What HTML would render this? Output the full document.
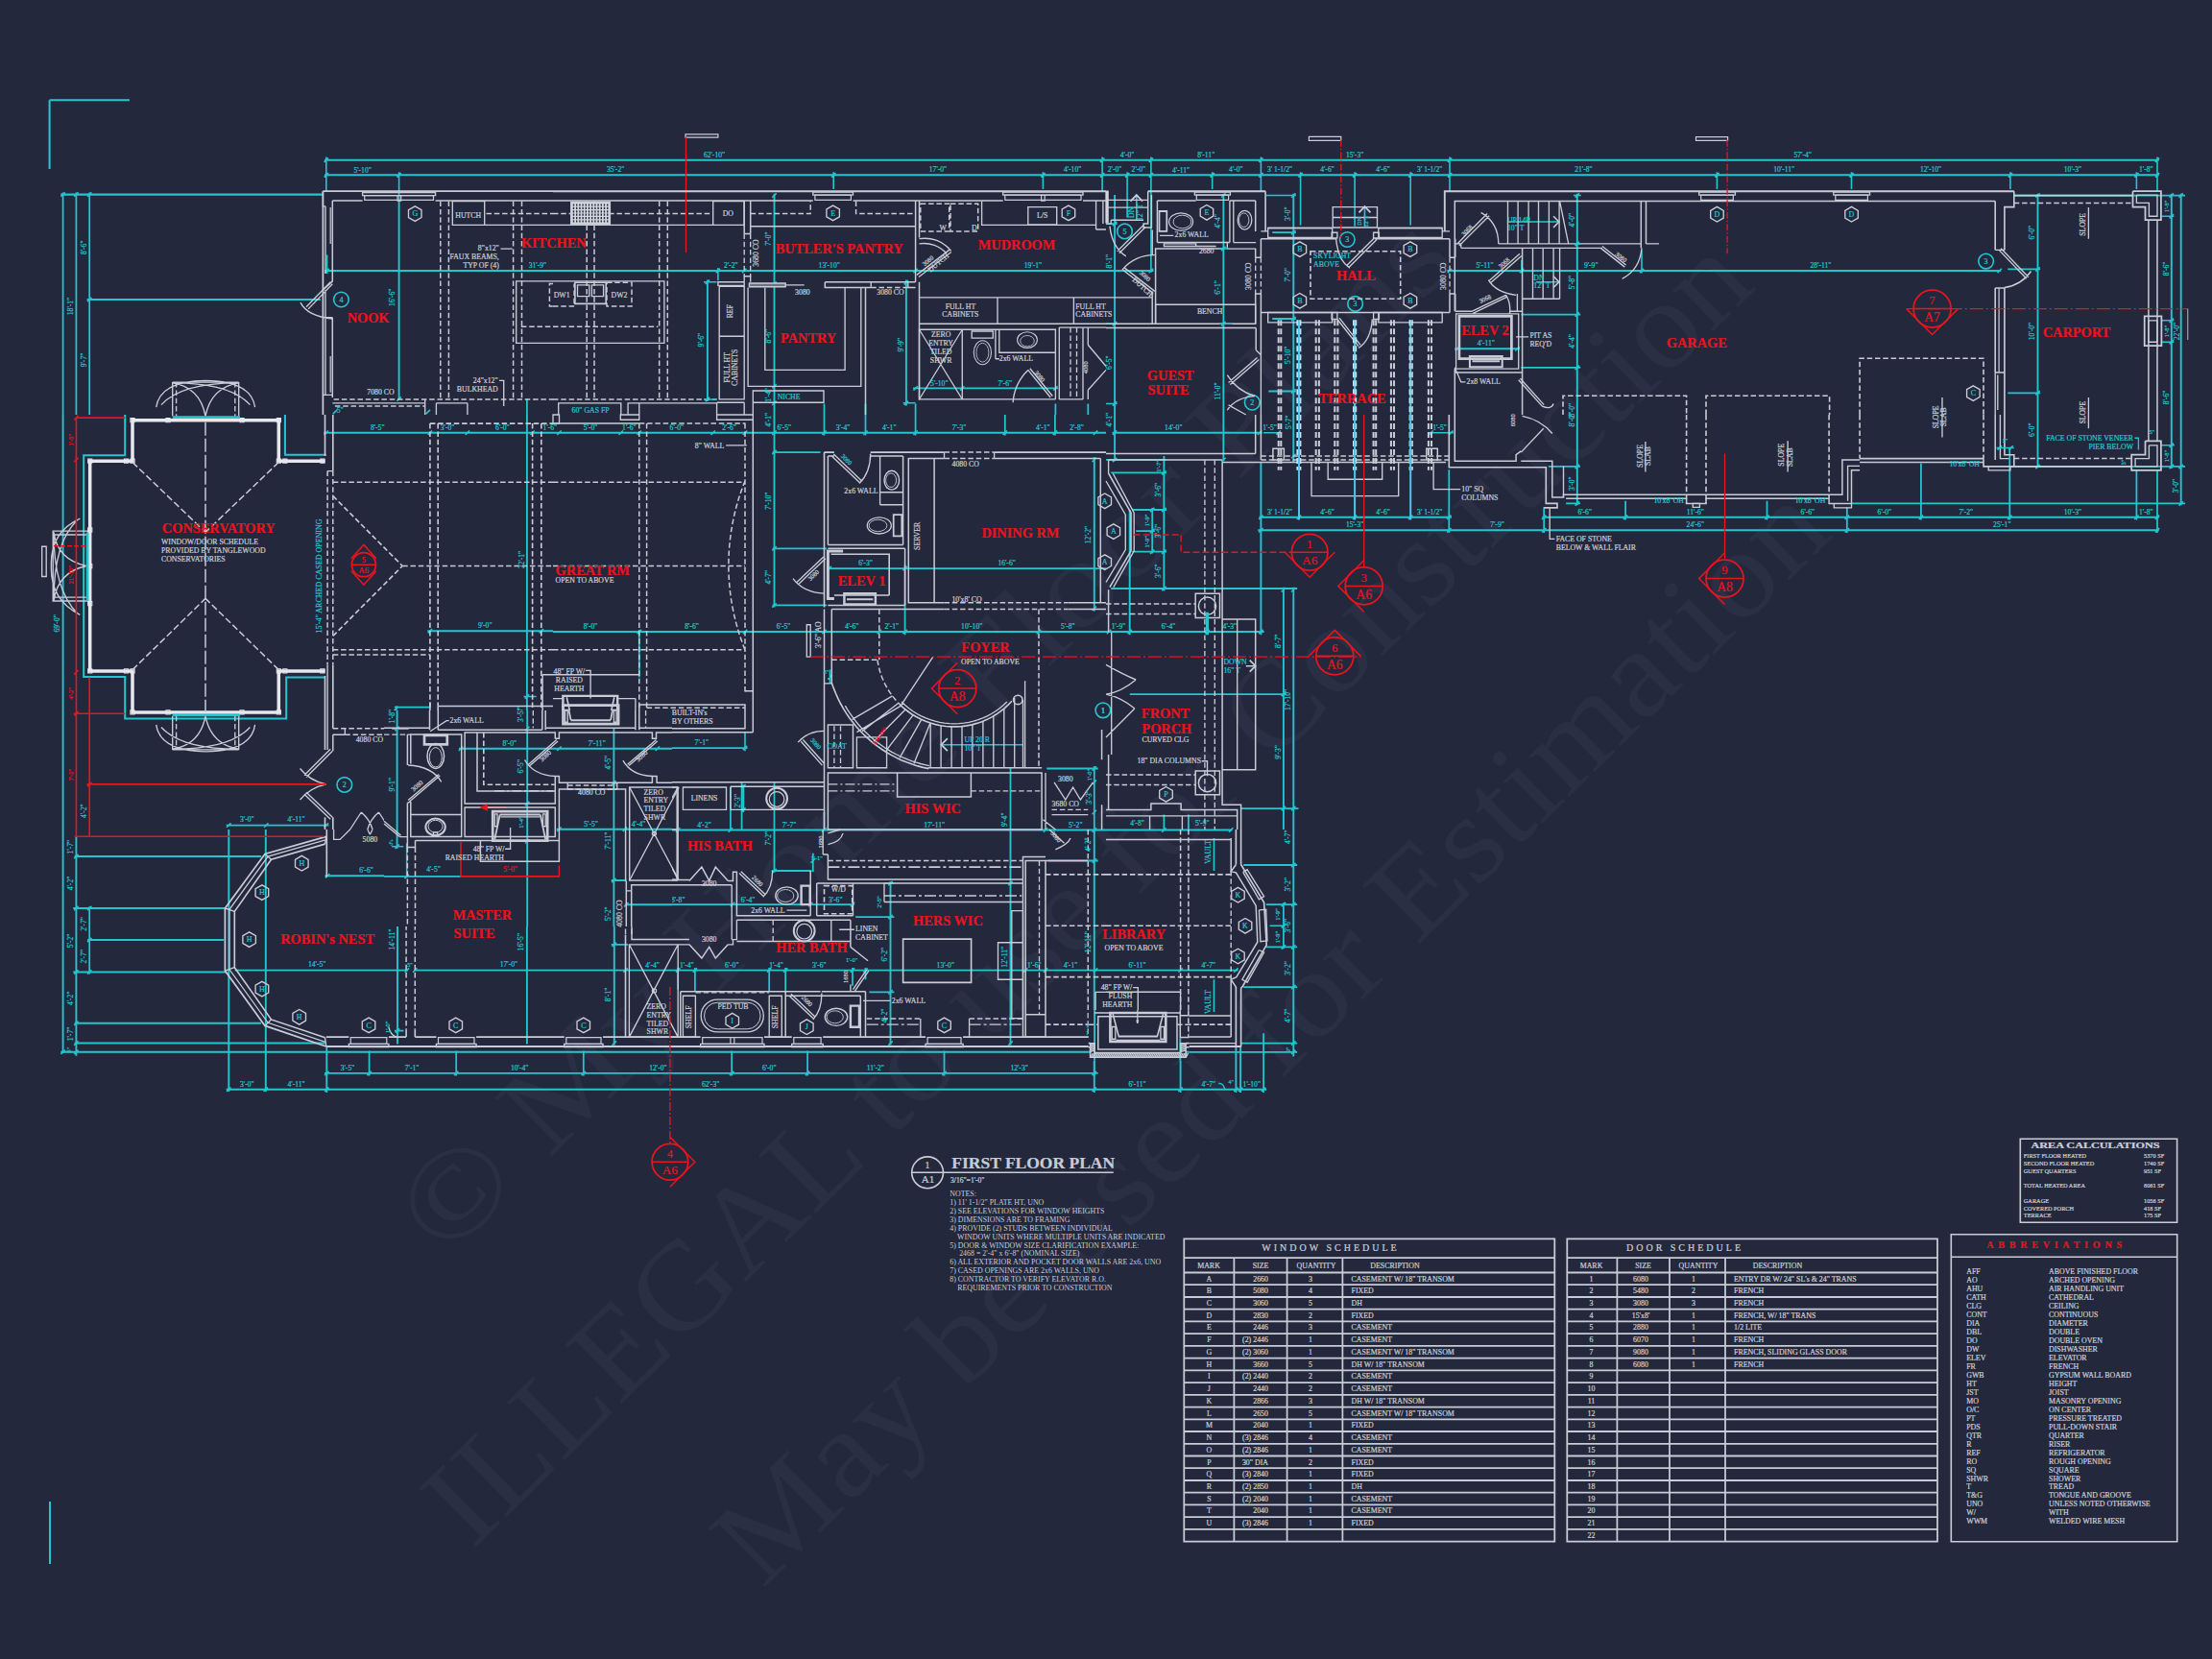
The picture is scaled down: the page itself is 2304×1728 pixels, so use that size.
<!DOCTYPE html><html><head><meta charset="utf-8"><title>First Floor Plan</title><style>html,body{margin:0;padding:0;background:#23283c}svg{display:block}text{font-family:"Liberation Serif",serif;stroke-width:.22px}</style></head><body>
<svg width="2304" height="1728" viewBox="0 0 2304 1728">
<rect width="2304" height="1728" fill="#23283c"/>
<text x="464" y="1313" font-size="130" fill="#2a2f45" stroke="none" textLength="1480" lengthAdjust="spacingAndGlyphs" transform="rotate(-44.5 464 1313)">© My Home Floor Plans</text>
<text x="492" y="1615" font-size="130" fill="#2a2f45" stroke="none" textLength="1877" lengthAdjust="spacingAndGlyphs" transform="rotate(-44.5 492 1615)">ILLEGAL to use for Construction</text>
<text x="794" y="1656" font-size="130" fill="#2a2f45" stroke="none" textLength="1567" lengthAdjust="spacingAndGlyphs" transform="rotate(-44.5 794 1656)">May be used for Estimation</text>
<path d="M52 1564L52 1629M51.6 104.2L134.9 104.2M51.6 104.2L51.6 176M90.6 312L333.8 312M339.8 473.7L296.9 473.7L296.9 432M130.2 432L130.2 474.2L87.2 474.2L87.2 704.9L130.2 704.9L130.2 748.4L298.2 748.4L298.2 705.4L338.5 705.4M77.6 892.1L272.1 892.1M76.3 946L234.4 946M91.1 979.1L233.1 979.1M76.3 1012.4L235.7 1012.4M77.6 1065.8L272.1 1065.8M77.6 1086.6L338.5 1086.6M63.3 1095.8L576 1095.8M576 1095.8L1152 1095.8" fill="none" stroke="#23c6cf" stroke-width="2.03"/>
<path d="M63.3 202.6L336.4 202.6" fill="none" stroke="#23c6cf" stroke-width="2.16"/>
<path d="M65.6 200.5L65.6 432M79.4 200.5L79.4 432M93.2 200.5L93.2 432M548.9 415.9L548.9 432M410.9 736.7L447.9 736.7M93.2 944.2L93.2 1014.5M384.6 1094.5L384.6 1120.5M475.2 1094.5L475.2 1120.5M858.5 420.5L858.5 432M901.5 420.5L901.5 432M953.6 420.5L953.6 432M1099.4 420.5L1099.4 432M1133.3 420.5L1133.3 432M858.5 432L858.5 453.4M901.5 432L901.5 453.4M953.6 432L953.6 453.4M1046.8 432L1046.8 453.4M1098.9 432L1098.9 453.4M804.6 471.1L854.6 471.1M804.6 571.3L861.1 571.3M804.6 630.4L861.1 630.4M942.6 588.2L942.6 661.2M665.8 655.9L665.8 705.4M639.8 779.1L639.8 818.7M772.6 814.8L772.6 864M806.5 814.8L806.5 864M760.9 820L760.9 864M858.5 846L858.5 864M1052.5 799.2L1052.5 864M1139.8 797.9L1139.8 864M1090.3 800.5L1143.7 800.5M774.4 817.4L774.4 846M636.7 916.6L654.1 916.6M636.7 983.8L654.1 983.8M803.8 907L845.5 907M846.8 888.7L846.8 908.3M706.2 1008L706.2 1030.7M723.9 1008L723.9 1032M801.2 1008L801.2 1032M818.2 1008L818.2 1032M888 1008L888 1026.7M901.5 1008L901.5 1020.2M891.1 955.1L931.4 955.1M905.4 1033.3L931.4 1033.3M1091.6 896.5L1143.7 896.5M607.8 1094.5L607.8 1120.5M762.2 1094.5L762.2 1120.5M841.1 1094.5L841.1 1120.5M983.5 1094.5L983.5 1120.5M1139.8 1094.5L1139.8 1120.5M1325.2 242.2L1349.9 242.2M1325.2 332L1349.9 332M1321.3 407.5L1349.9 407.5M1584.3 327.6L1646.2 327.6M1584.3 382.8L1646.2 382.8M1152 478.9L1214.5 478.9M1509.3 489.3L1509.3 554.9M1608.2 528.3L1608.2 554.9M1693.1 521.8L1693.1 541.4M1612.9 485.9L1646 485.9M1631.1 524.4L1646 524.4M1200.2 528.9L1200.2 576.5M1179.3 531L1215 531M1179.3 574.7L1215 574.7M1157.2 492.4L1215 492.4M1176.7 723.1L1340 723.1M1292.6 842.1L1352.5 842.1M1212.4 848.6L1212.4 864M1237.9 848.6L1237.9 864M1295.2 901L1351.2 901M1318.7 942.1L1351.2 942.1M1318.7 986.4L1351.2 986.4M1295.2 1028.1L1351.2 1028.1M1292.6 1086.6L1351.2 1086.6M1235.3 1095.8L1351.2 1095.8M1336.9 940.3L1336.9 988.2M1316.1 1076.2L1316.1 1137.9M2091.3 280.4L2125.1 280.4M2091.3 409.3L2125.1 409.3M1840.5 521.8L1840.5 541.4M1923.8 528.3L1923.8 554.9M2000.9 482.8L2000.9 541.4M2093.3 465.9L2093.3 541.4M2225.4 489.3L2225.4 541.4M2247 489.3L2247 554.9M1928.5 524.4L2276.1 524.4" fill="none" stroke="#23c6cf" stroke-width="1.76"/>
<path d="M63.4 204.8L67.8 200.4M77.2 204.8L81.6 200.4M91 204.8L95.4 200.4M91 314.2L95.4 309.8M339.8 163.5L339.8 199.2M415.6 179.2L415.6 209.6M337.6 168.9L342 164.5M337.6 184.5L342 180.1M413.4 184.5L417.8 180.1M413.4 417.8L417.8 413.4M338.4 284.2L342.8 279.8M340.6 265.6L340.6 285.1M347.6 312a7.8 7.8 0 1 0 15.6 0a7.8 7.8 0 1 0 -15.6 0M346.7 431.3L351.1 426.9M443.6 431.3L448 426.9M236.1 861.8L240.5 857.4M275.1 861.8L279.5 857.4M337.6 861.8L342 857.4M337.6 452.9L342 448.5M445.7 452.9L450.1 448.5M484.7 452.9L489.1 448.5M552.4 452.9L556.8 448.5M546.7 727.7L551.1 723.3M546.7 761L551.1 756.6M546.7 846.4L551.1 842M545.5 725.5L558.6 725.5M445.7 659.4L450.1 655M561.6 659.4L566 655M410.5 740.2L414.9 735.8M410.5 761.5L414.9 757.1M410.1 759.3L427.1 759.3M351 817.4a7.8 7.8 0 1 0 15.6 0a7.8 7.8 0 1 0 -15.6 0M478.2 781L482.6 776.6M77.2 894.3L81.6 889.9M77.2 948.2L81.6 943.8M77.2 1014.6L81.6 1010.2M77.2 1068L81.6 1063.6M77.2 1088.8L81.6 1084.4M77.2 1098L81.6 1093.6M91 948.2L95.4 943.8M91 981.3L95.4 976.9M91 1014.6L95.4 1010.2M63.4 1098L67.8 1093.6M236.1 1137L240.5 1132.6M274.6 1137L279 1132.6M338.1 1137L342.5 1132.6M338.1 1120.1L342.5 1115.7M382.4 1120.1L386.8 1115.7M473 1120.1L477.4 1115.7M338.9 914.4L343.3 910M421.7 914.4L426.1 910M476.9 914.4L481.3 910M411.8 881.8L416.2 877.4M411.8 1075.8L416.2 1071.4M410.9 1073.6L420.5 1073.6M421.7 1012.8L426.1 1008.4M430.1 1012.8L434.5 1008.4M866 184.5L870.4 180.1M868.2 179.2L868.2 197.1M1084.2 184.5L1088.6 180.1M1086.4 179.2L1086.4 197.1M1145.9 184.5L1150.3 180.1M1145.9 168.9L1150.3 164.5M1148.1 163.5L1148.1 199.2M804.3 205.8L808.7 201.4M804.3 297.8L808.7 293.4M804.3 404.5L808.7 400.1M804.3 422L808.7 417.6M745.7 284.2L750.1 279.8M773 284.2L777.4 279.8M951.4 284.2L955.8 279.8M747.9 279.1L747.9 292.2M734.7 295.9L739.1 291.5M734.7 418.1L739.1 413.7M941.7 296.4L946.1 292M941.7 422L946.1 417.6M951.4 406.6L955.8 402.2M1000.1 406.6L1004.5 402.2M1097.2 406.6L1101.6 402.2M580.3 452.9L584.7 448.5M644.6 452.9L649 448.5M663.6 452.9L668 448.5M740.5 452.9L744.9 448.5M773.8 452.9L778.2 448.5M804.3 452.9L808.7 448.5M856.3 452.9L860.7 448.5M899.3 452.9L903.7 448.5M951.4 452.9L955.8 448.5M1044.6 452.9L1049 448.5M1096.7 452.9L1101.1 448.5M1138.9 452.9L1143.3 448.5M804.3 473.3L808.7 468.9M804.3 573.5L808.7 569.1M804.3 632.6L808.7 628.2M861.5 594.3L865.9 589.9M940.4 594.3L944.8 589.9M1137.6 481.1L1142 476.7M1137.6 636L1142 631.6M663.6 660.2L668 655.8M773.8 660.2L778.2 655.8M856.3 660.2L860.7 655.8M913.6 660.2L918 655.8M940.4 660.2L944.8 655.8M1079.8 660.2L1084.2 655.8M580.3 781.3L584.7 776.9M681.9 781.3L686.3 776.9M773.8 781.3L778.2 776.9M776 762.7L776 782.2M684.1 770.5L684.1 782.2M637.6 818.3L642 813.9M1137.6 802.7L1142 798.3M1137.6 817L1142 812.6M1137.6 848.2L1142 843.8M772.2 821.4L776.6 817M772.2 845.6L776.6 841.2M980.9 775.7L1065.5 775.7M1141.1 739.8a7.8 7.8 0 1 0 15.6 0a7.8 7.8 0 1 0 -15.6 0M864.5 697.6L864.5 711.9M862.3 707.6L866.7 703.2M580.3 866.7L584.7 862.3M649.3 866.7L653.7 862.3M704 866.7L708.4 862.3M758.7 866.7L763.1 862.3M856.3 866.7L860.7 862.3M1086.8 866.7L1091.2 862.3M1137.6 866.7L1142 862.3M637.6 918.8L642 914.4M637.6 986L642 981.6M637.6 1088.8L642 1084.4M649.8 944.3L654.2 939.9M760.8 944.3L765.2 939.9M842 944.3L846.4 939.9M885.8 944.3L890.2 939.9M804.3 909.2L808.7 904.8M844.6 898.7L849 894.3M649.3 1012.8L653.7 1008.4M704 1012.8L708.4 1008.4M721.7 1012.8L726.1 1008.4M799 1012.8L803.4 1008.4M816 1012.8L820.4 1008.4M885.8 1012.8L890.2 1008.4M899.3 1012.8L903.7 1008.4M1066 1012.8L1070.4 1008.4M1086.8 1012.8L1091.2 1008.4M1138.9 1012.8L1143.3 1008.4M925.3 922.2L929.7 917.8M925.3 957.3L929.7 952.9M925.3 1035.5L929.7 1031.1M925.3 1088.8L929.7 1084.4M921 920L931.4 920M1050.3 922.2L1054.7 917.8M1050.3 1088.8L1054.7 1084.4M1137.6 898.7L1142 894.3M605.6 1120.1L610 1115.7M760 1120.1L764.4 1115.7M838.9 1120.1L843.3 1115.7M981.3 1120.1L985.7 1115.7M1137.6 1120.1L1142 1115.7M1137.6 1137L1142 1132.6M1196.7 168.9L1201.1 164.5M1196.7 184.5L1201.1 180.1M1198.9 163.5L1198.9 199.2M1311.2 168.9L1315.6 164.5M1311.2 184.5L1315.6 180.1M1313.4 163.5L1313.4 199.2M1507.8 168.9L1512.2 164.5M1507.8 184.5L1512.2 180.1M1510 163.5L1510 199.2M1171.9 184.5L1176.3 180.1M1174.1 179.2L1174.1 226.5M1260.5 184.5L1264.9 180.1M1262.7 179.2L1262.7 197.1M1352.4 184.5L1356.8 180.1M1354.6 179.2L1354.6 234.4M1408.9 184.5L1413.3 180.1M1411.1 179.2L1411.1 235.7M1467 184.5L1471.4 180.1M1469.2 179.2L1469.2 234.4M1198.9 199.2L1198.9 283.8M1272.2 205.8L1276.6 201.4M1272.2 261.3L1276.6 256.9M1272.2 339.4L1276.6 335M1345.1 205.8L1349.5 201.4M1345.1 244.4L1349.5 240M1345.1 334.2L1349.5 329.8M1345.1 409.7L1349.5 405.3M1158.9 235.3L1163.3 230.9M1158.9 339.4L1163.3 335M1158.9 422.7L1163.3 418.3M1152 233.1L1163.7 233.1M1152 337.2L1163.7 337.2M1152 420.5L1163.7 420.5M1196.7 284.2L1201.1 279.8M1507.8 284.2L1512.2 279.8M1582.8 284.2L1587.2 279.8M1707.8 284.2L1712.2 279.8M1585 270.8L1585 284.4M1710 260.4L1710 284.4M1640.6 205.8L1645 201.4M1640.6 256.1L1645 251.7M1640.6 329.8L1645 325.4M1640.6 385L1645 380.6M1515.7 365.5L1520.1 361.1M1578.2 365.5L1582.6 361.1M1163.7 240.9a7.8 7.8 0 1 0 15.6 0a7.8 7.8 0 1 0 -15.6 0M1395.5 249.5a7.8 7.8 0 1 0 15.6 0a7.8 7.8 0 1 0 -15.6 0M1403.8 316.4a7.8 7.8 0 1 0 15.6 0a7.8 7.8 0 1 0 -15.6 0M1296.5 419.2a7.8 7.8 0 1 0 15.6 0a7.8 7.8 0 1 0 -15.6 0M1569.9 231L1623.3 231M1599.9 293.7L1623.3 293.7M1183.8 203.1L1183.8 229.2M1421.5 215.6L1421.5 235.7M1158.9 481.1L1163.3 476.7M1158.9 452.9L1163.3 448.5M1309.9 452.9L1314.3 448.5M1272.2 481.1L1276.6 476.7M1316.1 450.7L1334.3 450.7M1487.9 450.7L1514 450.7M1329.5 452.9L1333.9 448.5M1488.3 452.9L1492.7 448.5M1509.1 452.9L1513.5 448.5M1345.1 477.2L1349.5 472.8M1311.2 541L1315.6 536.6M1350.8 541L1355.2 536.6M1408.9 541L1413.3 536.6M1467 541L1471.4 536.6M1507.1 541L1511.5 536.6M1311.2 554.5L1315.6 550.1M1507.1 554.5L1511.5 550.1M1606 554.5L1610.4 550.1M1606 541L1610.4 536.6M1690.9 541L1695.3 536.6M1640.6 488.1L1645 483.7M1640.6 526.6L1645 522.2M1210.2 494.6L1214.6 490.2M1210.2 533.2L1214.6 528.8M1210.2 576.9L1214.6 572.5M1210.2 615.2L1214.6 610.8M1198 533.2L1202.4 528.8M1198 555.3L1202.4 550.9M1198 576.9L1202.4 572.5M1183.2 553.1L1202.8 553.1M1152.9 660.2L1157.3 655.8M1174.5 660.2L1178.9 655.8M1255.3 660.2L1259.7 655.8M1311.2 660.2L1315.6 655.8M1334.7 616.5L1339.1 612.1M1334.7 725.3L1339.1 720.9M1334.7 844.3L1339.1 839.9M1345.1 616.5L1349.5 612.1M1345.1 844.3L1349.5 839.9M1141.1 739.8a7.8 7.8 0 1 0 15.6 0a7.8 7.8 0 1 0 -15.6 0M1210.2 866.7L1214.6 862.3M1280 866.7L1284.4 862.3M1345.1 903.2L1349.5 898.8M1345.1 944.3L1349.5 939.9M1345.1 988.6L1349.5 984.2M1345.1 1030.3L1349.5 1025.9M1345.1 1088.8L1349.5 1084.4M1345.1 1098L1349.5 1093.6M1334.7 944.3L1339.1 939.9M1334.7 966.5L1339.1 962.1M1334.7 988.6L1339.1 984.2M1322.6 964.3L1338.7 964.3M1227.4 1012.8L1231.8 1008.4M1285.2 1012.8L1289.6 1008.4M1227.4 1137L1231.8 1132.6M1285.2 1137L1289.6 1132.6M1289.9 1137L1294.3 1132.6M1313.9 1137L1318.3 1132.6M1264.5 873.1L1264.5 907M1264.5 1020.2L1264.5 1054.1M1786.2 184.5L1790.6 180.1M1788.4 179.2L1788.4 197.1M1926.3 184.5L1930.7 180.1M1928.5 179.2L1928.5 197.1M2091.7 184.5L2096.1 180.1M2093.9 179.2L2093.9 197.1M2223.2 184.5L2227.6 180.1M2225.4 179.2L2225.4 197.1M2244.8 168.9L2249.2 164.5M2244.8 184.5L2249.2 180.1M2247 163.5L2247 199.2M2060.8 272.1a7.8 7.8 0 1 0 15.6 0a7.8 7.8 0 1 0 -15.6 0M2080.5 284.2L2084.9 279.8M2120.3 205.8L2124.7 201.4M2120.3 282.6L2124.7 278.2M2120.3 411.5L2124.7 407.1M2097.8 203.6L2276.1 203.6M2259.6 205.8L2264 201.4M2259.6 227.4L2264 223M2259.6 336L2264 331.6M2259.6 358.4L2264 354M2269.5 205.8L2273.9 201.4M2251.4 225.2L2264.4 225.2M2251.4 333.8L2264.4 333.8M2251.4 356.2L2264.4 356.2M1838.3 541L1842.7 536.6M1921.6 541L1926 536.6M1998.7 541L2003.1 536.6M2091.1 541L2095.5 536.6M2223.2 541L2227.6 536.6M2244.8 541L2249.2 536.6M1921.6 554.5L1926 550.1M2244.8 554.5L2249.2 550.1M2120.3 488.1L2124.7 483.7M2259.6 466L2264 461.6M2259.6 488.1L2264 483.7M2269.5 488.1L2273.9 483.7M2269.5 526.6L2273.9 522.2M2251.4 463.8L2264.9 463.8M2092.6 485.9L2276.1 485.9M2080.5 468.6L2084.9 464.2M2092.4 468.6L2096.8 464.2" fill="none" stroke="#23c6cf" stroke-width="1.62"/>
<path d="M338 166.7L576 166.7M338 182.3L576 182.3M415.6 209.6L415.6 415.6M338 282L576 282M65.6 432L65.6 864M235.7 859.6L342.4 859.6M337.2 450.7L576 450.7M548.9 432L548.9 864M445.3 657.2L576 657.2M412.7 735.4L412.7 864M477.8 778.8L576 778.8M65.6 864L65.6 1097.1M79.4 871.3L79.4 1099.7M238.3 864L238.3 1136.9M276.8 864L276.8 1136.9M235.7 1134.8L576 1134.8M338 1117.9L576 1117.9M340.3 1090.5L340.3 1137.9M338.5 912.2L480.4 912.2M414 877L414 1087.4M244.8 1010.6L425 1010.6M431 1010.6L576 1010.6M548.9 864L548.9 1087.4M576 166.7L1152 166.7M576 182.3L1152 182.3M806.5 201.8L806.5 432M576 282L1152 282M736.9 291.6L736.9 417.9M943.9 291.6L943.9 422.4M951 404.4L1102 404.4M576 450.7L1152 450.7M806.5 432L806.5 632.5M862.4 592.1L1152 592.1M1139.8 476.3L1139.8 636.4M576 658L1152 658M576 779.1L778.6 779.1M576 864.5L1152 864.5M639.8 864L639.8 1088.5M650.2 942.1L889.8 942.1M806.5 864L806.5 908.8M576 1010.6L1152 1010.6M927.5 918.2L927.5 1088.5M1052.5 864L1052.5 1088.5M1139.8 864L1139.8 1137.9M576 1117.9L1143.7 1117.9M576 1134.8L1152 1134.8M1152 166.7L1728 166.7M1152 182.3L1728 182.3M1274.4 201.8L1274.4 432M1347.3 201.8L1347.3 432M1161.1 203.1L1161.1 432M1152 282L1201.5 282M1507.4 282L1728 282M1642.8 201.8L1642.8 432M1515.3 363.3L1583 363.3M1161.1 432L1161.1 480.2M1158.5 450.7L1314.7 450.7M1274.4 432L1274.4 480.2M1347.3 432L1347.3 481.5M1311.4 538.8L1511.9 538.8M1310.3 552.3L1728 552.3M1606.4 538.8L1728 538.8M1313.4 481.5L1313.4 661.2M1642.8 432L1642.8 526.3M1212.4 475L1212.4 615.6M1157.2 613L1351.2 613M1176.7 531L1176.7 661.2M1152 658L1316.6 658M1336.9 611.7L1336.9 864M1347.3 611.7L1347.3 864M1152 864.5L1283.5 864.5M1347.3 864L1347.3 1100.4M1152 1010.6L1289.5 1010.6M1152 1134.8L1319.2 1134.8M1229.6 1090.5L1229.6 1137.9M1287.4 1090.5L1287.4 1137.9M1292.1 1090.5L1292.1 1137.9M1728 166.7L2248.8 166.7M1728 182.3L2248.8 182.3M1728 282L2084.2 282M2122.5 201.8L2122.5 432M2261.8 201.8L2261.8 432M2271.7 201.8L2271.7 432M1728 538.8L2248.8 538.8M1728 552.3L2248.8 552.3M2122.5 432L2122.5 487.2M2261.8 432L2261.8 488M2271.7 432L2271.7 526.3" fill="none" stroke="#23c6cf" stroke-width="1.89"/>
<path d="M439 226.5L432.3 230.4L425.5 226.5L425.5 218.7L432.3 214.8L439 218.7ZM339 214.8L339 285.1M336.4 199.2L336.4 214.8L339 214.8M339 302.1L339 411.4M338.5 330.7L346.3 330.7M336.4 411.4L346.3 411.4M344.2 293.7L319 319.8M346.3 295.8L321.1 321.9M313 315.1Q320.3 329.4 346.3 332M377.6 200.5L453.6 200.5L453.6 203.6L377.6 203.6ZM471.3 209.6L504.7 209.6L504.7 234.4L471.3 234.4ZM504.7 234.4L576 234.4M521.6 259.1L533.8 259.1M520 396.3L524.7 396.3L524.7 423.1M576 292.9L537.7 292.9L537.7 357.3L576 357.3M346.3 419.8L442.7 419.8M442.7 415.9L442.7 432M454.4 419.8L454.4 432M486.9 419.8L486.9 432M454.4 419.8L486.9 419.8M83.3 540.1Q52.1 554.4 53.4 589.5M53.4 589.5Q52.1 624.7 83.3 640.3M56 554.4Q59.9 583 89.8 589.5M56 626Q59.9 596.1 89.8 589.5M56 555.7Q56 614.3 80.7 639M56 624.7Q56 564.8 80.7 541.4M55.2 553.1L91.7 553.1L91.7 557L55.2 557ZM55.2 622.1L91.7 622.1L91.7 626L55.2 626ZM55.2 553.1L55.2 626M43.7 569.2L48.2 569.2L48.2 600.5L43.7 600.5ZM162.7 754.9Q166.7 782.2 214 782.8M214 782.8Q261.7 782.2 265.6 754.9M179.7 780.2Q208.3 775.7 214 745.8M248.7 780.2Q220 775.7 214 745.8M181 780.2Q239.6 780.2 260.4 757.5M247.4 780.2Q188.8 780.2 168 757.5M179.7 745.8L179.7 780.9M248.7 745.8L248.7 780.9M179.7 780.9L248.7 780.9M341.1 490.6L346.8 490.6M341.1 692.4L341.1 780.9M359.3 758.8L359.3 765.3M447.9 761.4L464.8 750.2L468.2 750.2M423.1 796.6Q447.9 796.6 459.6 813.5M423.1 838.2L458.3 809.6M425.2 840.3L460.4 811.7M346.3 782.2L319 809.6M344.2 780.2L316.9 807.5M346.3 851.2L319 825.2M344.2 853.3L316.9 827.3M312.5 800.5Q322.9 813.5 339.8 816.9M312.5 833Q322.9 820.5 339.8 816.9M364.6 864L376.3 846M406.2 864L394.5 846M376.3 846Q385.4 853.8 388 864M394.5 846Q385.4 853.8 382.8 864M548.1 792.7L576 767.9M546.8 791.3Q557.3 807 576 810.9M162.7 424.2Q166.7 396.8 214 396.3M214 396.3Q261.7 396.8 265.6 424.2M179.7 398.9Q208.3 403.4 214 433.3M248.7 398.9Q220 403.4 214 433.3M181 398.9Q239.6 398.9 260.4 421.6M247.4 398.9Q188.8 398.9 168 421.6M179.7 398.1L179.7 433.3M248.7 398.1L248.7 433.3M179.7 398.1L248.7 398.1M321.1 903.1L314.3 907L307.5 903.1L307.5 895.3L314.3 891.4L321.1 895.3ZM279.7 933.5L272.9 937.4L266.1 933.5L266.1 925.7L272.9 921.8L279.7 925.7ZM266.4 982.5L259.6 986.4L252.9 982.5L252.9 974.7L259.6 970.8L266.4 974.7ZM279.7 1034L272.9 1037.9L266.1 1034L266.1 1026.2L272.9 1022.3L279.7 1026.2ZM318.5 1063.2L311.7 1067.1L304.9 1063.2L304.9 1055.4L311.7 1051.5L318.5 1055.4ZM390.8 1071.8L384.1 1075.7L377.3 1071.8L377.3 1064L384.1 1060.1L390.8 1064ZM481.5 1071.8L474.7 1075.7L468 1071.8L468 1064L474.7 1060.1L481.5 1064ZM339.8 871.3L338.5 879.1M276 889.5L282.5 895.2M234.4 946L244.3 949.4M234.4 1011.1L244.3 1007.7M276 1068.4L282.5 1061.9M339.8 1090L338.5 1080.7M363.3 1087.4L404.9 1087.4L404.9 1090.5L363.3 1090.5ZM454.4 1087.4L496.1 1087.4L496.1 1090.5L454.4 1090.5ZM385.4 869.2L382.8 864M385.4 869.2L388 864M347.6 864L347.6 874.4L354.1 874.4L364.6 864M432.3 864L432.3 875.7M480.4 864L480.4 875.7M484.3 864L484.3 871.3M520.8 883.5L531.2 883.5L531.2 864M406.2 867.9Q411.4 874.4 417.9 875.7M404.9 1069.7Q406.2 1077.5 412.7 1080.1M874.4 225.8L867.6 229.7L860.9 225.8L860.9 218L867.6 214.1L874.4 218ZM1119.7 225.8L1112.9 229.7L1106.2 225.8L1106.2 218L1112.9 214.1L1119.7 218ZM846.8 200L888.5 200L888.5 203.1L846.8 203.1ZM1044.7 200L1128 200L1128 203.1L1044.7 203.1ZM576 234.4L775.2 234.4M742.7 209.6L775.2 209.6L775.2 234.4L742.7 234.4ZM775.2 243.5L781.7 243.5M775.2 296.9L775.2 287.7L781.7 287.7L781.7 293.7M781.7 235.7L953.6 235.7M1022.6 209.6L1022.6 234.4L1141.6 234.4M1141.6 209.1L1141.6 239M1141.6 239L1152 239M1148.9 209.1L1148.9 233.1M1070.8 215.6L1100.7 215.6L1100.7 233.8L1070.8 233.8ZM957.5 248.7A35.2 35.2 0 0 1 990.6 261.2M957.5 253.9A31.2 31.2 0 0 1 986.1 264.3M954.9 286.4L988.7 260.4M957 288.5L990.8 262.5M747.9 293.7L775.2 293.7L775.2 297.4L747.9 297.4ZM818.2 296.9L837.7 296.9M907.2 293.7L907.2 299.5M945.8 293.7L945.8 299.5M945.8 299.5L953.6 299.5M749.2 298.2L775.2 298.2L775.2 350.2L749.2 350.2ZM749.2 350.2L775.2 350.2L775.2 415.9L749.2 415.9ZM779.1 299.5L779.1 402.3L896.8 402.3L896.8 299.5M796.8 299.5L796.8 385.4L880.1 385.4L880.1 299.5M784.3 407L858 407L858 419.2L784.3 419.2ZM746.6 419.2L775.2 419.2M746.6 419.2L746.6 432M775.2 419.2L775.2 432M784.3 419.2L784.3 432M957.5 309.9L1152 309.9M957.5 337.2L1152 337.2M1039 309.9L1039 337.2M1118.4 309.9L1118.4 337.2M957.5 343.2L1002.3 343.2L1002.3 415.9L957.5 415.9ZM957.5 343.2L1099.4 343.2M1099.4 343.2L1099.4 415.9M957.5 415.9L1099.4 415.9M1040.8 343.2L1099.4 343.2L1099.4 367.2L1040.8 367.2ZM1036.9 343.2L1036.9 373.7M1036.9 373.7L1040.8 373.7M1012.2 345L1034.3 345L1034.3 352.1L1012.2 352.1ZM1103.3 341.1L1103.3 415.9M1128 341.1L1128 415.9M1133.3 341.1L1133.3 359.3M1103.3 341.1L1152 341.1M1103.3 415.9L1128 415.9M1133.3 359.3L1152 381.5M1133.3 406.2L1152 385.4M1133.3 406.2L1133.3 415.9M1055.1 419.2A52.1 52.1 0 0 1 1070.8 385.4M1070.8 385.4L1094.2 414M1072.8 383.8L1096.3 412.5M576 292.9L691.9 292.9L691.9 357.3L576 357.3M601.5 296.9L613.8 296.9L613.8 308.6L601.5 308.6ZM616.4 296.9L628.6 296.9L628.6 308.6L616.4 308.6ZM581.7 432L581.7 419.8L646.8 419.8L646.8 432M654.1 432L654.1 419.8L665.8 419.8L665.8 432M665.8 419.8L746.6 419.8M576 432L582.5 432L582.5 441.1L576 441.1ZM646.3 432L665.8 432L665.8 437.2L646.3 437.2ZM746.6 432L784.3 432L784.3 437.2L746.6 437.2ZM756.2 463.8L777.8 463.8M776 719.7L784.3 719.7M609.9 698.4L615.1 698.4L615.1 727.6M588.5 739.3L592.1 739.3L592.1 751L588.5 751ZM638 739.3L641.6 739.3L641.6 751L638 751ZM576 727.6L586.4 727.6M643.2 727.6L661.9 727.6M661.9 727.6L661.9 757.5M576 757.5L661.9 757.5M581.2 762.7L581.2 770.5L576 773.1M680.2 762.7L680.2 770.5M684.8 762.7L684.8 770.5M680.2 770.5L684.8 770.5M680.2 768.4L654.1 795.8M678.1 766.6L652 794M648.4 792.7Q659.3 807 680.2 808.8M680.2 808.3L684.8 808.3L684.8 814.8L680.2 814.8ZM581.2 820L654.1 820M581.2 814.8L581.2 864M651.5 820L651.5 864M655.4 820L706.2 820L706.2 864L655.4 864ZM655.4 820L681.5 864M706.2 820L681.5 864M711.4 820L756.5 820L756.5 843.4L711.4 843.4ZM760.9 819.2L858.5 819.2M760.9 843.4L858.5 843.4M760.9 819.2L760.9 843.4M983.5 471.1L983.5 477.6M1035.6 471.1L1035.6 477.6M866.3 475L895 502.3M868.4 473.1L897.1 500.5M906.7 472.4Q906.7 491.9 895 503.6M916.6 475L916.6 525.7M916.6 525.7L940.6 525.7M916.6 512.7L940.6 512.7M862.4 475L868.9 475M906.7 475L940.6 475M859.8 581.7L831.2 609.1M857.8 579.9L829.1 607.2M826 602.6Q836.4 616.9 858.5 618.2M858.5 711.9L866.3 711.9M840.3 650.7L844.2 650.7L844.2 684.1L840.3 684.1ZM880.3 735.1L882.7 739.1L885.2 742.9L887.9 746.7L890.7 750.4L893.6 754L896.6 757.5L899.8 760.8L903.1 764.1L906.5 767.2L910 770.2L913.6 773.1L917.3 775.8L921.1 778.5L925 780.9L929 783.3L933.1 785.5L937.2 787.5L941.4 789.4L945.7 791.2L950.1 792.8L954.5 794.2L958.9 795.5L963.4 796.6L967.9 797.6M939.1 731.1L942.8 734.6L946.7 737.8L950.8 740.8L955.1 743.5L959.6 745.8L964.2 747.9L969 749.7L973.9 751.2L978.8 752.4L983.8 753.2L988.9 753.7L993.9 753.9L999 753.7L1004.1 753.2L1009.1 752.4L1014 751.2L1018.9 749.7L1023.6 747.9L1028.3 745.8L1032.7 743.5L1037 740.8L1041.2 737.8L1045.1 734.6L1048.8 731.1M929.5 724.8L887.6 749.4M935.9 732.3L898 761.6M943.1 739L909.9 772.5M951.2 744.7L923 781.8M959.8 749.4L937.1 789.4M969 753L952 795.3M969.2 753.1L969.2 799.7M980.1 755.8L980.1 799.7M991.1 756.9L991.1 799.7M1002 756.6L1002 799.7M1012.9 754.7L1012.9 799.7M1023.9 751.2L1023.9 799.7M1034.8 745.9L1034.8 799.7M1045.8 738.1L1045.8 799.7M1056.7 727L1056.7 799.7M1067.6 709.2L1067.6 799.7M1065.5 728.9L1065.5 799.7M971.8 684.1L938 735.4M938 735.4L892.4 762.7M892.4 767.9L923.6 767.9L923.6 799.7L892.4 799.7ZM831.2 773.1Q841.6 761.4 858.5 761.4M836.4 770.5L858.5 795.3M834.3 772.3L856.4 797.1M1089 804.9L1089 864M1098.1 814.8L1109.8 833L1117.6 820L1125.4 833L1138.5 814.8M1095.5 848.6L1133.3 848.6M1086.4 853.8L1099.4 864M614.5 1071.8L607.8 1075.7L601 1071.8L601 1064L607.8 1060.1L614.5 1064ZM769.5 1067.1L762.7 1071L756 1067.1L756 1059.3L762.7 1055.4L769.5 1059.3ZM847.1 1073.6L840.3 1077.5L833.5 1073.6L833.5 1065.8L840.3 1061.9L847.1 1065.8ZM990.3 1071.8L983.5 1075.7L976.8 1071.8L976.8 1064L983.5 1060.1L990.3 1064ZM655.4 864L655.4 916.1M655.4 983.8L655.4 1080.1M655.4 864L706.2 864L706.2 916.1L655.4 916.1ZM655.4 916.1L681.5 867.9L706.2 916.1M655.4 983.8L706.2 983.8L706.2 1080.1L655.4 1080.1ZM655.4 983.8L706.2 1080.1M706.2 983.8L655.4 1080.1M762.2 921.8L762.2 978.6M762.2 978.6L767.4 978.6L767.4 958.3M770 909.6L794.7 933M771.8 907.7L796.6 931.2M804.6 907Q804.6 925.2 794.7 934.3M819.5 948.1L840.3 948.1M888.5 920L888.5 953.8M865.8 958.3L865.8 980.4M874.2 968.2L889.8 968.2M706.2 983.8L717.9 983.8M758.3 983.8L763.5 983.8L763.5 978.6M711.4 1037.2L724.4 1037.2L724.4 1080.1L711.4 1080.1ZM801.2 1037.2L814.3 1037.2L814.3 1080.1L801.2 1080.1ZM822.1 1037.2L846.8 1060.6M823.9 1035.3L848.6 1058.8M855.9 1034.6Q855.9 1052.8 846.8 1061.9M818.2 1037.2L896.3 1037.2M885.9 986.4L904.1 1000.7M888.5 1030.7L902.8 1009.8M890.6 1032L904.9 1011.1M885.9 1025.4L885.9 1032.7M898.9 1042.4L927.5 1042.4M1039.5 981.7L1065.5 981.7L1065.5 1020.2L1039.5 1020.2ZM921 939.5L1065.5 939.5M921 920L921 939.5M857.2 890L862.4 890M857.2 864L857.2 890M958.8 1061.1L958.8 1080.1M1009.6 1061.1L1009.6 1080.1M1068.2 1056.7L1089 1056.7M1053.8 948.6L1065.5 948.6L1065.5 1060.6L1053.8 1060.6ZM1089 896.5L1133.3 896.5M1092.9 864L1108.5 878.3M1115 873.1Q1112.4 879.6 1099.4 884.8M862.4 867.9L875.5 864M862.4 879.6Q875.5 877 878.1 867.9M587.7 1087.4L628.1 1087.4L628.1 1090.5L587.7 1090.5ZM729.6 1087.4L796 1087.4L796 1090.5L729.6 1090.5ZM824.7 1087.4L857.2 1087.4L857.2 1090.5L824.7 1090.5ZM964 1087.4L1003.1 1087.4L1003.1 1090.5L964 1090.5ZM576 864L582.5 864L582.5 896.5L576 896.5ZM1141.1 1033.3L1152 1033.3M1141.1 1033.3L1141.1 1056.7M1263.7 225.2L1256.9 229.1L1250.2 225.2L1250.2 217.4L1256.9 213.5L1263.7 217.4ZM1360.6 263.5L1353.8 267.4L1347.1 263.5L1347.1 255.7L1353.8 251.8L1360.6 255.7ZM1475.7 263.5L1468.9 267.4L1462.1 263.5L1462.1 255.7L1468.9 251.8L1475.7 255.7ZM1360.6 317.2L1353.8 321.1L1347.1 317.2L1347.1 309.4L1353.8 305.5L1360.6 309.4ZM1475.7 317.2L1468.9 321.1L1462.1 317.2L1462.1 309.4L1468.9 305.5L1475.7 309.4ZM1154.1 208.3L1195.7 208.3M1154.1 216.1L1195.7 216.1M1157.2 229.2L1191.1 229.2M1152 233.1L1157.2 233.1L1157.2 229.2M1163.7 261.7L1191.1 234.4M1165.8 263.8L1193.1 236.4M1155.9 235.7Q1158.5 257.8 1172.8 266.9M1168.9 281.2A41.7 41.7 0 0 1 1202.8 265.6M1171.5 279.1L1202.8 303.4M1169.7 281.2L1201 305.4M1152 309.9L1200.2 309.9M1313.4 240.9L1320.7 240.9M1244.4 200L1281.4 200L1281.4 203.1L1244.4 203.1ZM1280.9 209.1L1280.9 252.6M1284.8 209.1L1284.8 252.6M1278.3 252.6L1278.3 259.1L1308.2 259.1M1284.8 252.6L1308.2 252.6M1208 245.3L1222.3 245.3M1212.4 253.9L1245.7 253.9L1245.7 256.5L1212.4 256.5ZM1245.7 256.5L1266.6 256.5M1307.7 268.2L1313.4 268.2M1307.7 306L1313.4 306M1203.6 317.2L1307.7 317.2L1307.7 337.2L1203.6 337.2ZM1320.7 237.5L1387.7 237.5L1387.7 247.4L1320.7 247.4ZM1435.8 237.5L1502.2 237.5L1502.2 247.4L1435.8 247.4ZM1387.1 242.2L1392.9 242.2L1392.9 247.9L1387.1 247.9ZM1430.6 242.2L1436.4 242.2L1436.4 247.9L1430.6 247.9ZM1403.3 276L1431.9 247.4M1405.4 278.1L1434 249.5M1391.6 247.4Q1392.9 270.8 1405.9 279.1M1388.2 215.6L1434.5 215.6L1434.5 237L1388.2 237ZM1388.2 226.5L1434.5 226.5M1510 268.2L1515.8 268.2M1510 306L1515.8 306M1320.7 325.5L1387.7 325.5L1387.7 335.9L1320.7 335.9ZM1435.8 325.5L1502.2 325.5L1502.2 335.9L1435.8 335.9ZM1387.1 325.5L1392.9 325.5L1392.9 332.5L1387.1 332.5ZM1430.6 325.5L1436.4 325.5L1436.4 332.5L1430.6 332.5ZM1392.9 332.5L1415 360.7M1395 331.2L1417.1 359.3M1429.3 332.5Q1428 354.1 1415 362.5M1308.2 364.6L1313.4 369.8M1313.4 369.8L1313.4 432M1279.6 398.4L1309.5 372.4M1281.4 400.5L1311.4 374.5M1278.3 390.6Q1287.4 406.2 1306.9 412.7M1279.6 421.8L1297.8 432M1278.3 427.1Q1287.4 414 1306.9 412.7M1502.2 240.9L1510 240.9M1570.5 209.6L1570.5 253.9M1581.1 209.6L1581.1 253.9M1592.1 209.6L1592.1 253.9M1602.5 209.6L1602.5 253.9M1613.4 209.6L1613.4 253.9M1624.1 209.6L1624.1 253.9M1624.6 209.6L1633.7 253.9M1560.8 253.9L1709.3 253.9M1521.8 258.3L1668.9 258.3M1521.8 253.9L1521.8 258.3M1515.8 253.9L1521.8 253.9M1596.5 258.3L1596.5 311.2M1607.2 258.3L1607.2 311.2M1618.1 258.3L1618.1 311.2M1624.6 258.3L1624.6 311.2M1585.6 311.2L1624.6 311.2M1517.9 253.9L1549.1 222.6M1519.9 256L1551.2 224.7M1542.6 221.3Q1560.8 231.8 1560.8 253.9M1714.5 253.9L1728 253.9M1668.9 256.5L1693.6 276M1667.6 258.6L1692.3 278.1M1689.7 290.3Q1707.9 281.2 1710 258.3M1550.4 292.9L1583 264.3M1552.2 295L1584.8 266.4M1550.4 291.6Q1558.2 304.7 1579.1 307.3M1533.5 324.2L1568.6 307.3M1534.3 326.3L1569.4 309.4M1568.6 307.3Q1573.8 315.1 1572.5 326.8M1580.4 306L1580.4 324.2M1515.8 324.2L1533.5 324.2M1572.5 324.2L1585.6 324.2M1516.6 326.8L1581.7 326.8L1581.7 384.1L1516.6 384.1ZM1579.1 350.8L1592.1 350.8M1515.3 382.8L1521.8 397.9L1526.5 397.9M1515.3 388L1585.6 388M1581.7 395.8L1606.4 423.1M1583.5 394.2L1608.2 421.6M1606.4 423.1Q1615.5 427.1 1618.1 420.5M1166.6 557.5L1159.8 561.4L1153.1 557.5L1153.1 549.7L1159.8 545.8L1166.6 549.7ZM1157.5 525.7L1150.7 529.6L1143.9 525.7L1143.9 517.9L1150.7 514L1157.5 517.9ZM1157.5 589.5L1150.7 593.4L1143.9 589.5L1143.9 581.7L1150.7 577.8L1157.5 581.7ZM1221.3 831.2L1214.5 835.1L1207.7 831.2L1207.7 823.4L1214.5 819.5L1221.3 823.4ZM1251.7 792.7L1257.5 792.7L1257.5 808.3M1154.6 478.9L1154.6 493.2M1366 481.5L1366 516.6L1456.7 516.6L1456.7 481.5M1383.2 481.5L1383.2 499.2L1439.7 499.2L1439.7 481.5M1631.1 519.2L1728 519.2M1628.5 485.4L1628.5 517.9M1584.3 471.1L1607.7 446.3M1585.6 433.3Q1605.1 437.2 1616.8 451.5M1493.1 481.5L1493.1 509.6L1521.2 509.6M1614.2 529.6L1614.2 561.4L1619.4 561.4M1713.9 460.1L1713.9 491.4M1159.3 493.2L1181.2 534.1L1181.2 573.9L1159.8 611.7M1152 501L1172.3 536.2L1172.3 572.6L1152 606.5M1288.7 645L1288.7 801.8M1152 692.4Q1170.2 702.8 1183.2 708M1183.2 708Q1167.6 721 1152 723.1M1152 723.1Q1167.6 726.2 1181.9 738M1181.9 738L1152 767.9M1157.7 658.5L1157.7 786.1M1152 849.9L1288.7 849.9M1197.6 849.9L1197.6 864M1231.4 849.9L1231.4 864M1296.2 936.1L1289.5 940L1282.7 936.1L1282.7 928.3L1289.5 924.4L1296.2 928.3ZM1303.8 968.2L1297 972.1L1290.3 968.2L1290.3 960.4L1297 956.5L1303.8 960.4ZM1296.2 999.9L1289.5 1003.8L1282.7 999.9L1282.7 992.1L1289.5 988.2L1296.2 992.1ZM1294.7 908.3L1299.1 905.7L1316.6 933.8L1311.4 936.9L1294.7 908.3M1311.4 947.8L1318.7 947.3L1320 979.9L1312.9 980.7L1311.4 947.8M1311.4 989.5L1316.6 992.1L1299.1 1023.4L1293.9 1020.2L1311.4 989.5M1180.1 1028.6L1185.3 1028.6L1185.3 1065M1157.7 1069.7L1161.4 1069.7L1161.4 1082.2L1157.7 1082.2ZM1208.8 1069.7L1212.4 1069.7L1212.4 1082.2L1208.8 1082.2ZM1229.6 1033.3L1229.6 1058M1214.5 1059.3L1226.2 1059.3M1235.3 1086.6L1287.4 1086.6M1795.2 227.1L1788.4 231L1781.7 227.1L1781.7 219.3L1788.4 215.4L1795.2 219.3ZM1935.3 227.1L1928.5 231L1921.8 227.1L1921.8 219.3L1928.5 215.4L1935.3 219.3ZM2062.1 413.5L2055.3 417.4L2048.6 413.5L2048.6 405.7L2055.3 401.8L2062.1 405.7ZM1769.7 200L1807.4 200L1807.4 203.1L1769.7 203.1ZM1909.8 200L1947.5 200L1947.5 203.1L1909.8 203.1ZM2078.2 260.4L2087.9 260.4M2078.2 300L2087.9 300M2078.2 388L2087.9 388M2078.2 388L2078.2 432M2080.8 390.6L2080.8 427.1M2082.1 260.4L2110.8 290.3M2084.2 258.8L2112.9 288.8M2087.9 299.5Q2105.6 296.9 2115.5 282.5M2225.4 203.1L2247 203.1L2247 225.2L2238.4 225.2L2238.4 211.4L2225.4 211.4L2225.4 203.1M2237.9 333.8L2247 333.8L2247 356.2L2237.9 356.2ZM2175.4 216.1L2175.4 248.7M2175.4 414L2175.4 432M2023 414L2023 432M1862.1 459.3L1862.1 491.4M2023 432L2023 455.4M2175.4 432L2175.4 446.3M1728 519.2L1756.6 519.2M1777 519.2L1905.1 519.2M1763.2 524.4L1770.4 524.4L1770.4 528.3L1763.2 528.3ZM1910.3 524.4L1910.3 528.9L1928.5 528.9L1928.5 524.4M1924.6 521.8L1924.6 485.4L1937.1 485.4M1937.1 481.5L2066 481.5M2071.2 485.9L2071.2 489.8L2093.9 489.8L2093.9 485.9M2083.4 432L2083.4 477.6L2092.6 477.6M2238.4 463.8L2247 463.8L2247 485.9L2224.1 485.9L2224.1 477.6L2238.4 477.6L2238.4 463.8" fill="none" stroke="#c9ccd6" stroke-width="1.35"/>
<path d="M336.4 199.2L576 199.2M336.4 199.2L336.4 286.4M336.4 286.4L336.4 432M442.7 767.1L464.8 767.1L464.8 774.4L442.7 774.4ZM339.8 871.3L276 889.5L234.4 946L234.4 1011.1L276 1068.4L339.8 1090M986.9 769.2L980.4 775.7L986.9 782.2M930.7 536.2L939.3 536.2L939.3 558.3L930.7 558.3ZM1177.5 209.6L1183.8 203.1L1190 209.6M1415.5 221.3L1421.5 215.1L1427.5 221.3M1207.5 220L1215.3 220L1215.3 240.9L1207.5 240.9ZM1301.7 687.7L1307.7 693.7L1301.7 699.7M2221.5 199.2L2250.9 199.2L2250.9 229.2L2234.5 229.2L2234.5 215.6L2221.5 215.6L2221.5 199.2M2233.7 329.4L2251.4 329.4L2251.4 360.1L2233.7 360.1ZM2234.5 459.3L2250.9 459.3L2250.9 489.8L2220.2 489.8L2220.2 473.7L2234.5 473.7L2234.5 459.3M1233.3 1290.4L1619.3 1290.4L1619.3 1605.6L1233.3 1605.6ZM1233.3 1310.2L1619.3 1310.2M1233.3 1325.5L1619.3 1325.5M1233.3 1338.2L1619.3 1338.2M1233.3 1351L1619.3 1351M1233.3 1363.7L1619.3 1363.7M1233.3 1376.4L1619.3 1376.4M1233.3 1389.2L1619.3 1389.2M1233.3 1401.9L1619.3 1401.9M1233.3 1414.6L1619.3 1414.6M1233.3 1427.4L1619.3 1427.4M1233.3 1440.1L1619.3 1440.1M1233.3 1452.8L1619.3 1452.8M1233.3 1465.6L1619.3 1465.6M1233.3 1478.3L1619.3 1478.3M1233.3 1491L1619.3 1491M1233.3 1503.8L1619.3 1503.8M1233.3 1516.5L1619.3 1516.5M1233.3 1529.2L1619.3 1529.2M1233.3 1542L1619.3 1542M1233.3 1554.7L1619.3 1554.7M1233.3 1567.4L1619.3 1567.4M1233.3 1580.2L1619.3 1580.2M1233.3 1592.9L1619.3 1592.9M1285.4 1310.2L1285.4 1605.6M1340.6 1310.2L1340.6 1605.6M1398.4 1310.2L1398.4 1605.6M1632.3 1290.4L2018 1290.4L2018 1605.6L1632.3 1605.6ZM1632.3 1310.2L2018 1310.2M1632.3 1325.5L2018 1325.5M1632.3 1338.2L2018 1338.2M1632.3 1351L2018 1351M1632.3 1363.7L2018 1363.7M1632.3 1376.4L2018 1376.4M1632.3 1389.2L2018 1389.2M1632.3 1401.9L2018 1401.9M1632.3 1414.6L2018 1414.6M1632.3 1427.4L2018 1427.4M1632.3 1440.1L2018 1440.1M1632.3 1452.8L2018 1452.8M1632.3 1465.6L2018 1465.6M1632.3 1478.3L2018 1478.3M1632.3 1491L2018 1491M1632.3 1503.8L2018 1503.8M1632.3 1516.5L2018 1516.5M1632.3 1529.2L2018 1529.2M1632.3 1542L2018 1542M1632.3 1554.7L2018 1554.7M1632.3 1567.4L2018 1567.4M1632.3 1580.2L2018 1580.2M1632.3 1592.9L2018 1592.9M1684.4 1310.2L1684.4 1605.6M1739 1310.2L1739 1605.6M1797 1310.2L1797 1605.6" fill="none" stroke="#c9ccd6" stroke-width="1.76"/>
<path d="M346.3 209.1L377.6 209.1M453.6 209.1L576 209.1M346.3 209.1L346.3 283.8M346.3 283.8L346.3 292.9L336.4 302.1M346.3 330.7L346.3 414M456.2 735.4L576 735.4M565.1 702.8L565.1 758.8M565.1 702.8L576 702.8M346.8 765.3L359.3 765.3M414 765.3L480.4 765.3M346.8 765.3L346.8 782.2M423.1 765.3L423.1 796.6M428.4 765.3L428.4 795.3M480.4 765.3L480.4 864M484.9 762.7L484.9 864M484.9 762.7L576 762.7M423.1 838.2L423.1 864M428.4 843.4L428.4 864M497.4 762.7L497.4 830.4M497.4 830.4L576 830.4M484.9 836.9L576 836.9M511.7 846L576 846L576 851.2L511.7 851.2ZM516.9 864L516.9 851.2M414 875.7L576 875.7M500 875.7L500 897.3L576 897.3M576 209.1L846.8 209.1M888.5 209.1L1044.7 209.1M1128 209.1L1152 209.1M775.2 209.6L775.2 243.5M781.7 209.6L781.7 243.5M953.6 209.6L953.6 293.7M957.5 209.6L957.5 247.4M859.3 293.7L953.6 293.7M859.3 293.7L859.3 299.5L907.2 299.5M901.5 299.5L901.5 432M957.5 293.7L957.5 416.6M576 441.1L665.8 441.1M784.3 437.2L784.3 719.7M576 702.8L665.8 702.8M665.8 734.1L776 734.1L776 758.8L665.8 758.8ZM581.2 762.7L680.2 762.7M684.8 762.7L784.3 762.7M784.3 719.7L784.3 762.7M576 814.8L680.2 814.8M684.8 814.8L858.5 814.8M862.4 475L862.4 567.4M945.8 477.6L983.5 477.6M1035.6 477.6L1146.3 477.6M862.4 567.4L940.6 567.4M940.6 475L940.6 567.4M862.4 571.3L942.6 571.3M942.6 571.3L942.6 630.4M862.4 630.4L942.6 630.4M946.3 477.6L973.1 477.6L973.1 627.8L946.3 627.8ZM973.1 627.8L983.5 627.8M1112.4 627.8L1152 627.8M1146.3 477.6L1146.3 627.8M866.3 634.6L983.5 634.6M1112.4 634.6L1152 634.6M858.5 634.6L858.5 711.9M866.3 634.6L866.3 711.9M966.6 799.7L1085.1 799.7M862.4 754.9L888.5 754.9L888.5 799.7L862.4 799.7ZM858.5 711.9L858.5 864M862.4 804.9L1085.1 804.9L1085.1 864L862.4 864ZM934.6 804.9L1011.4 804.9L1011.4 829.9L934.6 829.9ZM1147.6 760.1L1147.6 791.3M1147.6 838.2L1147.6 864M949.7 1221.3L1159.8 1221.3M655.4 916.6L717.9 916.6M717.9 917.4L730.9 903.1L738.7 917.4L745.3 903.1L758.3 917.4M758.3 917.4L763.5 917.4L763.5 908.3L767.4 908.3L767.4 953.8L844.2 953.8M762.2 921.8L658 921.8L658 978.6L717.9 978.6M844.2 907L844.2 953.8M850.7 920L850.7 953.8M850.7 920L1065.5 920M850.7 953.8L888.5 953.8M767.4 958.3L885.9 958.3M767.4 980.4L885.9 980.4M885.9 958.3L885.9 986.4M717.9 983.8L730.9 998.1L738.7 986.4L745.3 998.1L758.3 983.8M708.8 1032.7L854.6 1032.7M708.8 1032.7L708.8 1080.1M818.2 1032.7L818.2 1080.1M855.9 1032.7L901.5 1032.7M896.3 1037.2L896.3 1080.1M901.5 1032.7L901.5 1080.1M862.4 890L862.4 916.1L1065.5 916.1M1065.5 1080.1L1065.5 892.6L1089 892.6M1068.2 896.5L1089 896.5L1089 1080.1L1068.2 1080.1ZM1143.7 1059.3L1156.7 1059.3L1156.7 1086.6L1143.7 1086.6ZM1195.7 199.2L1195.7 233.1L1191.1 233.1L1191.1 237L1199.4 237L1199.4 203.1M1200.2 239.6L1200.2 265.6M1200.2 303.4L1200.2 337.2M1152 337.2L1203.6 337.2M1152 341.6L1308.2 341.6M1205.4 209.1L1245.7 209.1M1280.9 209.1L1307.7 209.1M1205.4 209.1L1205.4 252.6M1205.4 252.6L1280.9 252.6M1307.7 209.1L1307.7 240.9M1203.6 337.2L1203.6 259.1L1274.4 259.1M1307.7 259.1L1307.7 268.2M1307.7 306L1307.7 337.2M1313.4 248.7L1313.4 268.2M1313.4 306L1313.4 325.5M1313.4 248.7L1391.6 248.7M1431.9 248.7L1510 248.7M1320.7 237.5L1387.7 237.5M1435.8 237.5L1502.2 237.5M1510 248.7L1510 268.2M1510 306L1510 325.5M1515.8 248.7L1515.8 268.2M1515.8 306L1515.8 324.2M1313.4 325.5L1510 325.5M1313.4 325.5L1313.4 369.8M1308.2 341.6L1308.2 364.6M1515.3 324.2L1515.3 209.6L1728 209.6M1709.3 209.6L1709.3 258.3M1714.5 209.6L1714.5 253.9M1585.6 258.3L1585.6 432M1515.3 384.1L1515.3 432M1152 472.4L1307.7 472.4M1154.6 478.9L1273.1 478.9M1307.7 432L1307.7 472.4M1313.4 432L1313.4 478.9M1325.9 467.2L1337.4 467.2L1337.4 478.9L1325.9 478.9ZM1485.8 467.2L1497.3 467.2L1497.3 478.9L1485.8 478.9ZM1273.1 481.5L1506.1 481.5M1273.1 481.5L1273.1 838.2L1292.6 838.2L1292.6 864M1515.3 432L1515.3 480.2L1579.1 480.2L1579.1 473.7L1584.3 469.8M1584.3 480.2L1616.8 480.2L1616.8 517.9L1628.5 517.9L1628.5 515.3L1728 515.3M1245.2 618.2L1270.5 618.2L1270.5 643.4L1245.2 643.4ZM1248.4 631.2a9.1 9.1 0 1 0 18.2 0a9.1 9.1 0 1 0 -18.2 0M1245.2 803.1L1270.5 803.1L1270.5 827.8L1245.2 827.8ZM1248.4 815.6a9.1 9.1 0 1 0 18.2 0a9.1 9.1 0 1 0 -18.2 0M1273.1 645L1307.7 645L1307.7 801.8L1273.1 801.8ZM1154.6 614.3L1154.6 658.5M1154.6 786.1L1154.6 843.4M1152 843.4L1198.9 843.4L1198.9 836.9L1230.1 836.9L1230.1 843.4L1288.7 843.4L1288.7 864M1287.4 900.5L1282.2 907.7L1287.4 908.8L1308.2 943.4L1309.8 981.2L1287.9 1017.6L1282.2 1020.2L1287.4 1028.1M1282.2 873.1L1282.2 907M1282.2 1020.2L1282.2 1080.1M1152 874.4L1282.2 874.4M1229.6 1058L1282.2 1058M1229.6 1080.1L1282.2 1080.1M1152 1033.3L1229.6 1033.3M1152 1091.8L1226.2 1091.8L1226.2 1059.3M1136.4 1097.1L1235.3 1097.1L1235.3 1101.5L1136.4 1101.5ZM1230.1 1086.6L1235.3 1086.6L1235.3 1097.1L1230.1 1097.1ZM1728 209.6L2078.2 209.6M2237.9 229.2L2237.9 432M2247 229.2L2247 432M1756.6 519.2L1756.6 524.4L1777 524.4L1777 519.2M1905.1 515.3L1905.1 524.4L1928.5 524.4L1928.5 489.8L1937.1 489.8M1905.1 515.3L1918.9 515.3L1918.9 478.9L1937.1 478.9M2078.2 432L2078.2 478.9M2237.9 432L2237.9 459.3M2247 432L2247 459.3" fill="none" stroke="#c9ccd6" stroke-width="1.49"/>
<path d="M344.2 216.1L344.2 253.9M344.2 371.1L344.2 408.8M379.7 203.6L451.5 203.6L451.5 208.3L379.7 208.3ZM414 203.6L417.7 203.6L417.7 209.1L414 209.1ZM339 874.9L279.1 892.1L239 947.3L239 1009.8L279.1 1065.3L339 1085.3M365.3 1080.7L402.8 1080.7L402.8 1087.4L365.3 1087.4ZM456.5 1080.7L494 1080.7L494 1087.4L456.5 1087.4ZM714 139.8L747.9 139.8L747.9 143.2L714 143.2ZM848.9 203.1L886.4 203.1L886.4 208.3L848.9 208.3ZM1046.8 203.1L1126 203.1L1126 208.3L1046.8 208.3ZM1084.6 203.1L1088.2 203.1L1088.2 209.1L1084.6 209.1ZM957.5 343.2L1002.3 415.9M1002.3 343.2L957.5 415.9M801.3 832.5a7.8 7.8 0 1 0 15.6 0a7.8 7.8 0 1 0 -15.6 0M679.4 867.9a2.1 2.1 0 1 0 4.2 0a2.1 2.1 0 1 0 -4.2 0M679.4 1032a2.1 2.1 0 1 0 4.2 0a2.1 2.1 0 1 0 -4.2 0M829.9 970.2a7.8 7.8 0 1 0 15.6 0a7.8 7.8 0 1 0 -15.6 0M589.8 1080.7L626 1080.7L626 1087.4L589.8 1087.4ZM731.7 1080.7L794 1080.7L794 1087.4L731.7 1087.4ZM826.8 1080.7L855.1 1080.7L855.1 1087.4L826.8 1087.4ZM966.1 1080.7L1001 1080.7L1001 1087.4L966.1 1087.4ZM760.9 1080.7L764.8 1080.7L764.8 1087.4L760.9 1087.4ZM1363.4 142.4L1396.8 142.4L1396.8 146.3L1363.4 146.3ZM1246.3 203.1L1279.6 203.1L1279.6 208.3L1246.3 208.3ZM1139 1101.5L1141.6 1097.1M1141.6 1101.5L1144.2 1097.1M1144.2 1101.5L1146.8 1097.1M1146.8 1101.5L1149.4 1097.1M1149.4 1101.5L1152 1097.1M1152 1101.5L1154.6 1097.1M1154.6 1101.5L1157.2 1097.1M1157.2 1101.5L1159.8 1097.1M1159.8 1101.5L1162.4 1097.1M1162.4 1101.5L1165 1097.1M1165 1101.5L1167.6 1097.1M1167.6 1101.5L1170.2 1097.1M1170.2 1101.5L1172.8 1097.1M1172.8 1101.5L1175.4 1097.1M1175.4 1101.5L1178 1097.1M1178 1101.5L1180.6 1097.1M1180.6 1101.5L1183.2 1097.1M1183.2 1101.5L1185.9 1097.1M1185.9 1101.5L1188.5 1097.1M1188.5 1101.5L1191.1 1097.1M1191.1 1101.5L1193.7 1097.1M1193.7 1101.5L1196.3 1097.1M1196.3 1101.5L1198.9 1097.1M1198.9 1101.5L1201.5 1097.1M1201.5 1101.5L1204.1 1097.1M1204.1 1101.5L1206.7 1097.1M1206.7 1101.5L1209.3 1097.1M1209.3 1101.5L1211.9 1097.1M1211.9 1101.5L1214.5 1097.1M1214.5 1101.5L1217.1 1097.1M1217.1 1101.5L1219.7 1097.1M1219.7 1101.5L1222.3 1097.1M1222.3 1101.5L1224.9 1097.1M1224.9 1101.5L1227.5 1097.1M1227.5 1101.5L1230.1 1097.1M1230.1 1101.5L1232.7 1097.1M1232.7 1101.5L1235.3 1097.1M1235.3 1101.5L1237.9 1097.1M1230.1 1090.5L1235.3 1087.9M1230.1 1093.2L1235.3 1090.5M1230.1 1095.8L1235.3 1093.2M1230.1 1098.4L1235.3 1095.8M1766.5 142.7L1799.6 142.7L1799.6 146.3L1766.5 146.3ZM1771.7 203.1L1805.3 203.1L1805.3 208.3L1771.7 208.3ZM1911.8 203.1L1945.4 203.1L1945.4 208.3L1911.8 208.3ZM2082.1 300L2082.1 388" fill="none" stroke="#c9ccd6" stroke-width="1.22"/>
<path d="M458.8 209.6L458.8 414.6M467.4 209.6L467.4 414.6M534.6 209.6L534.6 414.6M543.5 209.6L543.5 414.6M506.5 222.6L576 222.6M542.9 340.3L576 340.3M576 295.6L572.4 295.6L572.4 319L576 319M347.6 415.9L576 415.9M348.9 423.1L442.7 423.1M341.1 490.6L341.1 692.4M346.8 490.6L346.8 692.4M346.8 758.8L447.9 758.8M359.3 765.3L414 765.3M423.1 913.5L423.1 1072.3M432.3 913.5L432.3 1072.3M576 222.6L742.7 222.6M781.7 222.6L844.2 222.6L844.2 209.6M891.6 209.6L891.6 222.6L953.6 222.6M958.8 212.2L988.7 212.2L988.7 240.9L958.8 240.9ZM990 212.2L1018.7 212.2L1018.7 240.9L990 240.9ZM576 340.3L685.4 340.3M576 319L598.1 319L598.1 295.6M632 294.2L658 294.2L658 319L632 319ZM611.2 209.6L611.2 414.6M619 209.6L619 414.6M686.7 209.6L686.7 414.6M695.3 209.6L695.3 414.6M576 415.9L746.6 415.9M665.8 441.1L776.5 441.1M665.8 441.1L665.8 757.5M673.6 441.1L673.6 757.5M776 441.1L776 721M776 501A234.4 234.4 0 0 0 776 676.8M983.5 471.1L1035.6 471.1M983.5 477.6L1035.6 477.6M983.5 627.8L1112.4 627.8M983.5 634.6L1112.4 634.6M915.8 634.6L915.8 687.2M866.3 687.2L915.8 687.2M1082 634.6L1082 799.2M914 687.5L914.3 689.6L914.7 691.8L915.2 693.9L915.7 696L916.2 698.1L916.8 700.2L917.5 702.3L918.2 704.3L919 706.3L919.9 708.3L920.8 710.3L921.7 712.3L922.7 714.2L923.7 716.1L924.8 718L926 719.8L927.2 721.6L928.4 723.4L929.7 725.2L931.1 726.9L932.4 728.5L933.9 730.2L935.3 731.8L936.9 733.3M902.8 1061.1L958.8 1061.1M1009.6 1061.1L1065.5 1061.1M1133.3 864L1133.3 1080.1M1313.4 475L1511.3 475M1313.4 478.9L1511.3 478.9M1152 629.1L1245.2 629.1M1152 639.5L1245.2 639.5M1152 807L1245.2 807M1152 817.4L1245.2 817.4M1229.6 864L1229.6 1080.1M1237.9 864L1237.9 1080.1M2097.8 211.4L2221.5 211.4M2097.8 477.6L2220.2 477.6" fill="none" stroke="#c9ccd6" stroke-width="1.49" stroke-dasharray="5.5 2.8"/>
<path d="M338.5 480.2L290.3 480.2L290.3 437.7L138 437.7L138 480.2L93.7 480.2L93.7 698.9L138 698.9L138 741.9L290.3 741.9L290.3 698.9L338.5 698.9" fill="none" stroke="#e6e8ee" stroke-width="3.51"/>
<path d="M135.9 435.6L140.1 435.6L140.1 439.8L135.9 439.8ZM288.3 435.6L292.4 435.6L292.4 439.8L288.3 439.8ZM135.9 478.1L140.1 478.1L140.1 482.3L135.9 482.3ZM288.3 478.1L292.4 478.1L292.4 482.3L288.3 482.3ZM91.7 478.1L95.8 478.1L95.8 482.3L91.7 482.3ZM91.7 696.8L95.8 696.8L95.8 701L91.7 701ZM135.9 696.8L140.1 696.8L140.1 701L135.9 701ZM288.3 696.8L292.4 696.8L292.4 701L288.3 701ZM135.9 739.8L140.1 739.8L140.1 744L135.9 744ZM288.3 739.8L292.4 739.8L292.4 744L288.3 744ZM172.9 435.6L177.1 435.6L177.1 439.8L172.9 439.8ZM250 435.6L254.1 435.6L254.1 439.8L250 439.8ZM172.9 739.8L177.1 739.8L177.1 744L172.9 744ZM250 739.8L254.1 739.8L254.1 744L250 744ZM91.7 549.7L95.8 549.7L95.8 553.9L91.7 553.9ZM91.7 626.5L95.8 626.5L95.8 630.7L91.7 630.7ZM91.7 587.5L95.8 587.5L95.8 591.6L91.7 591.6ZM333.8 478.1L338 478.1L338 482.3L333.8 482.3ZM333.8 696.8L338 696.8L338 701L333.8 701ZM129.4 478.1L133.6 478.1L133.6 482.3L129.4 482.3ZM294.8 478.1L298.9 478.1L298.9 482.3L294.8 482.3ZM129.4 696.8L133.6 696.8L133.6 701L129.4 701ZM294.8 696.8L298.9 696.8L298.9 701L294.8 701Z" fill="none" stroke="#e6e8ee" stroke-width="1.08"/>
<path d="M179.7 434.6L250 434.6M179.7 745L250 745M91.1 554.4L91.1 626" fill="none" stroke="#23c6cf" stroke-width="2.7"/>
<path d="M214 439.8L214 741.9" fill="none" stroke="#c9ccd6" stroke-width="1.49" stroke-dasharray="14 3"/>
<path d="M138 481.5L214 554.4M290.3 481.5L214 554.4M138 697.6L214 623.4M290.3 697.6L214 623.4" fill="none" stroke="#c9ccd6" stroke-width="1.49" stroke-dasharray="7 3"/>
<path d="M56 568.7L91.1 568.7" fill="none" stroke="#e8141e" stroke-width="1.35" stroke-dasharray="5 2"/>
<path d="M183.6 745.8L183.6 780.9M244.8 745.8L244.8 780.9M346.8 682L447.9 682M183.6 398.1L183.6 433.3M244.8 398.1L244.8 433.3M775.2 243.5L775.2 287.7M781.7 243.5L781.7 287.7M907.2 299.5L945.8 299.5M1115 341.1L1115 415.9M1121.5 341.1L1121.5 415.9M673.6 737.2L776 737.2M590.3 821.8L641.1 821.8M868.9 756.2L868.9 799.7M875.5 756.2L875.5 799.7M1011.4 823.9L1085.1 823.9M1095.5 843.4L1133.3 843.4M651.5 934.3L651.5 973.4M658 934.3L658 973.4M805.2 958.3L805.2 980.4M724.4 1033.8L801.2 1033.8M862.4 896.5L1065.5 896.5M1082.5 896.5L1082.5 1056.7M1313.4 268.2L1313.4 306M1307.7 268.2L1307.7 306M1510 268.2L1510 306M1265.3 478.9L1265.3 864M1254.9 478.9L1254.9 864M1282.2 907L1282.2 1020.2" fill="none" stroke="#c9ccd6" stroke-width="1.35" stroke-dasharray="5.5 2.8"/>
<path d="M79.4 435.1L79.4 864M79.4 435.1L130.2 435.1M76.8 743.2L130.2 743.2M93.2 705.4L93.2 864M90.6 816.9L339.8 816.9M77.2 437.3L81.6 432.9M77.2 481.1L81.6 476.7M77.2 702.4L81.6 698M77.2 745.4L81.6 741M91 819.1L95.4 814.7M79.4 864L79.4 871.3M93.2 864L93.2 871.3M77.6 871.3L337.7 871.3M480.4 912.2L576 912.2M576 890L583.8 890L583.8 913.5L576 913.5" fill="none" stroke="#e8141e" stroke-width="1.62"/>
<path d="M338.5 432L338.5 475M346.8 432L346.8 490.6M346.8 692.4L346.8 758.8M338.5 704.1L338.5 780.9M447.9 731.5L447.9 758.8M456.2 735.4L456.2 758.8M447.9 758.8L565.1 758.8M338.5 851.2L338.5 864M346.8 851.2L346.8 864M338.5 879.1L282.5 895.2L244.3 949.4L244.3 1007.7L282.5 1061.9L338.5 1080.7M339.8 1080.1L363.3 1080.1M404.9 1080.1L423.1 1080.1M432.3 1080.1L454.4 1080.1M496.1 1080.1L576 1080.1M423.1 875.7L423.1 913.5M432.3 875.7L432.3 913.5M423.1 1072.3L423.1 1080.1M432.3 1072.3L432.3 1080.1M340.3 864L340.3 913.5M598.9 294.2L631.2 294.2L631.2 316.4L598.9 316.4ZM590.3 726.2L595.5 749.7L634.6 749.7L639.8 726.2M858.5 471.1L858.5 632.5M858.5 471.1L868.9 471.1M906.7 471.1L983.5 471.1M1035.6 471.1L1152 471.1M926.2 620L926.2 577.3L865.6 577.3M868.9 620L926.2 620M866.3 711.3L868.3 716.9L870.5 722.3L872.9 727.7L875.6 733L878.5 738.1L881.6 743.1L884.9 747.9L888.5 752.6L892.2 757.2L896.2 761.5L900.3 765.7L904.6 769.7L909.1 773.5L913.8 777.1L918.6 780.5L923.6 783.7L928.7 786.6L933.9 789.4L939.2 791.9L944.7 794.1L950.2 796.1L955.8 797.9L961.5 799.4L967.3 800.6M936.9 733.3L940.8 737.1L945.1 740.5L949.5 743.7L954.2 746.5L959 749L964 751.2L969.2 753.1L974.4 754.6L979.7 755.7L985.2 756.5L990.6 756.9L996.1 756.9L1001.5 756.6L1006.9 755.9L1012.3 754.9L1017.5 753.4L1022.7 751.7L1027.7 749.6L1032.6 747.1L1037.3 744.3L1041.8 741.2L1046.1 737.9L1050.1 734.2L1053.9 730.3M1055.6 728.9a4.7 4.7 0 1 0 9.4 0a4.7 4.7 0 1 0 -9.4 0M949.7 1221.3a16.4 16.4 0 1 0 32.8 0a16.4 16.4 0 1 0 -32.8 0M651.5 864L651.5 934.3M651.5 973.4L651.5 1080.1M940.6 978.1L1011.6 978.1L1011.6 1023.4L940.6 1023.4ZM576 1080.1L587.7 1080.1M628.1 1080.1L729.6 1080.1M796 1080.1L824.7 1080.1M857.2 1080.1L964 1080.1M1003.1 1080.1L1135.9 1080.1M1135.9 1086.6L1155.4 1086.6L1155.4 1101L1135.9 1101ZM1618.1 225.2L1623.8 231L1618.1 237M1618.1 287.7L1623.8 293.7L1618.1 299.5M1318.1 199.2L1318.1 240.9M1297.8 693.7L1307.7 693.7M1509.3 432L1509.3 486.7L1610.3 486.7L1610.3 524.4L1622 524.4L1622 528.9L1608.2 528.9M1154.6 493.2L1178 534.1L1178 573.9L1155.9 611.7M1287.4 864L1287.4 900.5M1292.6 864L1292.6 900.5M1287.4 1028.1L1287.4 1090.5M1292.6 1029.4L1292.6 1090.5M1292.6 900.5L1316.6 940L1319.2 984.3L1294.7 1026.7L1292.6 1029.4M1159.8 1058L1165 1080.1L1205.4 1080.1L1210.6 1058M2097.8 199.2L2097.8 215.6L2087.9 215.6L2087.9 260.4M2078.2 209.6L2078.2 260.4M2078.2 300L2078.2 388M2087.9 300L2087.9 388M2087.9 388L2087.9 432M2097.8 203.6L2221.5 203.6M1728 515.3L1905.1 515.3M1937.1 477.6L2066 477.6M2066 477.6L2066 485.9L2097.8 485.9L2097.8 473.7L2087.9 473.7L2087.9 432M2097.8 485.9L2220.2 485.9M2032.3 1285.7L2267.7 1285.7L2267.7 1605.7L2032.3 1605.7ZM2032.3 1309.2L2267.7 1309.2M2104.3 1186.2L2267.6 1186.2L2267.6 1273.3L2104.3 1273.3Z" fill="none" stroke="#c9ccd6" stroke-width="1.62"/>
<path d="M366.4 588.2a12.5 12.5 0 1 0 25 0a12.5 12.5 0 1 0 -25 0M977.8 717.1a19.5 19.5 0 1 0 39 0a19.5 19.5 0 1 0 -39 0M679.1 1210.3a18.8 18.8 0 1 0 37.6 0a18.8 18.8 0 1 0 -37.6 0M1345.4 575.2a18.8 18.8 0 1 0 37.6 0a18.8 18.8 0 1 0 -37.6 0M1401.2 610.4a19.5 19.5 0 1 0 39 0a19.5 19.5 0 1 0 -39 0M1370.8 683.3a19.5 19.5 0 1 0 39 0a19.5 19.5 0 1 0 -39 0M1993.1 321.6a19.5 19.5 0 1 0 39 0a19.5 19.5 0 1 0 -39 0M1777 602.6a19.5 19.5 0 1 0 39 0a19.5 19.5 0 1 0 -39 0" fill="none" stroke="#e8141e" stroke-width="1.76"/>
<path d="M366.4 588.2L391.4 588.2M365.9 581.7L378.9 567.4L391.9 581.7M365.9 594.7L378.9 609.1L391.9 594.7M502.6 844.2L526 844.2M977.8 717.1L1016.8 717.1M997.3 690.2L970.4 717.1L997.3 744M679.1 1210.3L716.7 1210.3M697.9 1184.4L723.8 1210.3L697.9 1236.3M1345.4 575.2L1383 575.2M1338.3 575.2L1364.2 601.2L1390.2 575.2M1401.2 610.4L1440.2 610.4M1420.7 583.5L1393.8 610.4L1420.7 637.3M1370.8 683.3L1409.8 683.3M1363.4 683.3L1390.3 656.4L1417.2 683.3M1993.1 321.6L2032.1 321.6M1985.7 321.6L2012.6 348.5L2039.5 321.6M1777 602.6L1816 602.6M1796.5 575.7L1769.6 602.6L1796.5 629.5" fill="none" stroke="#e8141e" stroke-width="1.49"/>
<path d="M346.8 502.3L576 502.3M419.2 589.5L576 589.5M346.8 676.8L576 676.8M346.8 516.6L419.2 589.5M346.8 662.5L419.2 589.5M447.9 441.1L447.9 739.3M456.2 441.1L456.2 735.4M554.6 441.1L554.6 757.5M563.8 441.1L563.8 757.5M447.9 441.1L576 441.1M502.6 762.7L583.3 762.7L583.3 817.4L502.6 817.4ZM576 502.3L776 502.3M576 589.5L776 589.5M576 676.8L776 676.8M858.5 922.6L887.7 922.6L887.7 951.8L858.5 951.8ZM1089 910.9L1152 910.9M1089 964.3L1152 964.3M1089 1017.6L1152 1017.6M1089 1067.1L1152 1067.1M1365 261.7L1458.7 261.7L1458.7 311.2L1365 311.2ZM1628 432L1628 412.2L1728 412.2M1152 910.9L1282.2 910.9M1152 964.3L1282.2 964.3M1152 1017.6L1282.2 1017.6M1152 1067.1L1282.2 1067.1M1937.1 432L1937.1 373.2L2066 373.2L2066 432M1728 412.2L1756.6 412.2L1756.6 432M1777 432L1777 412.2L1905.6 412.2L1905.6 432M1756.6 432L1756.6 524.4M1777 432L1777 524.4M1905.1 432L1905.1 516.6M1937.1 432L1937.1 477.6M2066 432L2066 477.6" fill="none" stroke="#c9ccd6" stroke-width="1.62" stroke-dasharray="5.5 2.8"/>
<path d="M501.3 844.2L506.5 841.6L506.5 846.8Z" fill="#e8141e" stroke="#e8141e" stroke-width="1.35"/>
<path d="M480.4 877L480.4 913.5M714.5 142.7L714.5 263M1420.7 432L1420.7 590.8M1796.5 472.4L1796.5 581.7" fill="none" stroke="#e8141e" stroke-width="1.35"/>
<path d="M339.8 1090L576 1090M576 199.2L1152 199.2M576 1090L1135.9 1090M1195.7 199.2L1318.1 199.2M1504.8 240.9L1504.8 199.2L1728 199.2M1235.3 1090L1292.6 1090M1728 199.2L2097.8 199.2" fill="none" stroke="#c9ccd6" stroke-width="1.89"/>
<path d="M733 293.7L746.6 293.7M733 415.9L746.6 415.9M940.6 419.8L953.6 419.8M1270.5 259.1L1279.6 259.1M1270.5 337.2L1283.5 337.2M1318.7 203.6L1349.9 203.6M1638.9 203.6L1646.8 203.6M1638.9 253.9L1646.8 253.9M2079.5 466.4L2097.8 466.4" fill="none" stroke="#23c6cf" stroke-width="1.49"/>
<path d="M594.7 210.4L635.4 210.4L635.4 233.8L594.7 233.8Z" fill="#d4d6de" stroke="#c9ccd6" stroke-width="1.35"/>
<path d="M596.8 213.5L633.8 213.5M596.8 216.9L633.8 216.9M596.8 220.3L633.8 220.3M596.8 223.7L633.8 223.7M596.8 227.1L633.8 227.1M596.8 230.5L633.8 230.5" fill="none" stroke="#23283c" stroke-width="2.16" stroke-dasharray="1.4 1.8"/>
<path d="M780.4 295L818.2 295L818.2 298.7L780.4 298.7Z" fill="#6d7180" stroke="#c9ccd6" stroke-width="1.35"/>
<path d="M844.2 684.1L1152 684.1M1152 684.1L1417.6 684.1M1985.8 321.6L2278.7 321.6" fill="none" stroke="#e8141e" stroke-width="1.35" stroke-dasharray="14 3 2 3"/>
<path d="M586.4 724.9L643.2 724.9L643.2 754.9L586.4 754.9ZM879.4 618.2L911.9 618.2L911.9 629.4L879.4 629.4ZM834.6 922.6L843.7 922.6L843.7 942.1L834.6 942.1ZM885.9 1047.6L895 1047.6L895 1069.7L885.9 1069.7ZM1155.9 1056.7L1214.5 1056.7L1214.5 1085.3L1155.9 1085.3Z" fill="none" stroke="#c9ccd6" stroke-width="2.43"/>
<path d="M798.2 831.7a10.9 10.9 0 1 0 21.8 0a10.9 10.9 0 1 0 -21.8 0M882 624.2L909.3 624.2M826.8 969.5a10.9 10.9 0 1 0 21.8 0a10.9 10.9 0 1 0 -21.8 0M1530.9 371.1L1564.7 371.1L1564.7 382.3L1530.9 382.3ZM1533.5 376.3L1562.1 376.3" fill="none" stroke="#c9ccd6" stroke-width="2.03"/>
<path d="M878.1 573.9L862.4 573.9L862.4 623.4L868.9 623.4" fill="none" stroke="#c9ccd6" stroke-width="2.97"/>
<path d="M862.4 816.9L934 816.9M862.4 823.9L934 823.9" fill="none" stroke="#c9ccd6" stroke-width="1.35" stroke-dasharray="10 3 2 3"/>
<path d="M697.9 1028.1L697.9 1190.8" fill="none" stroke="#e8141e" stroke-width="1.35" stroke-dasharray="9 2 2 2"/>
<path d="M862.4 903.1L1064.2 903.1M921 933L1064.2 933" fill="none" stroke="#c9ccd6" stroke-width="1.62" stroke-dasharray="12 3 3 3"/>
<path d="M902.8 1067.1L958.8 1067.1M1009.6 1067.1L1065.5 1067.1" fill="none" stroke="#c9ccd6" stroke-width="1.35" stroke-dasharray="12 3 3 3"/>
<path d="M1135.9 1101L1138.5 1097.1M1138.5 1101L1141.1 1097.1M1141.1 1101L1143.7 1097.1M1143.7 1101L1146.3 1097.1M1146.3 1101L1148.9 1097.1M1148.9 1101L1151.5 1097.1M1151.5 1101L1154.1 1097.1M1154.1 1101L1156.7 1097.1" fill="none" stroke="#c9ccd6" stroke-width="1.08"/>
<path d="M1353 333.3L1353 432M1411.1 333.3L1411.1 432M1469.2 333.3L1469.2 432" fill="none" stroke="#4fc3e8" stroke-width="2.16"/>
<path d="M1396.8 145.8L1396.8 247.4M1799.1 145.8L1799.1 264.3" fill="none" stroke="#e8141e" stroke-width="1.35" stroke-dasharray="7 2 1.5 2"/>
<path d="M1152 199.2L1154.1 199.2L1154.1 231.8L1152 231.8Z" fill="#e8e9ee" stroke="#c9ccd6" stroke-width="1.35"/>
<path d="M1331.7 333.3L1331.7 432M1334.3 333.3L1334.3 432M1370.7 333.3L1370.7 432M1373.9 333.3L1373.9 432M1390.3 333.3L1390.3 432M1393.4 333.3L1393.4 432M1430.6 333.3L1430.6 432M1433.2 333.3L1433.2 432M1448.9 333.3L1448.9 432M1452 333.3L1452 432M1487.9 333.3L1487.9 432M1491 333.3L1491 432M1331.7 432L1331.7 489.8M1334.3 432L1334.3 489.8M1370.7 432L1370.7 489.8M1373.9 432L1373.9 489.8M1390.3 432L1390.3 489.8M1393.4 432L1393.4 489.8M1430.6 432L1430.6 489.8M1433.2 432L1433.2 489.8M1448.9 432L1448.9 489.8M1452 432L1452 489.8M1487.9 432L1487.9 489.8M1491 432L1491 489.8" fill="none" stroke="#c9ccd6" stroke-width="2.03" stroke-dasharray="6 3"/>
<path d="M1351.2 333.3L1351.2 432M1354.6 333.3L1354.6 432M1409.8 333.3L1409.8 432M1412.4 333.3L1412.4 432M1468.4 333.3L1468.4 432M1471 333.3L1471 432M1351.2 432L1351.2 489.8M1354.6 432L1354.6 489.8M1409.8 432L1409.8 489.8M1412.4 432L1412.4 489.8M1468.4 432L1468.4 489.8M1471 432L1471 489.8" fill="none" stroke="#bfe8f2" stroke-width="1.62" stroke-dasharray="6 3"/>
<path d="M1519.9 329.4L1574.4 329.4L1574.4 373.7L1519.9 373.7Z" fill="none" stroke="#c9ccd6" stroke-width="2.7"/>
<path d="M1353 432L1353 541.4M1411.1 432L1411.1 541.4M1469.2 432L1469.2 541.4" fill="none" stroke="#4fc3e8" stroke-width="2.03"/>
<path d="M1257.5 637.7L1257.5 661.2" fill="none" stroke="#23c6cf" stroke-width="2.97"/>
<path d="M1180.6 557L1230.1 557L1230.1 575.2L1346 575.2" fill="none" stroke="#e8141e" stroke-width="1.35" stroke-dasharray="7 3"/>
<path d="M1269.2 1128.3Q1274.4 1128.3 1275.7 1134.3M2223.5 456.2L2227.4 456.2L2227.4 468.5" fill="none" stroke="#23c6cf" stroke-width="1.35"/>
<path d="M2278.7 321.6L2278.7 354.1" fill="none" stroke="#8f94a3" stroke-width="1.35"/>
<ellipse cx="454.4" cy="788.2" rx="9.1" ry="13" fill="none" stroke="#c9ccd6" stroke-width="1.2"/>
<ellipse cx="454.4" cy="789.3" rx="6.5" ry="9.9" fill="none" stroke="#c9ccd6" stroke-width="0.9"/>
<ellipse cx="453.1" cy="863" rx="9.9" ry="7.8" fill="none" stroke="#c9ccd6" stroke-width="1.2"/>
<ellipse cx="1023.4" cy="367.2" rx="9.1" ry="12.5" fill="none" stroke="#c9ccd6" stroke-width="1.1"/>
<ellipse cx="1023.4" cy="367.2" rx="6.5" ry="9.9" fill="none" stroke="#c9ccd6" stroke-width="0.8"/>
<ellipse cx="1070" cy="354.1" rx="10.4" ry="8.3" fill="none" stroke="#c9ccd6" stroke-width="1.1"/>
<ellipse cx="1070" cy="355.2" rx="7.3" ry="5.7" fill="none" stroke="#c9ccd6" stroke-width="0.8"/>
<ellipse cx="928.8" cy="500.2" rx="7.8" ry="9.9" fill="none" stroke="#c9ccd6" stroke-width="1.4"/>
<ellipse cx="928.1" cy="500.2" rx="5.5" ry="7.3" fill="none" stroke="#c9ccd6" stroke-width="0.9"/>
<ellipse cx="915.8" cy="547.4" rx="12.5" ry="8.6" fill="none" stroke="#c9ccd6" stroke-width="1.3"/>
<ellipse cx="914.5" cy="547.4" rx="9.4" ry="6.2" fill="none" stroke="#c9ccd6" stroke-width="0.9"/>
<ellipse cx="819.5" cy="933" rx="11.7" ry="9.1" fill="none" stroke="#c9ccd6" stroke-width="1.4"/>
<ellipse cx="818.2" cy="933" rx="8.6" ry="6.5" fill="none" stroke="#c9ccd6" stroke-width="0.9"/>
<rect x="730.2" y="1041.1" width="65.0995" height="33.8517" rx="16.9259" fill="none" stroke="#c9ccd6" stroke-width="1.3"/>
<rect x="733.5" y="1044.2" width="58.5895" height="27.6022" rx="13.8011" fill="none" stroke="#c9ccd6" stroke-width="1"/>
<ellipse cx="871" cy="1059.3" rx="11.7" ry="9.1" fill="none" stroke="#c9ccd6" stroke-width="1.4"/>
<ellipse cx="869.7" cy="1059.3" rx="8.6" ry="6.5" fill="none" stroke="#c9ccd6" stroke-width="0.9"/>
<ellipse cx="1230.1" cy="231" rx="12.5" ry="9.1" fill="none" stroke="#c9ccd6" stroke-width="1.2"/>
<ellipse cx="1231.4" cy="231" rx="9.4" ry="6.8" fill="none" stroke="#c9ccd6" stroke-width="0.9"/>
<ellipse cx="1296.5" cy="229.2" rx="7.3" ry="9.9" fill="none" stroke="#c9ccd6" stroke-width="1.3"/>
<ellipse cx="1295.7" cy="229.2" rx="5.2" ry="7.3" fill="none" stroke="#c9ccd6" stroke-width="0.9"/>
<text x="89.8" y="257.8" font-size="7.6" fill="#23c6cf" stroke="#23c6cf" text-anchor="middle" transform="rotate(-90 89.8 257.8)">8'-6"</text>
<text x="76" y="319" font-size="7.6" fill="#23c6cf" stroke="#23c6cf" text-anchor="middle" transform="rotate(-90 76 319)">18'-1"</text>
<text x="89.8" y="375" font-size="7.6" fill="#23c6cf" stroke="#23c6cf" text-anchor="middle" transform="rotate(-90 89.8 375)">9'-7"</text>
<text x="377.6" y="179.7" font-size="7.6" fill="#23c6cf" stroke="#23c6cf" text-anchor="middle">5'-10"</text>
<text x="411.4" y="309.9" font-size="7.6" fill="#23c6cf" stroke="#23c6cf" text-anchor="middle" transform="rotate(-90 411.4 309.9)">16'-6"</text>
<text x="559.9" y="279.1" font-size="7.6" fill="#23c6cf" stroke="#23c6cf" text-anchor="middle">31'-9"</text>
<text x="355.4" y="314.7" font-size="8" fill="#23c6cf" stroke="#23c6cf" text-anchor="middle">4</text>
<text x="432.3" y="225.3" font-size="8" fill="#23c6cf" stroke="#23c6cf" text-anchor="middle">G</text>
<text x="487.7" y="226.5" font-size="7.8" fill="#c9ccd6" stroke="#c9ccd6" text-anchor="middle">HUTCH</text>
<text x="519.8" y="261.2" font-size="7.8" fill="#c9ccd6" stroke="#c9ccd6" text-anchor="end">8"x12"</text>
<text x="519.8" y="270.2" font-size="7.8" fill="#c9ccd6" stroke="#c9ccd6" text-anchor="end">FAUX BEAMS,</text>
<text x="519.8" y="279.2" font-size="7.8" fill="#c9ccd6" stroke="#c9ccd6" text-anchor="end">TYP OF (4)</text>
<text x="518.7" y="398.9" font-size="7.8" fill="#c9ccd6" stroke="#c9ccd6" text-anchor="end">24"x12"</text>
<text x="518.7" y="407.9" font-size="7.8" fill="#c9ccd6" stroke="#c9ccd6" text-anchor="end">BULKHEAD</text>
<text x="382.3" y="410.6" font-size="7.8" fill="#c9ccd6" stroke="#c9ccd6">7080 CO</text>
<text x="383.6" y="336.4" font-size="14.3775" fill="#e8141e" stroke="#e8141e" text-anchor="middle" font-weight="bold">NOOK</text>
<text x="542.9" y="257.8" font-size="14.3775" fill="#e8141e" stroke="#e8141e" font-weight="bold">KITCHEN</text>
<text x="354.1" y="429.7" font-size="7.6" fill="#23c6cf" stroke="#23c6cf" text-anchor="middle">5"</text>
<text x="62.5" y="649.4" font-size="7.6" fill="#23c6cf" stroke="#23c6cf" text-anchor="middle" transform="rotate(-90 62.5 649.4)">69'-0"</text>
<text x="76" y="458" font-size="6.5" fill="#e8141e" stroke="#e8141e" text-anchor="middle" transform="rotate(-90 76 458)">1'-5"</text>
<text x="76" y="598.7" font-size="6.5" fill="#e8141e" stroke="#e8141e" text-anchor="middle" transform="rotate(-90 76 598.7)">21'-10"</text>
<text x="76" y="722.3" font-size="6.5" fill="#e8141e" stroke="#e8141e" text-anchor="middle" transform="rotate(-90 76 722.3)">4'-2"</text>
<text x="76" y="807" font-size="6.5" fill="#e8141e" stroke="#e8141e" text-anchor="middle" transform="rotate(-90 76 807)">7'-2"</text>
<text x="89.8" y="844.7" font-size="7.6" fill="#23c6cf" stroke="#23c6cf" text-anchor="middle" transform="rotate(-90 89.8 844.7)">4'-2"</text>
<text x="257.3" y="856.4" font-size="7.6" fill="#23c6cf" stroke="#23c6cf" text-anchor="middle">3'-0"</text>
<text x="308.6" y="856.4" font-size="7.6" fill="#23c6cf" stroke="#23c6cf" text-anchor="middle">4'-11"</text>
<text x="334.6" y="600" font-size="8" fill="#23c6cf" stroke="#23c6cf" text-anchor="middle" transform="rotate(-90 334.6 600)">15'-4" ARCHED CASED OPENING</text>
<text x="378.9" y="585.5" font-size="7.75" fill="#e8141e" stroke="#e8141e" text-anchor="middle">5</text>
<text x="378.9" y="596.7" font-size="8.75" fill="#e8141e" stroke="#e8141e" text-anchor="middle">A6</text>
<text x="393.2" y="447.6" font-size="7.6" fill="#23c6cf" stroke="#23c6cf" text-anchor="middle">8'-5"</text>
<text x="466.1" y="447.6" font-size="7.6" fill="#23c6cf" stroke="#23c6cf" text-anchor="middle">3'-0"</text>
<text x="523.4" y="447.6" font-size="7.6" fill="#23c6cf" stroke="#23c6cf" text-anchor="middle">6'-0"</text>
<text x="572.9" y="447.6" font-size="7.6" fill="#23c6cf" stroke="#23c6cf" text-anchor="middle">1'-6"</text>
<text x="545.5" y="583" font-size="7.6" fill="#23c6cf" stroke="#23c6cf" text-anchor="middle" transform="rotate(-90 545.5 583)">22'-1"</text>
<text x="545.5" y="743.2" font-size="7.6" fill="#23c6cf" stroke="#23c6cf" text-anchor="middle" transform="rotate(-90 545.5 743.2)">3'-5"</text>
<text x="545.5" y="801.8" font-size="7.6" fill="#23c6cf" stroke="#23c6cf" text-anchor="middle" transform="rotate(-90 545.5 801.8)">6'-5"</text>
<text x="505.2" y="654.1" font-size="7.6" fill="#23c6cf" stroke="#23c6cf" text-anchor="middle">9'-0"</text>
<text x="384.9" y="772.6" font-size="7.8" fill="#c9ccd6" stroke="#c9ccd6" text-anchor="middle">4080 CO</text>
<text x="409.6" y="748.4" font-size="7.6" fill="#23c6cf" stroke="#23c6cf" text-anchor="middle" transform="rotate(-90 409.6 748.4)">1'-8"</text>
<text x="409.6" y="817.4" font-size="7.6" fill="#23c6cf" stroke="#23c6cf" text-anchor="middle" transform="rotate(-90 409.6 817.4)">9'-1"</text>
<text x="468.7" y="752.3" font-size="7.8" fill="#c9ccd6" stroke="#c9ccd6">2x6 WALL</text>
<text x="435.4" y="820.5" font-size="6.5" fill="#c9ccd6" stroke="#c9ccd6" text-anchor="middle" transform="rotate(-42 435.4 820.5)">3080</text>
<text x="358.8" y="820.1" font-size="8" fill="#23c6cf" stroke="#23c6cf" text-anchor="middle">2</text>
<text x="529.9" y="775.7" font-size="7.6" fill="#23c6cf" stroke="#23c6cf" text-anchor="middle">8'-0"</text>
<text x="571.6" y="789.3" font-size="6.5" fill="#c9ccd6" stroke="#c9ccd6" text-anchor="middle" transform="rotate(-50 571.6 789.3)">3080</text>
<text x="571.6" y="859.1" font-size="6.5" fill="#23c6cf" stroke="#23c6cf" text-anchor="middle" transform="rotate(-90 571.6 859.1)">1'-4"</text>
<text x="227.8" y="554.9" font-size="14.3775" fill="#e8141e" stroke="#e8141e" text-anchor="middle" font-weight="bold">CONSERVATORY</text>
<text x="168" y="566.6" font-size="7.8" fill="#c9ccd6" stroke="#c9ccd6">WINDOW/DOOR SCHEDULE</text>
<text x="168" y="575.7" font-size="7.8" fill="#c9ccd6" stroke="#c9ccd6">PROVIDED BY TANGLEWOOD</text>
<text x="168" y="584.8" font-size="7.8" fill="#c9ccd6" stroke="#c9ccd6">CONSERVATORIES</text>
<text x="76" y="882.2" font-size="7.6" fill="#23c6cf" stroke="#23c6cf" text-anchor="middle" transform="rotate(-90 76 882.2)">1'-7"</text>
<text x="76" y="920" font-size="7.6" fill="#23c6cf" stroke="#23c6cf" text-anchor="middle" transform="rotate(-90 76 920)">4'-2"</text>
<text x="76" y="979.9" font-size="7.6" fill="#23c6cf" stroke="#23c6cf" text-anchor="middle" transform="rotate(-90 76 979.9)">5'-2"</text>
<text x="89.8" y="962.4" font-size="7.6" fill="#23c6cf" stroke="#23c6cf" text-anchor="middle" transform="rotate(-90 89.8 962.4)">2'-7"</text>
<text x="89.8" y="996.3" font-size="7.6" fill="#23c6cf" stroke="#23c6cf" text-anchor="middle" transform="rotate(-90 89.8 996.3)">2'-7"</text>
<text x="76" y="1039.8" font-size="7.6" fill="#23c6cf" stroke="#23c6cf" text-anchor="middle" transform="rotate(-90 76 1039.8)">4'-2"</text>
<text x="76" y="1077" font-size="7.6" fill="#23c6cf" stroke="#23c6cf" text-anchor="middle" transform="rotate(-90 76 1077)">1'-7"</text>
<text x="74.2" y="1093.7" font-size="6" fill="#23c6cf" stroke="#23c6cf" text-anchor="middle" transform="rotate(-90 74.2 1093.7)">5"</text>
<text x="257.3" y="1131.7" font-size="7.6" fill="#23c6cf" stroke="#23c6cf" text-anchor="middle">3'-0"</text>
<text x="308.6" y="1131.7" font-size="7.6" fill="#23c6cf" stroke="#23c6cf" text-anchor="middle">4'-11"</text>
<text x="362" y="1114.8" font-size="7.6" fill="#23c6cf" stroke="#23c6cf" text-anchor="middle">3'-5"</text>
<text x="429.1" y="1114.8" font-size="7.6" fill="#23c6cf" stroke="#23c6cf" text-anchor="middle">7'-1"</text>
<text x="541.1" y="1114.8" font-size="7.6" fill="#23c6cf" stroke="#23c6cf" text-anchor="middle">10'-4"</text>
<text x="381.5" y="909" font-size="7.6" fill="#23c6cf" stroke="#23c6cf" text-anchor="middle">6'-6"</text>
<text x="451.8" y="909" font-size="7.6" fill="#23c6cf" stroke="#23c6cf" text-anchor="middle">4'-5"</text>
<text x="531.2" y="909" font-size="7.6" fill="#e8141e" stroke="#e8141e" text-anchor="middle">5'-0"</text>
<text x="410.6" y="978.6" font-size="7.6" fill="#23c6cf" stroke="#23c6cf" text-anchor="middle" transform="rotate(-90 410.6 978.6)">14'-11"</text>
<text x="406.2" y="1069.7" font-size="6.5" fill="#23c6cf" stroke="#23c6cf" text-anchor="middle" transform="rotate(-90 406.2 1069.7)">1'-0"</text>
<text x="330.2" y="1007.2" font-size="7.6" fill="#23c6cf" stroke="#23c6cf" text-anchor="middle">14'-5"</text>
<text x="529.9" y="1007.2" font-size="7.6" fill="#23c6cf" stroke="#23c6cf" text-anchor="middle">17'-0"</text>
<text x="427.1" y="1006.7" font-size="6" fill="#23c6cf" stroke="#23c6cf" text-anchor="middle">5"</text>
<text x="545.5" y="981.2" font-size="7.6" fill="#23c6cf" stroke="#23c6cf" text-anchor="middle" transform="rotate(-90 545.5 981.2)">16'-5"</text>
<text x="314.3" y="901.9" font-size="8" fill="#23c6cf" stroke="#23c6cf" text-anchor="middle">H</text>
<text x="272.9" y="932.3" font-size="8" fill="#23c6cf" stroke="#23c6cf" text-anchor="middle">H</text>
<text x="259.6" y="981.3" font-size="8" fill="#23c6cf" stroke="#23c6cf" text-anchor="middle">H</text>
<text x="272.9" y="1032.8" font-size="8" fill="#23c6cf" stroke="#23c6cf" text-anchor="middle">H</text>
<text x="311.7" y="1062" font-size="8" fill="#23c6cf" stroke="#23c6cf" text-anchor="middle">H</text>
<text x="384.1" y="1070.6" font-size="8" fill="#23c6cf" stroke="#23c6cf" text-anchor="middle">C</text>
<text x="474.7" y="1070.6" font-size="8" fill="#23c6cf" stroke="#23c6cf" text-anchor="middle">C</text>
<text x="341.1" y="983.3" font-size="14.3775" fill="#e8141e" stroke="#e8141e" text-anchor="middle" font-weight="bold">ROBIN's NEST</text>
<text x="472.6" y="960.3" font-size="14.3775" fill="#e8141e" stroke="#e8141e" font-weight="bold">MASTER</text>
<text x="472.6" y="976.5" font-size="14.3775" fill="#e8141e" stroke="#e8141e" font-weight="bold">SUITE</text>
<text x="385.4" y="877" font-size="7.8" fill="#c9ccd6" stroke="#c9ccd6" text-anchor="middle">5080</text>
<text x="505.2" y="886.1" font-size="7.8" fill="#c9ccd6" stroke="#c9ccd6" text-anchor="middle">48" FP W/</text>
<text x="494.8" y="895.2" font-size="7.8" fill="#c9ccd6" stroke="#c9ccd6" text-anchor="middle">RAISED HEARTH</text>
<text x="744" y="164.1" font-size="7.6" fill="#23c6cf" stroke="#23c6cf" text-anchor="middle">62'-10"</text>
<text x="641.1" y="179.2" font-size="7.6" fill="#23c6cf" stroke="#23c6cf" text-anchor="middle">35'-2"</text>
<text x="977" y="179.2" font-size="7.6" fill="#23c6cf" stroke="#23c6cf" text-anchor="middle">17'-0"</text>
<text x="1117.1" y="179.2" font-size="7.6" fill="#23c6cf" stroke="#23c6cf" text-anchor="middle">4'-10"</text>
<text x="803.3" y="248.7" font-size="7.6" fill="#23c6cf" stroke="#23c6cf" text-anchor="middle" transform="rotate(-90 803.3 248.7)">7'-0"</text>
<text x="803.3" y="350.2" font-size="7.6" fill="#23c6cf" stroke="#23c6cf" text-anchor="middle" transform="rotate(-90 803.3 350.2)">8'-6"</text>
<text x="803.3" y="411.4" font-size="7.6" fill="#23c6cf" stroke="#23c6cf" text-anchor="middle" transform="rotate(-90 803.3 411.4)">1'-4"</text>
<text x="761.4" y="279.1" font-size="7.6" fill="#23c6cf" stroke="#23c6cf" text-anchor="middle">2'-2"</text>
<text x="863.7" y="279.1" font-size="7.6" fill="#23c6cf" stroke="#23c6cf" text-anchor="middle">13'-10"</text>
<text x="1076" y="279.1" font-size="7.6" fill="#23c6cf" stroke="#23c6cf" text-anchor="middle">19'-1"</text>
<text x="733.5" y="354.1" font-size="7.6" fill="#23c6cf" stroke="#23c6cf" text-anchor="middle" transform="rotate(-90 733.5 354.1)">9'-6"</text>
<text x="940.6" y="359.3" font-size="7.6" fill="#23c6cf" stroke="#23c6cf" text-anchor="middle" transform="rotate(-90 940.6 359.3)">9'-9"</text>
<text x="978.3" y="401.5" font-size="7.6" fill="#23c6cf" stroke="#23c6cf" text-anchor="middle">5'-10"</text>
<text x="1046.8" y="401.5" font-size="7.6" fill="#23c6cf" stroke="#23c6cf" text-anchor="middle">7'-6"</text>
<text x="867.6" y="224.6" font-size="8" fill="#23c6cf" stroke="#23c6cf" text-anchor="middle">E</text>
<text x="1112.9" y="224.6" font-size="8" fill="#23c6cf" stroke="#23c6cf" text-anchor="middle">F</text>
<text x="874.2" y="263.5" font-size="14.3775" fill="#e8141e" stroke="#e8141e" text-anchor="middle" font-weight="bold">BUTLER'S PANTRY</text>
<text x="1059" y="260.4" font-size="14.3775" fill="#e8141e" stroke="#e8141e" text-anchor="middle" font-weight="bold">MUDROOM</text>
<text x="842.1" y="356.7" font-size="14.3775" fill="#e8141e" stroke="#e8141e" text-anchor="middle" font-weight="bold">PANTRY</text>
<text x="758.3" y="225.2" font-size="7.8" fill="#c9ccd6" stroke="#c9ccd6" text-anchor="middle">DO</text>
<text x="790" y="263.5" font-size="7.8" fill="#c9ccd6" stroke="#c9ccd6" text-anchor="middle" transform="rotate(-90 790 263.5)">3680 CO</text>
<text x="982.2" y="239.6" font-size="7.8" fill="#c9ccd6" stroke="#c9ccd6" text-anchor="middle">W</text>
<text x="1014.8" y="239.6" font-size="7.8" fill="#c9ccd6" stroke="#c9ccd6" text-anchor="middle">D</text>
<text x="1085.6" y="226.5" font-size="7.8" fill="#c9ccd6" stroke="#c9ccd6" text-anchor="middle">L/S</text>
<text x="967.9" y="273.4" font-size="6.5" fill="#c9ccd6" stroke="#c9ccd6" text-anchor="middle" transform="rotate(-40 967.9 273.4)">3080</text>
<text x="979.1" y="275.5" font-size="7.5" fill="#c9ccd6" stroke="#c9ccd6" text-anchor="middle" transform="rotate(-40 979.1 275.5)">DUTCH</text>
<text x="835.9" y="306.5" font-size="7.8" fill="#c9ccd6" stroke="#c9ccd6" text-anchor="middle">3080</text>
<text x="927.5" y="307.3" font-size="7.8" fill="#c9ccd6" stroke="#c9ccd6" text-anchor="middle">3080 CO</text>
<text x="763.5" y="324.2" font-size="7.8" fill="#c9ccd6" stroke="#c9ccd6" text-anchor="middle" transform="rotate(-90 763.5 324.2)">REF</text>
<text x="760.4" y="382.8" font-size="7.8" fill="#c9ccd6" stroke="#c9ccd6" text-anchor="middle" transform="rotate(-90 760.4 382.8)">FULL HT</text>
<text x="768.2" y="382.8" font-size="7.8" fill="#c9ccd6" stroke="#c9ccd6" text-anchor="middle" transform="rotate(-90 768.2 382.8)">CABINETS</text>
<text x="821.6" y="415.9" font-size="7.8" fill="#23c6cf" stroke="#23c6cf" text-anchor="middle">NICHE</text>
<text x="1000.4" y="321.6" font-size="7.8" fill="#c9ccd6" stroke="#c9ccd6" text-anchor="middle">FULL HT</text>
<text x="1000.4" y="330.2" font-size="7.8" fill="#c9ccd6" stroke="#c9ccd6" text-anchor="middle">CABINETS</text>
<text x="1120.2" y="321.6" font-size="7.8" fill="#c9ccd6" stroke="#c9ccd6">FULL HT</text>
<text x="1120.2" y="330.2" font-size="7.8" fill="#c9ccd6" stroke="#c9ccd6">CABINETS</text>
<text x="980.1" y="350.8" font-size="7.8" fill="#c9ccd6" stroke="#c9ccd6" text-anchor="middle">ZERO</text>
<text x="980.1" y="359.8" font-size="7.8" fill="#c9ccd6" stroke="#c9ccd6" text-anchor="middle">ENTRY</text>
<text x="980.1" y="368.8" font-size="7.8" fill="#c9ccd6" stroke="#c9ccd6" text-anchor="middle">TILED</text>
<text x="980.1" y="377.8" font-size="7.8" fill="#c9ccd6" stroke="#c9ccd6" text-anchor="middle">SHWR</text>
<text x="1040.8" y="375.8" font-size="7.8" fill="#c9ccd6" stroke="#c9ccd6">2x6 WALL</text>
<text x="1133.3" y="382.8" font-size="6.5" fill="#c9ccd6" stroke="#c9ccd6" text-anchor="middle" transform="rotate(-90 1133.3 382.8)">4080</text>
<text x="1081.2" y="393.2" font-size="6.5" fill="#c9ccd6" stroke="#c9ccd6" text-anchor="middle" transform="rotate(50 1081.2 393.2)">3080</text>
<text x="585.1" y="309.9" font-size="7.8" fill="#c9ccd6" stroke="#c9ccd6" text-anchor="middle">DW1</text>
<text x="645" y="309.9" font-size="7.8" fill="#c9ccd6" stroke="#c9ccd6" text-anchor="middle">DW2</text>
<text x="615.1" y="430.2" font-size="7.8" fill="#23c6cf" stroke="#23c6cf" text-anchor="middle">60" GAS FP</text>
<text x="615.1" y="447.6" font-size="7.6" fill="#23c6cf" stroke="#23c6cf" text-anchor="middle">5'-0"</text>
<text x="655.4" y="447.6" font-size="7.6" fill="#23c6cf" stroke="#23c6cf" text-anchor="middle">1'-6"</text>
<text x="704.9" y="447.6" font-size="7.6" fill="#23c6cf" stroke="#23c6cf" text-anchor="middle">6'-0"</text>
<text x="759.6" y="447.6" font-size="7.6" fill="#23c6cf" stroke="#23c6cf" text-anchor="middle">2'-6"</text>
<text x="816.9" y="447.6" font-size="7.6" fill="#23c6cf" stroke="#23c6cf" text-anchor="middle">6'-5"</text>
<text x="878.1" y="447.6" font-size="7.6" fill="#23c6cf" stroke="#23c6cf" text-anchor="middle">3'-4"</text>
<text x="926.2" y="447.6" font-size="7.6" fill="#23c6cf" stroke="#23c6cf" text-anchor="middle">4'-1"</text>
<text x="999.1" y="447.6" font-size="7.6" fill="#23c6cf" stroke="#23c6cf" text-anchor="middle">7'-3"</text>
<text x="1086.4" y="447.6" font-size="7.6" fill="#23c6cf" stroke="#23c6cf" text-anchor="middle">4'-1"</text>
<text x="1121.5" y="447.6" font-size="7.6" fill="#23c6cf" stroke="#23c6cf" text-anchor="middle">2'-8"</text>
<text x="803.3" y="437.2" font-size="7.6" fill="#23c6cf" stroke="#23c6cf" text-anchor="middle" transform="rotate(-90 803.3 437.2)">4'-1"</text>
<text x="803.3" y="521.8" font-size="7.6" fill="#23c6cf" stroke="#23c6cf" text-anchor="middle" transform="rotate(-90 803.3 521.8)">7'-10"</text>
<text x="803.3" y="601.3" font-size="7.6" fill="#23c6cf" stroke="#23c6cf" text-anchor="middle" transform="rotate(-90 803.3 601.3)">4'-7"</text>
<text x="901.5" y="589" font-size="7.6" fill="#23c6cf" stroke="#23c6cf" text-anchor="middle">6'-3"</text>
<text x="1048.6" y="589" font-size="7.6" fill="#23c6cf" stroke="#23c6cf" text-anchor="middle">16'-6"</text>
<text x="1136.4" y="557" font-size="7.6" fill="#23c6cf" stroke="#23c6cf" text-anchor="middle" transform="rotate(-90 1136.4 557)">12'-2"</text>
<text x="615.1" y="654.6" font-size="7.6" fill="#23c6cf" stroke="#23c6cf" text-anchor="middle">8'-0"</text>
<text x="720.5" y="654.6" font-size="7.6" fill="#23c6cf" stroke="#23c6cf" text-anchor="middle">8'-6"</text>
<text x="816.1" y="654.6" font-size="7.6" fill="#23c6cf" stroke="#23c6cf" text-anchor="middle">6'-5"</text>
<text x="887.2" y="654.6" font-size="7.6" fill="#23c6cf" stroke="#23c6cf" text-anchor="middle">4'-6"</text>
<text x="928.8" y="654.6" font-size="7.6" fill="#23c6cf" stroke="#23c6cf" text-anchor="middle">2'-1"</text>
<text x="1012.2" y="654.6" font-size="7.6" fill="#23c6cf" stroke="#23c6cf" text-anchor="middle">10'-10"</text>
<text x="1112.4" y="654.6" font-size="7.6" fill="#23c6cf" stroke="#23c6cf" text-anchor="middle">5'-8"</text>
<text x="621.6" y="776.2" font-size="7.6" fill="#23c6cf" stroke="#23c6cf" text-anchor="middle">7'-11"</text>
<text x="730.9" y="776.2" font-size="7.6" fill="#23c6cf" stroke="#23c6cf" text-anchor="middle">7'-1"</text>
<text x="636.4" y="796.6" font-size="7.6" fill="#23c6cf" stroke="#23c6cf" text-anchor="middle" transform="rotate(-90 636.4 796.6)">4'-5"</text>
<text x="1049.4" y="853.8" font-size="7.6" fill="#23c6cf" stroke="#23c6cf" text-anchor="middle" transform="rotate(-90 1049.4 853.8)">9'-4"</text>
<text x="1136.6" y="807" font-size="6.5" fill="#23c6cf" stroke="#23c6cf" text-anchor="middle" transform="rotate(-90 1136.6 807)">1'-0"</text>
<text x="1136.6" y="830.4" font-size="7.6" fill="#23c6cf" stroke="#23c6cf" text-anchor="middle" transform="rotate(-90 1136.6 830.4)">3'-3"</text>
<text x="770.8" y="834.3" font-size="7.6" fill="#23c6cf" stroke="#23c6cf" text-anchor="middle" transform="rotate(-90 770.8 834.3)">2'-3"</text>
<text x="1004.4" y="772.6" font-size="7.8" fill="#23c6cf" stroke="#23c6cf">UP 20 R</text>
<text x="1004.4" y="781.6" font-size="7.8" fill="#23c6cf" stroke="#23c6cf">10" T</text>
<text x="871.6" y="779.6" font-size="7.8" fill="#23c6cf" stroke="#23c6cf" text-anchor="middle">COAT</text>
<text x="880.1" y="480.2" font-size="6.5" fill="#23c6cf" stroke="#23c6cf" text-anchor="middle" transform="rotate(45 880.1 480.2)">3080</text>
<text x="1148.9" y="742.5" font-size="8" fill="#23c6cf" stroke="#23c6cf" text-anchor="middle">1</text>
<text x="860.4" y="701.5" font-size="6" fill="#23c6cf" stroke="#23c6cf" text-anchor="middle">8"</text>
<text x="855.4" y="661.2" font-size="7.8" fill="#c9ccd6" stroke="#c9ccd6" text-anchor="middle" transform="rotate(-90 855.4 661.2)">3'-6" AO</text>
<text x="578.6" y="599.2" font-size="14.3775" fill="#e8141e" stroke="#e8141e" font-weight="bold">GREAT RM</text>
<text x="897.6" y="610.4" font-size="14.3775" fill="#e8141e" stroke="#e8141e" text-anchor="middle" font-weight="bold">ELEV 1</text>
<text x="1062.9" y="559.6" font-size="14.3775" fill="#e8141e" stroke="#e8141e" text-anchor="middle" font-weight="bold">DINING RM</text>
<text x="1026.5" y="679.4" font-size="14.3775" fill="#e8141e" stroke="#e8141e" text-anchor="middle" font-weight="bold">FOYER</text>
<text x="971.8" y="846.6" font-size="14.3775" fill="#e8141e" stroke="#e8141e" text-anchor="middle" font-weight="bold">HIS WIC</text>
<text x="578.6" y="607.2" font-size="7.8" fill="#c9ccd6" stroke="#c9ccd6">OPEN TO ABOVE</text>
<text x="1001" y="692.4" font-size="7.8" fill="#c9ccd6" stroke="#c9ccd6">OPEN TO ABOVE</text>
<text x="997.3" y="712.8" font-size="12.09" fill="#e8141e" stroke="#e8141e" text-anchor="middle">2</text>
<text x="997.3" y="730.4" font-size="13.65" fill="#e8141e" stroke="#e8141e" text-anchor="middle">A8</text>
<text x="917.6" y="767.4" font-size="5" fill="#e8141e" stroke="#e8141e" text-anchor="middle" transform="rotate(-55 917.6 767.4)">RAILING</text>
<text x="754.4" y="466.6" font-size="7.8" fill="#c9ccd6" stroke="#c9ccd6" text-anchor="end">8" WALL</text>
<text x="592.9" y="701.5" font-size="7.8" fill="#c9ccd6" stroke="#c9ccd6" text-anchor="middle">48" FP W/</text>
<text x="592.9" y="710.5" font-size="7.8" fill="#c9ccd6" stroke="#c9ccd6" text-anchor="middle">RAISED</text>
<text x="592.9" y="719.5" font-size="7.8" fill="#c9ccd6" stroke="#c9ccd6" text-anchor="middle">HEARTH</text>
<text x="699.7" y="745.3" font-size="7.8" fill="#c9ccd6" stroke="#c9ccd6">BUILT-IN's</text>
<text x="699.7" y="754.3" font-size="7.8" fill="#c9ccd6" stroke="#c9ccd6">BY OTHERS</text>
<text x="670.3" y="790.8" font-size="6.5" fill="#c9ccd6" stroke="#c9ccd6" text-anchor="middle" transform="rotate(-48 670.3 790.8)">3080</text>
<text x="616.4" y="828.6" font-size="7.8" fill="#c9ccd6" stroke="#c9ccd6" text-anchor="middle">4080 CO</text>
<text x="680.2" y="826.5" font-size="7.8" fill="#c9ccd6" stroke="#c9ccd6" text-anchor="middle">ZERO</text>
<text x="680.2" y="835.5" font-size="7.8" fill="#c9ccd6" stroke="#c9ccd6" text-anchor="middle">ENTRY</text>
<text x="680.2" y="844.5" font-size="7.8" fill="#c9ccd6" stroke="#c9ccd6" text-anchor="middle">TILED</text>
<text x="680.2" y="853.5" font-size="7.8" fill="#c9ccd6" stroke="#c9ccd6" text-anchor="middle">SHWR</text>
<text x="733.5" y="833.8" font-size="7.8" fill="#c9ccd6" stroke="#c9ccd6" text-anchor="middle">LINENS</text>
<text x="1005.7" y="486.2" font-size="7.8" fill="#c9ccd6" stroke="#c9ccd6" text-anchor="middle">4080 CO</text>
<text x="914.5" y="514.3" font-size="7.8" fill="#c9ccd6" stroke="#c9ccd6" text-anchor="end">2x6 WALL</text>
<text x="848.9" y="600.7" font-size="6.5" fill="#c9ccd6" stroke="#c9ccd6" text-anchor="middle" transform="rotate(-45 848.9 600.7)">3080</text>
<text x="958.3" y="558.3" font-size="7.8" fill="#c9ccd6" stroke="#c9ccd6" text-anchor="middle" transform="rotate(-90 958.3 558.3)">SERVER</text>
<text x="1007" y="626.5" font-size="7.8" fill="#c9ccd6" stroke="#c9ccd6" text-anchor="middle">10'x8' CO</text>
<text x="848.1" y="776.2" font-size="6.5" fill="#23c6cf" stroke="#23c6cf" text-anchor="middle" transform="rotate(48 848.1 776.2)">3080</text>
<text x="1109.8" y="814.3" font-size="7.8" fill="#c9ccd6" stroke="#c9ccd6" text-anchor="middle">3080</text>
<text x="1109.8" y="840.3" font-size="7.8" fill="#c9ccd6" stroke="#c9ccd6" text-anchor="middle">3680 CO</text>
<text x="616.4" y="861.9" font-size="7.6" fill="#23c6cf" stroke="#23c6cf" text-anchor="middle">5'-5"</text>
<text x="665.8" y="861.9" font-size="7.6" fill="#23c6cf" stroke="#23c6cf" text-anchor="middle">4'-4"</text>
<text x="733.5" y="861.9" font-size="7.6" fill="#23c6cf" stroke="#23c6cf" text-anchor="middle">4'-2"</text>
<text x="822.1" y="861.9" font-size="7.6" fill="#23c6cf" stroke="#23c6cf" text-anchor="middle">7'-7"</text>
<text x="973.1" y="861.9" font-size="7.6" fill="#23c6cf" stroke="#23c6cf" text-anchor="middle">17'-11"</text>
<text x="1120.2" y="861.9" font-size="7.6" fill="#23c6cf" stroke="#23c6cf" text-anchor="middle">5'-2"</text>
<text x="636.4" y="877" font-size="7.6" fill="#23c6cf" stroke="#23c6cf" text-anchor="middle" transform="rotate(-90 636.4 877)">7'-11"</text>
<text x="636.4" y="951.2" font-size="7.6" fill="#23c6cf" stroke="#23c6cf" text-anchor="middle" transform="rotate(-90 636.4 951.2)">5'-2"</text>
<text x="636.4" y="1035.9" font-size="7.6" fill="#23c6cf" stroke="#23c6cf" text-anchor="middle" transform="rotate(-90 636.4 1035.9)">8'-1"</text>
<text x="706.2" y="939.5" font-size="7.6" fill="#23c6cf" stroke="#23c6cf" text-anchor="middle">8'-8"</text>
<text x="779.1" y="939.5" font-size="7.6" fill="#23c6cf" stroke="#23c6cf" text-anchor="middle">6'-4"</text>
<text x="870.2" y="939.5" font-size="7.6" fill="#23c6cf" stroke="#23c6cf" text-anchor="middle">3'-6"</text>
<text x="803.3" y="873.1" font-size="7.6" fill="#23c6cf" stroke="#23c6cf" text-anchor="middle" transform="rotate(-90 803.3 873.1)">7'-2"</text>
<text x="850.7" y="895.8" font-size="6.5" fill="#23c6cf" stroke="#23c6cf" text-anchor="middle">1'-1"</text>
<text x="679.6" y="1007.5" font-size="7.6" fill="#23c6cf" stroke="#23c6cf" text-anchor="middle">4'-4"</text>
<text x="715.3" y="1007.5" font-size="7.6" fill="#23c6cf" stroke="#23c6cf" text-anchor="middle">1'-4"</text>
<text x="762.2" y="1007.5" font-size="7.6" fill="#23c6cf" stroke="#23c6cf" text-anchor="middle">6'-0"</text>
<text x="808.5" y="1007.5" font-size="7.6" fill="#23c6cf" stroke="#23c6cf" text-anchor="middle">1'-4"</text>
<text x="853.3" y="1007.5" font-size="7.6" fill="#23c6cf" stroke="#23c6cf" text-anchor="middle">3'-6"</text>
<text x="984.8" y="1007.5" font-size="7.6" fill="#23c6cf" stroke="#23c6cf" text-anchor="middle">13'-0"</text>
<text x="1077.3" y="1007.5" font-size="7.6" fill="#23c6cf" stroke="#23c6cf" text-anchor="middle">1'-6"</text>
<text x="1115" y="1007.5" font-size="7.6" fill="#23c6cf" stroke="#23c6cf" text-anchor="middle">4'-1"</text>
<text x="887.2" y="1002" font-size="6.5" fill="#23c6cf" stroke="#23c6cf" text-anchor="middle">1'-0"</text>
<text x="917.6" y="939.5" font-size="6.5" fill="#23c6cf" stroke="#23c6cf" text-anchor="middle" transform="rotate(-90 917.6 939.5)">2'-5"</text>
<text x="924.2" y="994.2" font-size="7.6" fill="#23c6cf" stroke="#23c6cf" text-anchor="middle" transform="rotate(-90 924.2 994.2)">6'-2"</text>
<text x="924.2" y="1058" font-size="7.6" fill="#23c6cf" stroke="#23c6cf" text-anchor="middle" transform="rotate(-90 924.2 1058)">4'-2"</text>
<text x="1049.4" y="996.8" font-size="7.6" fill="#23c6cf" stroke="#23c6cf" text-anchor="middle" transform="rotate(-90 1049.4 996.8)">12'-11"</text>
<text x="1136.4" y="879.6" font-size="7.6" fill="#23c6cf" stroke="#23c6cf" text-anchor="middle" transform="rotate(-90 1136.4 879.6)">4'-2"</text>
<text x="1136.4" y="981.2" font-size="7.6" fill="#23c6cf" stroke="#23c6cf" text-anchor="middle" transform="rotate(-90 1136.4 981.2)">12'-11"</text>
<text x="1136.4" y="1072.3" font-size="6.5" fill="#23c6cf" stroke="#23c6cf" text-anchor="middle" transform="rotate(-90 1136.4 1072.3)">2'-4"</text>
<text x="685.4" y="1114.8" font-size="7.6" fill="#23c6cf" stroke="#23c6cf" text-anchor="middle">12'-0"</text>
<text x="801.2" y="1114.8" font-size="7.6" fill="#23c6cf" stroke="#23c6cf" text-anchor="middle">6'-0"</text>
<text x="911.9" y="1114.8" font-size="7.6" fill="#23c6cf" stroke="#23c6cf" text-anchor="middle">11'-2"</text>
<text x="1061.6" y="1114.8" font-size="7.6" fill="#23c6cf" stroke="#23c6cf" text-anchor="middle">12'-3"</text>
<text x="740.1" y="1131.7" font-size="7.6" fill="#23c6cf" stroke="#23c6cf" text-anchor="middle">62'-3"</text>
<text x="607.8" y="1070.6" font-size="8" fill="#23c6cf" stroke="#23c6cf" text-anchor="middle">C</text>
<text x="762.7" y="1065.9" font-size="8" fill="#23c6cf" stroke="#23c6cf" text-anchor="middle">I</text>
<text x="840.3" y="1072.4" font-size="8" fill="#23c6cf" stroke="#23c6cf" text-anchor="middle">J</text>
<text x="983.5" y="1070.6" font-size="8" fill="#23c6cf" stroke="#23c6cf" text-anchor="middle">C</text>
<text x="749.9" y="885.6" font-size="14.3775" fill="#e8141e" stroke="#e8141e" text-anchor="middle" font-weight="bold">HIS BATH</text>
<text x="845.5" y="992.4" font-size="14.3775" fill="#e8141e" stroke="#e8141e" text-anchor="middle" font-weight="bold">HER BATH</text>
<text x="987.4" y="964.3" font-size="14.3775" fill="#e8141e" stroke="#e8141e" text-anchor="middle" font-weight="bold">HERS WIC</text>
<text x="697.9" y="1206.2" font-size="11.656" fill="#e8141e" stroke="#e8141e" text-anchor="middle">4</text>
<text x="697.9" y="1223.1" font-size="13.16" fill="#e8141e" stroke="#e8141e" text-anchor="middle">A6</text>
<text x="966.1" y="1216.8" font-size="10" fill="#c9ccd6" stroke="#c9ccd6" text-anchor="middle">1</text>
<text x="966.6" y="1231.7" font-size="11" fill="#c9ccd6" stroke="#c9ccd6" text-anchor="middle">A1</text>
<text x="991.3" y="1216.8" font-size="17.5" fill="#c9ccd6" stroke="#c9ccd6" font-weight="bold">FIRST FLOOR PLAN</text>
<text x="990" y="1232.2" font-size="7.6" fill="#c9ccd6" stroke="#c9ccd6">3/16"=1'-0"</text>
<text x="989.3" y="1245.6" font-size="7.9" fill="#c9ccd6" xml:space="preserve">NOTES:</text>
<text x="989.3" y="1254.5" font-size="7.9" fill="#c9ccd6" xml:space="preserve">1) 11' 1-1/2" PLATE HT, UNO</text>
<text x="989.3" y="1263.5" font-size="7.9" fill="#c9ccd6" xml:space="preserve">2) SEE ELEVATIONS FOR WINDOW HEIGHTS</text>
<text x="989.3" y="1272.5" font-size="7.9" fill="#c9ccd6" xml:space="preserve">3) DIMENSIONS ARE TO FRAMING</text>
<text x="989.3" y="1281.5" font-size="7.9" fill="#c9ccd6" xml:space="preserve">4) PROVIDE (2) STUDS BETWEEN INDIVIDUAL</text>
<text x="989.3" y="1290.5" font-size="7.9" fill="#c9ccd6" xml:space="preserve">    WINDOW UNITS WHERE MULTIPLE UNITS ARE INDICATED</text>
<text x="989.3" y="1299.5" font-size="7.9" fill="#c9ccd6" xml:space="preserve">5) DOOR &amp; WINDOW SIZE CLARIFICATION EXAMPLE:</text>
<text x="989.3" y="1308.4" font-size="7.9" fill="#c9ccd6" xml:space="preserve">     2468 = 2'-4" x 6'-8" (NOMINAL SIZE)</text>
<text x="989.3" y="1317.4" font-size="7.9" fill="#c9ccd6" xml:space="preserve">6) ALL EXTERIOR AND POCKET DOOR WALLS ARE 2x6, UNO</text>
<text x="989.3" y="1326.4" font-size="7.9" fill="#c9ccd6" xml:space="preserve">7) CASED OPENINGS ARE 2x6 WALLS, UNO</text>
<text x="989.3" y="1335.4" font-size="7.9" fill="#c9ccd6" xml:space="preserve">8) CONTRACTOR TO VERIFY ELEVATOR R.O.</text>
<text x="989.3" y="1344.4" font-size="7.9" fill="#c9ccd6" xml:space="preserve">    REQUIREMENTS PRIOR TO CONSTRUCTION</text>
<text x="673.6" y="1050.7" font-size="7.8" fill="#c9ccd6" stroke="#c9ccd6">ZERO</text>
<text x="673.6" y="1059.6" font-size="7.8" fill="#c9ccd6" stroke="#c9ccd6">ENTRY</text>
<text x="673.6" y="1068.5" font-size="7.8" fill="#c9ccd6" stroke="#c9ccd6">TILED</text>
<text x="673.6" y="1077.4" font-size="7.8" fill="#c9ccd6" stroke="#c9ccd6">SHWR</text>
<text x="738.7" y="923.4" font-size="7.8" fill="#c9ccd6" stroke="#c9ccd6" text-anchor="middle">3080</text>
<text x="648.1" y="948.6" font-size="7.8" fill="#c9ccd6" stroke="#c9ccd6" text-anchor="middle" transform="rotate(-90 648.1 948.6)">4080 CO</text>
<text x="787.4" y="919.2" font-size="6.5" fill="#c9ccd6" stroke="#c9ccd6" text-anchor="middle" transform="rotate(45 787.4 919.2)">2680</text>
<text x="799.9" y="950.7" font-size="7.8" fill="#c9ccd6" stroke="#c9ccd6" text-anchor="middle">2x6 WALL</text>
<text x="873.4" y="929.1" font-size="7.8" fill="#c9ccd6" stroke="#c9ccd6" text-anchor="middle">W/D</text>
<text x="891.1" y="970.2" font-size="7.8" fill="#c9ccd6" stroke="#c9ccd6">LINEN</text>
<text x="891.1" y="979.2" font-size="7.8" fill="#c9ccd6" stroke="#c9ccd6">CABINET</text>
<text x="738.7" y="980.7" font-size="7.8" fill="#c9ccd6" stroke="#c9ccd6" text-anchor="middle">3080</text>
<text x="719.7" y="1059.3" font-size="7.8" fill="#c9ccd6" stroke="#c9ccd6" text-anchor="middle" transform="rotate(-90 719.7 1059.3)">SHELF</text>
<text x="809.8" y="1059.3" font-size="7.8" fill="#c9ccd6" stroke="#c9ccd6" text-anchor="middle" transform="rotate(-90 809.8 1059.3)">SHELF</text>
<text x="763.5" y="1051" font-size="7.8" fill="#c9ccd6" stroke="#c9ccd6" text-anchor="middle">PED TUB</text>
<text x="839" y="1044.2" font-size="6.5" fill="#c9ccd6" stroke="#c9ccd6" text-anchor="middle" transform="rotate(45 839 1044.2)">2680</text>
<text x="883.3" y="1017.6" font-size="6.5" fill="#c9ccd6" stroke="#c9ccd6" text-anchor="middle" transform="rotate(-90 883.3 1017.6)">1680</text>
<text x="928.8" y="1045" font-size="7.8" fill="#c9ccd6" stroke="#c9ccd6">2x6 WALL</text>
<text x="1098.1" y="873.1" font-size="6.5" fill="#c9ccd6" stroke="#c9ccd6" text-anchor="middle" transform="rotate(50 1098.1 873.1)">3080</text>
<text x="856.7" y="877" font-size="6.5" fill="#c9ccd6" stroke="#c9ccd6" text-anchor="middle" transform="rotate(-90 856.7 877)">1680</text>
<text x="1174.1" y="164.1" font-size="7.6" fill="#23c6cf" stroke="#23c6cf" text-anchor="middle">4'-0"</text>
<text x="1256.2" y="164.1" font-size="7.6" fill="#23c6cf" stroke="#23c6cf" text-anchor="middle">8'-11"</text>
<text x="1411.1" y="164.1" font-size="7.6" fill="#23c6cf" stroke="#23c6cf" text-anchor="middle">15'-3"</text>
<text x="1161.1" y="179.2" font-size="7.6" fill="#23c6cf" stroke="#23c6cf" text-anchor="middle">2'-0"</text>
<text x="1185.9" y="179.2" font-size="7.6" fill="#23c6cf" stroke="#23c6cf" text-anchor="middle">2'-0"</text>
<text x="1230.1" y="179.7" font-size="7.6" fill="#23c6cf" stroke="#23c6cf" text-anchor="middle">4'-11"</text>
<text x="1287.4" y="179.2" font-size="7.6" fill="#23c6cf" stroke="#23c6cf" text-anchor="middle">4'-0"</text>
<text x="1333" y="179.2" font-size="7.6" fill="#23c6cf" stroke="#23c6cf" text-anchor="middle">3' 1-1/2"</text>
<text x="1382.5" y="179.2" font-size="7.6" fill="#23c6cf" stroke="#23c6cf" text-anchor="middle">4'-6"</text>
<text x="1440.5" y="179.2" font-size="7.6" fill="#23c6cf" stroke="#23c6cf" text-anchor="middle">4'-6"</text>
<text x="1489.2" y="179.2" font-size="7.6" fill="#23c6cf" stroke="#23c6cf" text-anchor="middle">3' 1-1/2"</text>
<text x="1649.4" y="179.2" font-size="7.6" fill="#23c6cf" stroke="#23c6cf" text-anchor="middle">21'-8"</text>
<text x="1271.3" y="230.5" font-size="7.6" fill="#23c6cf" stroke="#23c6cf" text-anchor="middle" transform="rotate(-90 1271.3 230.5)">4'-4"</text>
<text x="1271.3" y="299.5" font-size="7.6" fill="#23c6cf" stroke="#23c6cf" text-anchor="middle" transform="rotate(-90 1271.3 299.5)">6'-1"</text>
<text x="1271.3" y="407.5" font-size="7.6" fill="#23c6cf" stroke="#23c6cf" text-anchor="middle" transform="rotate(-90 1271.3 407.5)">11'-0"</text>
<text x="1344.2" y="222.6" font-size="7.6" fill="#23c6cf" stroke="#23c6cf" text-anchor="middle" transform="rotate(-90 1344.2 222.6)">3'-0"</text>
<text x="1344.2" y="286.4" font-size="7.6" fill="#23c6cf" stroke="#23c6cf" text-anchor="middle" transform="rotate(-90 1344.2 286.4)">7'-0"</text>
<text x="1344.2" y="369.8" font-size="7.6" fill="#23c6cf" stroke="#23c6cf" text-anchor="middle" transform="rotate(-90 1344.2 369.8)">5'-10"</text>
<text x="1157.7" y="272.1" font-size="7.6" fill="#23c6cf" stroke="#23c6cf" text-anchor="middle" transform="rotate(-90 1157.7 272.1)">8'-1"</text>
<text x="1157.7" y="377.6" font-size="7.6" fill="#23c6cf" stroke="#23c6cf" text-anchor="middle" transform="rotate(-90 1157.7 377.6)">6'-5"</text>
<text x="1546.5" y="279.1" font-size="7.6" fill="#23c6cf" stroke="#23c6cf" text-anchor="middle">5'-11"</text>
<text x="1657.2" y="279.1" font-size="7.6" fill="#23c6cf" stroke="#23c6cf" text-anchor="middle">9'-9"</text>
<text x="1639.7" y="229.2" font-size="7.6" fill="#23c6cf" stroke="#23c6cf" text-anchor="middle" transform="rotate(-90 1639.7 229.2)">4'-0"</text>
<text x="1639.7" y="294.2" font-size="7.6" fill="#23c6cf" stroke="#23c6cf" text-anchor="middle" transform="rotate(-90 1639.7 294.2)">5'-8"</text>
<text x="1639.7" y="355.4" font-size="7.6" fill="#23c6cf" stroke="#23c6cf" text-anchor="middle" transform="rotate(-90 1639.7 355.4)">4'-4"</text>
<text x="1639.7" y="427.1" font-size="7.6" fill="#23c6cf" stroke="#23c6cf" text-anchor="middle" transform="rotate(-90 1639.7 427.1)">8'-0"</text>
<text x="1547.8" y="360.1" font-size="7.6" fill="#23c6cf" stroke="#23c6cf" text-anchor="middle">4'-11"</text>
<text x="1171.5" y="243.6" font-size="8" fill="#23c6cf" stroke="#23c6cf" text-anchor="middle">5</text>
<text x="1403.3" y="252.2" font-size="8" fill="#23c6cf" stroke="#23c6cf" text-anchor="middle">3</text>
<text x="1411.6" y="319.1" font-size="8" fill="#23c6cf" stroke="#23c6cf" text-anchor="middle">3</text>
<text x="1304.3" y="421.9" font-size="8" fill="#23c6cf" stroke="#23c6cf" text-anchor="middle">2</text>
<text x="1256.9" y="224" font-size="8" fill="#23c6cf" stroke="#23c6cf" text-anchor="middle">E</text>
<text x="1353.8" y="262.3" font-size="8" fill="#23c6cf" stroke="#23c6cf" text-anchor="middle">B</text>
<text x="1468.9" y="262.3" font-size="8" fill="#23c6cf" stroke="#23c6cf" text-anchor="middle">B</text>
<text x="1353.8" y="316" font-size="8" fill="#23c6cf" stroke="#23c6cf" text-anchor="middle">B</text>
<text x="1468.9" y="316" font-size="8" fill="#23c6cf" stroke="#23c6cf" text-anchor="middle">B</text>
<text x="1181.2" y="221.3" font-size="7.8" fill="#23c6cf" stroke="#23c6cf" text-anchor="middle" transform="rotate(-90 1181.2 221.3)">DN</text>
<text x="1189.8" y="221.3" font-size="7.8" fill="#23c6cf" stroke="#23c6cf" text-anchor="middle" transform="rotate(-90 1189.8 221.3)">12" T</text>
<text x="1368.1" y="268.7" font-size="7.8" fill="#23c6cf" stroke="#23c6cf">SKYLIGHT</text>
<text x="1368.1" y="277.7" font-size="7.8" fill="#23c6cf" stroke="#23c6cf">ABOVE</text>
<text x="1569.9" y="231.8" font-size="7.8" fill="#23c6cf" stroke="#23c6cf">UP 14R</text>
<text x="1569.9" y="240.4" font-size="7.8" fill="#23c6cf" stroke="#23c6cf">10" T</text>
<text x="1597.3" y="291.6" font-size="7.8" fill="#23c6cf" stroke="#23c6cf">DN</text>
<text x="1597.3" y="300.2" font-size="7.8" fill="#23c6cf" stroke="#23c6cf">12" T</text>
<text x="1417.6" y="230.5" font-size="6" fill="#23c6cf" stroke="#23c6cf" text-anchor="middle" transform="rotate(-90 1417.6 230.5)">DN</text>
<text x="1425.4" y="230.5" font-size="6" fill="#23c6cf" stroke="#23c6cf" text-anchor="middle" transform="rotate(-90 1425.4 230.5)">12"T</text>
<text x="1412.4" y="292.2" font-size="14.3775" fill="#e8141e" stroke="#e8141e" text-anchor="middle" font-weight="bold">HALL</text>
<text x="1219.2" y="395.8" font-size="14.3775" fill="#e8141e" stroke="#e8141e" text-anchor="middle" font-weight="bold">GUEST</text>
<text x="1217.1" y="411.4" font-size="14.3775" fill="#e8141e" stroke="#e8141e" text-anchor="middle" font-weight="bold">SUITE</text>
<text x="1408.5" y="419.8" font-size="14.3775" fill="#e8141e" stroke="#e8141e" text-anchor="middle" font-weight="bold">TERRACE</text>
<text x="1547" y="348.9" font-size="14.3775" fill="#e8141e" stroke="#e8141e" text-anchor="middle" font-weight="bold">ELEV 2</text>
<text x="1191.1" y="289" font-size="6.5" fill="#c9ccd6" stroke="#c9ccd6" text-anchor="middle" transform="rotate(42 1191.1 289)">3080</text>
<text x="1188.5" y="300.8" font-size="7.5" fill="#c9ccd6" stroke="#c9ccd6" text-anchor="middle" transform="rotate(42 1188.5 300.8)">DUTCH</text>
<text x="1223.6" y="247.4" font-size="7.8" fill="#c9ccd6" stroke="#c9ccd6">2x6 WALL</text>
<text x="1248.9" y="263.5" font-size="7.8" fill="#c9ccd6" stroke="#c9ccd6">2680</text>
<text x="1303" y="287.7" font-size="7.8" fill="#c9ccd6" stroke="#c9ccd6" text-anchor="middle" transform="rotate(-90 1303 287.7)">3080 CO</text>
<text x="1260.1" y="326.8" font-size="7.8" fill="#c9ccd6" stroke="#c9ccd6" text-anchor="middle">BENCH</text>
<text x="1506.1" y="287.7" font-size="7.8" fill="#c9ccd6" stroke="#c9ccd6" text-anchor="middle" transform="rotate(-90 1506.1 287.7)">3080 CO</text>
<text x="1529.6" y="241.6" font-size="6.5" fill="#c9ccd6" stroke="#c9ccd6" text-anchor="middle" transform="rotate(-45 1529.6 241.6)">3068</text>
<text x="1687.1" y="269.5" font-size="6.5" fill="#c9ccd6" stroke="#c9ccd6" text-anchor="middle" transform="rotate(38 1687.1 269.5)">3080</text>
<text x="1568.1" y="275.5" font-size="6.5" fill="#c9ccd6" stroke="#c9ccd6" text-anchor="middle" transform="rotate(-42 1568.1 275.5)">3068</text>
<text x="1547.8" y="313.3" font-size="6.5" fill="#c9ccd6" stroke="#c9ccd6" text-anchor="middle" transform="rotate(-25 1547.8 313.3)">3068</text>
<text x="1593.4" y="352.1" font-size="7.8" fill="#c9ccd6" stroke="#c9ccd6">PIT AS</text>
<text x="1593.4" y="361.1" font-size="7.8" fill="#c9ccd6" stroke="#c9ccd6">REQ'D</text>
<text x="1527.5" y="400.2" font-size="7.8" fill="#c9ccd6" stroke="#c9ccd6">2x8 WALL</text>
<text x="1157.7" y="437.2" font-size="7.6" fill="#23c6cf" stroke="#23c6cf" text-anchor="middle" transform="rotate(-90 1157.7 437.2)">4'-1"</text>
<text x="1222.3" y="447.6" font-size="7.6" fill="#23c6cf" stroke="#23c6cf" text-anchor="middle">14'-0"</text>
<text x="1322.6" y="447.6" font-size="7.6" fill="#23c6cf" stroke="#23c6cf" text-anchor="middle">1'-5"</text>
<text x="1345.2" y="439.8" font-size="7.6" fill="#23c6cf" stroke="#23c6cf" text-anchor="middle" transform="rotate(-90 1345.2 439.8)">5'-7"</text>
<text x="1499.6" y="447.6" font-size="7.6" fill="#23c6cf" stroke="#23c6cf" text-anchor="middle">1'-5"</text>
<text x="1333" y="535.6" font-size="7.6" fill="#23c6cf" stroke="#23c6cf" text-anchor="middle">3' 1-1/2"</text>
<text x="1382.5" y="535.6" font-size="7.6" fill="#23c6cf" stroke="#23c6cf" text-anchor="middle">4'-6"</text>
<text x="1440.5" y="535.6" font-size="7.6" fill="#23c6cf" stroke="#23c6cf" text-anchor="middle">4'-6"</text>
<text x="1489.2" y="535.6" font-size="7.6" fill="#23c6cf" stroke="#23c6cf" text-anchor="middle">3' 1-1/2"</text>
<text x="1411.1" y="549.2" font-size="7.6" fill="#23c6cf" stroke="#23c6cf" text-anchor="middle">15'-3"</text>
<text x="1559.5" y="549.2" font-size="7.6" fill="#23c6cf" stroke="#23c6cf" text-anchor="middle">7'-9"</text>
<text x="1650.7" y="535.6" font-size="7.6" fill="#23c6cf" stroke="#23c6cf" text-anchor="middle">6'-6"</text>
<text x="1639.7" y="437.2" font-size="7.6" fill="#23c6cf" stroke="#23c6cf" text-anchor="middle" transform="rotate(-90 1639.7 437.2)">8'-0"</text>
<text x="1639.7" y="503.6" font-size="7.6" fill="#23c6cf" stroke="#23c6cf" text-anchor="middle" transform="rotate(-90 1639.7 503.6)">3'-0"</text>
<text x="1209.3" y="485.4" font-size="6.5" fill="#23c6cf" stroke="#23c6cf" text-anchor="middle" transform="rotate(-90 1209.3 485.4)">1'-7"</text>
<text x="1209.3" y="510.1" font-size="7.6" fill="#23c6cf" stroke="#23c6cf" text-anchor="middle" transform="rotate(-90 1209.3 510.1)">3'-6"</text>
<text x="1209.3" y="553.1" font-size="7.6" fill="#23c6cf" stroke="#23c6cf" text-anchor="middle" transform="rotate(-90 1209.3 553.1)">3'-6"</text>
<text x="1209.3" y="594.7" font-size="7.6" fill="#23c6cf" stroke="#23c6cf" text-anchor="middle" transform="rotate(-90 1209.3 594.7)">3'-6"</text>
<text x="1196.8" y="541.9" font-size="6.5" fill="#23c6cf" stroke="#23c6cf" text-anchor="middle" transform="rotate(-90 1196.8 541.9)">1'-9"</text>
<text x="1196.8" y="564.3" font-size="6.5" fill="#23c6cf" stroke="#23c6cf" text-anchor="middle" transform="rotate(-90 1196.8 564.3)">1'-9"</text>
<text x="1165" y="654.9" font-size="7.6" fill="#23c6cf" stroke="#23c6cf" text-anchor="middle">1'-9"</text>
<text x="1217.1" y="654.9" font-size="7.6" fill="#23c6cf" stroke="#23c6cf" text-anchor="middle">6'-4"</text>
<text x="1280.9" y="654.9" font-size="7.6" fill="#23c6cf" stroke="#23c6cf" text-anchor="middle">4'-3"</text>
<text x="1333.8" y="667.7" font-size="7.6" fill="#23c6cf" stroke="#23c6cf" text-anchor="middle" transform="rotate(-90 1333.8 667.7)">8'-7"</text>
<text x="1333.8" y="783.5" font-size="7.6" fill="#23c6cf" stroke="#23c6cf" text-anchor="middle" transform="rotate(-90 1333.8 783.5)">9'-3"</text>
<text x="1344.2" y="728.9" font-size="7.6" fill="#23c6cf" stroke="#23c6cf" text-anchor="middle" transform="rotate(-90 1344.2 728.9)">17'-10"</text>
<text x="1274.4" y="692.4" font-size="7.8" fill="#23c6cf" stroke="#23c6cf">DOWN</text>
<text x="1274.4" y="701.4" font-size="7.8" fill="#23c6cf" stroke="#23c6cf">16" T</text>
<text x="1184.5" y="860.4" font-size="7.6" fill="#23c6cf" stroke="#23c6cf" text-anchor="middle">4'-8"</text>
<text x="1252.3" y="860.4" font-size="7.6" fill="#23c6cf" stroke="#23c6cf" text-anchor="middle">5'-9"</text>
<text x="1159.8" y="556.3" font-size="8" fill="#23c6cf" stroke="#23c6cf" text-anchor="middle">A</text>
<text x="1150.7" y="524.5" font-size="8" fill="#23c6cf" stroke="#23c6cf" text-anchor="middle">A</text>
<text x="1150.7" y="588.3" font-size="8" fill="#23c6cf" stroke="#23c6cf" text-anchor="middle">A</text>
<text x="1214.5" y="830" font-size="8" fill="#23c6cf" stroke="#23c6cf" text-anchor="middle">P</text>
<text x="1148.9" y="742.5" font-size="8" fill="#23c6cf" stroke="#23c6cf" text-anchor="middle">1</text>
<text x="1364.2" y="571.1" font-size="11.656" fill="#e8141e" stroke="#e8141e" text-anchor="middle">1</text>
<text x="1364.2" y="588" font-size="13.16" fill="#e8141e" stroke="#e8141e" text-anchor="middle">A6</text>
<text x="1420.7" y="606.1" font-size="12.09" fill="#e8141e" stroke="#e8141e" text-anchor="middle">3</text>
<text x="1420.7" y="623.6" font-size="13.65" fill="#e8141e" stroke="#e8141e" text-anchor="middle">A6</text>
<text x="1390.3" y="679" font-size="12.09" fill="#e8141e" stroke="#e8141e" text-anchor="middle">6</text>
<text x="1390.3" y="696.5" font-size="13.65" fill="#e8141e" stroke="#e8141e" text-anchor="middle">A6</text>
<text x="1214" y="748.4" font-size="14.3775" fill="#e8141e" stroke="#e8141e" text-anchor="middle" font-weight="bold">FRONT</text>
<text x="1215.3" y="764" font-size="14.3775" fill="#e8141e" stroke="#e8141e" text-anchor="middle" font-weight="bold">PORCH</text>
<text x="1214" y="772.6" font-size="7.8" fill="#c9ccd6" stroke="#c9ccd6" text-anchor="middle">CURVED CLG</text>
<text x="1251" y="794.7" font-size="7.8" fill="#c9ccd6" stroke="#c9ccd6" text-anchor="end">18" DIA COLUMNS</text>
<text x="1577.8" y="437.7" font-size="6.5" fill="#c9ccd6" stroke="#c9ccd6" text-anchor="middle" transform="rotate(-90 1577.8 437.7)">6080</text>
<text x="1522.3" y="511.9" font-size="7.8" fill="#c9ccd6" stroke="#c9ccd6">10" SQ</text>
<text x="1522.3" y="520.9" font-size="7.8" fill="#c9ccd6" stroke="#c9ccd6">COLUMNS</text>
<text x="1620.7" y="563.5" font-size="7.8" fill="#c9ccd6" stroke="#c9ccd6">FACE OF STONE</text>
<text x="1620.7" y="572.5" font-size="7.8" fill="#c9ccd6" stroke="#c9ccd6">BELOW &amp; WALL FLAIR</text>
<text x="1711.3" y="475" font-size="7.8" fill="#c9ccd6" stroke="#c9ccd6" text-anchor="middle" transform="rotate(-90 1711.3 475)">SLOPE</text>
<text x="1719.1" y="475" font-size="7.8" fill="#c9ccd6" stroke="#c9ccd6" text-anchor="middle" transform="rotate(-90 1719.1 475)">SLAB</text>
<text x="1344.2" y="871.8" font-size="7.6" fill="#23c6cf" stroke="#23c6cf" text-anchor="middle" transform="rotate(-90 1344.2 871.8)">4'-7"</text>
<text x="1344.2" y="921.3" font-size="7.6" fill="#23c6cf" stroke="#23c6cf" text-anchor="middle" transform="rotate(-90 1344.2 921.3)">3'-2"</text>
<text x="1344.2" y="964.3" font-size="7.6" fill="#23c6cf" stroke="#23c6cf" text-anchor="middle" transform="rotate(-90 1344.2 964.3)">3'-6"</text>
<text x="1344.2" y="1008.5" font-size="7.6" fill="#23c6cf" stroke="#23c6cf" text-anchor="middle" transform="rotate(-90 1344.2 1008.5)">3'-2"</text>
<text x="1344.2" y="1058" font-size="7.6" fill="#23c6cf" stroke="#23c6cf" text-anchor="middle" transform="rotate(-90 1344.2 1058)">4'-7"</text>
<text x="1344.2" y="1093.2" font-size="6" fill="#23c6cf" stroke="#23c6cf" text-anchor="middle" transform="rotate(-90 1344.2 1093.2)">9"</text>
<text x="1333" y="952.5" font-size="6.5" fill="#23c6cf" stroke="#23c6cf" text-anchor="middle" transform="rotate(-90 1333 952.5)">1'-9"</text>
<text x="1333" y="976" font-size="6.5" fill="#23c6cf" stroke="#23c6cf" text-anchor="middle" transform="rotate(-90 1333 976)">1'-9"</text>
<text x="1184.5" y="1007.5" font-size="7.6" fill="#23c6cf" stroke="#23c6cf" text-anchor="middle">6'-11"</text>
<text x="1258.8" y="1007.5" font-size="7.6" fill="#23c6cf" stroke="#23c6cf" text-anchor="middle">4'-7"</text>
<text x="1184.5" y="1131.7" font-size="7.6" fill="#23c6cf" stroke="#23c6cf" text-anchor="middle">6'-11"</text>
<text x="1258.8" y="1131.7" font-size="7.6" fill="#23c6cf" stroke="#23c6cf" text-anchor="middle">4'-7"</text>
<text x="1282.2" y="1129.1" font-size="6" fill="#23c6cf" stroke="#23c6cf" text-anchor="middle">4"</text>
<text x="1303.8" y="1131.7" font-size="7.6" fill="#23c6cf" stroke="#23c6cf" text-anchor="middle">1'-10"</text>
<text x="1261.4" y="887.4" font-size="7.8" fill="#23c6cf" stroke="#23c6cf" text-anchor="middle" transform="rotate(-90 1261.4 887.4)">VAULT</text>
<text x="1261.4" y="1043.7" font-size="7.8" fill="#23c6cf" stroke="#23c6cf" text-anchor="middle" transform="rotate(-90 1261.4 1043.7)">VAULT</text>
<text x="1289.5" y="934.9" font-size="8" fill="#23c6cf" stroke="#23c6cf" text-anchor="middle">K</text>
<text x="1297" y="967" font-size="8" fill="#23c6cf" stroke="#23c6cf" text-anchor="middle">K</text>
<text x="1289.5" y="998.7" font-size="8" fill="#23c6cf" stroke="#23c6cf" text-anchor="middle">K</text>
<text x="1214" y="978.1" font-size="14.3775" fill="#e8141e" stroke="#e8141e" text-anchor="end" font-weight="bold">LIBRARY</text>
<text x="1211.4" y="989.5" font-size="7.8" fill="#c9ccd6" stroke="#c9ccd6" text-anchor="end">OPEN TO ABOVE</text>
<text x="1179.3" y="1031.4" font-size="7.8" fill="#c9ccd6" stroke="#c9ccd6" text-anchor="end">48" FP W/</text>
<text x="1179.3" y="1040.4" font-size="7.8" fill="#c9ccd6" stroke="#c9ccd6" text-anchor="end">FLUSH</text>
<text x="1179.3" y="1049.4" font-size="7.8" fill="#c9ccd6" stroke="#c9ccd6" text-anchor="end">HEARTH</text>
<text x="1877.7" y="164.1" font-size="7.6" fill="#23c6cf" stroke="#23c6cf" text-anchor="middle">57'-4"</text>
<text x="1858.2" y="179.2" font-size="7.6" fill="#23c6cf" stroke="#23c6cf" text-anchor="middle">10'-11"</text>
<text x="2011.1" y="179.2" font-size="7.6" fill="#23c6cf" stroke="#23c6cf" text-anchor="middle">12'-10"</text>
<text x="2159" y="179.2" font-size="7.6" fill="#23c6cf" stroke="#23c6cf" text-anchor="middle">10'-3"</text>
<text x="2235.3" y="179.2" font-size="7.6" fill="#23c6cf" stroke="#23c6cf" text-anchor="middle">1'-8"</text>
<text x="1788.4" y="225.9" font-size="8" fill="#23c6cf" stroke="#23c6cf" text-anchor="middle">D</text>
<text x="1928.5" y="225.9" font-size="8" fill="#23c6cf" stroke="#23c6cf" text-anchor="middle">D</text>
<text x="2055.3" y="412.3" font-size="8" fill="#23c6cf" stroke="#23c6cf" text-anchor="middle">C</text>
<text x="2068.6" y="274.8" font-size="8" fill="#23c6cf" stroke="#23c6cf" text-anchor="middle">3</text>
<text x="1896.5" y="279.1" font-size="7.6" fill="#23c6cf" stroke="#23c6cf" text-anchor="middle">28'-11"</text>
<text x="2119.4" y="242.2" font-size="7.6" fill="#23c6cf" stroke="#23c6cf" text-anchor="middle" transform="rotate(-90 2119.4 242.2)">6'-0"</text>
<text x="2119.4" y="345" font-size="7.6" fill="#23c6cf" stroke="#23c6cf" text-anchor="middle" transform="rotate(-90 2119.4 345)">10'-0"</text>
<text x="2259.2" y="214.8" font-size="6.5" fill="#23c6cf" stroke="#23c6cf" text-anchor="middle" transform="rotate(-90 2259.2 214.8)">1'-8"</text>
<text x="2259.2" y="279.9" font-size="7.6" fill="#23c6cf" stroke="#23c6cf" text-anchor="middle" transform="rotate(-90 2259.2 279.9)">8'-6"</text>
<text x="2259.2" y="345" font-size="6.5" fill="#23c6cf" stroke="#23c6cf" text-anchor="middle" transform="rotate(-90 2259.2 345)">1'-8"</text>
<text x="2259.2" y="414" font-size="7.6" fill="#23c6cf" stroke="#23c6cf" text-anchor="middle" transform="rotate(-90 2259.2 414)">8'-6"</text>
<text x="2269.6" y="345" font-size="7.6" fill="#23c6cf" stroke="#23c6cf" text-anchor="middle" transform="rotate(-90 2269.6 345)">22'-0"</text>
<text x="2012.6" y="317.3" font-size="12.09" fill="#e8141e" stroke="#e8141e" text-anchor="middle">7</text>
<text x="2012.6" y="334.9" font-size="13.65" fill="#e8141e" stroke="#e8141e" text-anchor="middle">A7</text>
<text x="1735.8" y="362" font-size="14.3775" fill="#e8141e" stroke="#e8141e" font-weight="bold">GARAGE</text>
<text x="2162.9" y="350.8" font-size="14.3775" fill="#e8141e" stroke="#e8141e" text-anchor="middle" font-weight="bold">CARPORT</text>
<text x="2172" y="233.8" font-size="7.8" fill="#c9ccd6" stroke="#c9ccd6" text-anchor="middle" transform="rotate(-90 2172 233.8)">SLOPE</text>
<text x="2172" y="429.7" font-size="7.8" fill="#c9ccd6" stroke="#c9ccd6" text-anchor="middle" transform="rotate(-90 2172 429.7)">SLOPE</text>
<text x="2019.1" y="434.3" font-size="7.8" fill="#c9ccd6" stroke="#c9ccd6" text-anchor="middle" transform="rotate(-90 2019.1 434.3)">SLOPE</text>
<text x="2027.5" y="434.3" font-size="7.8" fill="#c9ccd6" stroke="#c9ccd6" text-anchor="middle" transform="rotate(-90 2027.5 434.3)">SLAB</text>
<text x="1765.8" y="535.6" font-size="7.6" fill="#23c6cf" stroke="#23c6cf" text-anchor="middle">11'-6"</text>
<text x="1882.9" y="535.6" font-size="7.6" fill="#23c6cf" stroke="#23c6cf" text-anchor="middle">6'-6"</text>
<text x="1962.9" y="535.6" font-size="7.6" fill="#23c6cf" stroke="#23c6cf" text-anchor="middle">6'-0"</text>
<text x="2047.8" y="535.6" font-size="7.6" fill="#23c6cf" stroke="#23c6cf" text-anchor="middle">7'-2"</text>
<text x="2159" y="535.6" font-size="7.6" fill="#23c6cf" stroke="#23c6cf" text-anchor="middle">10'-3"</text>
<text x="2235.3" y="535.6" font-size="7.6" fill="#23c6cf" stroke="#23c6cf" text-anchor="middle">1'-8"</text>
<text x="1765.8" y="549.2" font-size="7.6" fill="#23c6cf" stroke="#23c6cf" text-anchor="middle">24'-6"</text>
<text x="2085.3" y="549.2" font-size="7.6" fill="#23c6cf" stroke="#23c6cf" text-anchor="middle">25'-1"</text>
<text x="2119.4" y="447.6" font-size="7.6" fill="#23c6cf" stroke="#23c6cf" text-anchor="middle" transform="rotate(-90 2119.4 447.6)">6'-0"</text>
<text x="2259.2" y="475" font-size="6.5" fill="#23c6cf" stroke="#23c6cf" text-anchor="middle" transform="rotate(-90 2259.2 475)">1'-8"</text>
<text x="2269.1" y="506.2" font-size="7.6" fill="#23c6cf" stroke="#23c6cf" text-anchor="middle" transform="rotate(-90 2269.1 506.2)">3'-0"</text>
<text x="2222" y="458.6" font-size="7.8" fill="#23c6cf" stroke="#23c6cf" text-anchor="end">FACE OF STONE VENEER</text>
<text x="2222" y="467.6" font-size="7.8" fill="#23c6cf" stroke="#23c6cf" text-anchor="end">PIER BELOW</text>
<text x="2088.7" y="461.2" font-size="6" fill="#23c6cf" stroke="#23c6cf" text-anchor="middle">5"</text>
<text x="2241.5" y="451.5" font-size="6" fill="#23c6cf" stroke="#23c6cf" text-anchor="middle">5"</text>
<text x="2214.4" y="481.5" font-size="6" fill="#23c6cf" stroke="#23c6cf" text-anchor="middle" transform="rotate(-90 2214.4 481.5)">5"</text>
<text x="1754" y="524.4" font-size="7.8" fill="#23c6cf" stroke="#23c6cf" text-anchor="end">10'x8' OH</text>
<text x="1885.5" y="524.4" font-size="7.8" fill="#23c6cf" stroke="#23c6cf" text-anchor="middle">10'x8' OH</text>
<text x="2046.2" y="486.2" font-size="7.8" fill="#23c6cf" stroke="#23c6cf" text-anchor="middle">10'x8' OH</text>
<text x="1796.5" y="598.3" font-size="12.09" fill="#e8141e" stroke="#e8141e" text-anchor="middle">9</text>
<text x="1796.5" y="615.8" font-size="13.65" fill="#e8141e" stroke="#e8141e" text-anchor="middle">A8</text>
<text x="1858.2" y="473.7" font-size="7.8" fill="#c9ccd6" stroke="#c9ccd6" text-anchor="middle" transform="rotate(-90 1858.2 473.7)">SLOPE</text>
<text x="1867.3" y="476.3" font-size="7.8" fill="#c9ccd6" stroke="#c9ccd6" text-anchor="middle" transform="rotate(-90 1867.3 476.3)">SLAB</text>
<text x="1386" y="1303" font-size="10" fill="#c9ccd6" stroke="#c9ccd6" text-anchor="middle" letter-spacing="3">WINDOW SCHEDULE</text>
<text x="1259" y="1321.2" font-size="7.9" fill="#c9ccd6" stroke="#c9ccd6" text-anchor="middle">MARK</text>
<text x="1313" y="1321.2" font-size="7.9" fill="#c9ccd6" stroke="#c9ccd6" text-anchor="middle">SIZE</text>
<text x="1371" y="1321.2" font-size="7.9" fill="#c9ccd6" stroke="#c9ccd6" text-anchor="middle">QUANTITY</text>
<text x="1453" y="1321.2" font-size="7.9" fill="#c9ccd6" stroke="#c9ccd6" text-anchor="middle">DESCRIPTION</text>
<text x="1259.4" y="1334.5" font-size="7.9" fill="#c9ccd6" stroke="#c9ccd6" text-anchor="middle">A</text>
<text x="1321" y="1334.5" font-size="7.9" fill="#c9ccd6" stroke="#c9ccd6" text-anchor="end">2660</text>
<text x="1365" y="1334.5" font-size="7.9" fill="#c9ccd6" stroke="#c9ccd6" text-anchor="middle">3</text>
<text x="1407.5" y="1334.5" font-size="7.9" fill="#c9ccd6" stroke="#c9ccd6">CASEMENT W/ 18" TRANSOM</text>
<text x="1259.4" y="1347.2" font-size="7.9" fill="#c9ccd6" stroke="#c9ccd6" text-anchor="middle">B</text>
<text x="1321" y="1347.2" font-size="7.9" fill="#c9ccd6" stroke="#c9ccd6" text-anchor="end">5080</text>
<text x="1365" y="1347.2" font-size="7.9" fill="#c9ccd6" stroke="#c9ccd6" text-anchor="middle">4</text>
<text x="1407.5" y="1347.2" font-size="7.9" fill="#c9ccd6" stroke="#c9ccd6">FIXED</text>
<text x="1259.4" y="1360" font-size="7.9" fill="#c9ccd6" stroke="#c9ccd6" text-anchor="middle">C</text>
<text x="1321" y="1360" font-size="7.9" fill="#c9ccd6" stroke="#c9ccd6" text-anchor="end">3060</text>
<text x="1365" y="1360" font-size="7.9" fill="#c9ccd6" stroke="#c9ccd6" text-anchor="middle">5</text>
<text x="1407.5" y="1360" font-size="7.9" fill="#c9ccd6" stroke="#c9ccd6">DH</text>
<text x="1259.4" y="1372.7" font-size="7.9" fill="#c9ccd6" stroke="#c9ccd6" text-anchor="middle">D</text>
<text x="1321" y="1372.7" font-size="7.9" fill="#c9ccd6" stroke="#c9ccd6" text-anchor="end">2830</text>
<text x="1365" y="1372.7" font-size="7.9" fill="#c9ccd6" stroke="#c9ccd6" text-anchor="middle">2</text>
<text x="1407.5" y="1372.7" font-size="7.9" fill="#c9ccd6" stroke="#c9ccd6">FIXED</text>
<text x="1259.4" y="1385.4" font-size="7.9" fill="#c9ccd6" stroke="#c9ccd6" text-anchor="middle">E</text>
<text x="1321" y="1385.4" font-size="7.9" fill="#c9ccd6" stroke="#c9ccd6" text-anchor="end">2446</text>
<text x="1365" y="1385.4" font-size="7.9" fill="#c9ccd6" stroke="#c9ccd6" text-anchor="middle">3</text>
<text x="1407.5" y="1385.4" font-size="7.9" fill="#c9ccd6" stroke="#c9ccd6">CASEMENT</text>
<text x="1259.4" y="1398.2" font-size="7.9" fill="#c9ccd6" stroke="#c9ccd6" text-anchor="middle">F</text>
<text x="1321" y="1398.2" font-size="7.9" fill="#c9ccd6" stroke="#c9ccd6" text-anchor="end">(2) 2446</text>
<text x="1365" y="1398.2" font-size="7.9" fill="#c9ccd6" stroke="#c9ccd6" text-anchor="middle">1</text>
<text x="1407.5" y="1398.2" font-size="7.9" fill="#c9ccd6" stroke="#c9ccd6">CASEMENT</text>
<text x="1259.4" y="1410.9" font-size="7.9" fill="#c9ccd6" stroke="#c9ccd6" text-anchor="middle">G</text>
<text x="1321" y="1410.9" font-size="7.9" fill="#c9ccd6" stroke="#c9ccd6" text-anchor="end">(2) 3060</text>
<text x="1365" y="1410.9" font-size="7.9" fill="#c9ccd6" stroke="#c9ccd6" text-anchor="middle">1</text>
<text x="1407.5" y="1410.9" font-size="7.9" fill="#c9ccd6" stroke="#c9ccd6">CASEMENT W/ 18" TRANSOM</text>
<text x="1259.4" y="1423.6" font-size="7.9" fill="#c9ccd6" stroke="#c9ccd6" text-anchor="middle">H</text>
<text x="1321" y="1423.6" font-size="7.9" fill="#c9ccd6" stroke="#c9ccd6" text-anchor="end">3660</text>
<text x="1365" y="1423.6" font-size="7.9" fill="#c9ccd6" stroke="#c9ccd6" text-anchor="middle">5</text>
<text x="1407.5" y="1423.6" font-size="7.9" fill="#c9ccd6" stroke="#c9ccd6">DH W/ 18" TRANSOM</text>
<text x="1259.4" y="1436.4" font-size="7.9" fill="#c9ccd6" stroke="#c9ccd6" text-anchor="middle">I</text>
<text x="1321" y="1436.4" font-size="7.9" fill="#c9ccd6" stroke="#c9ccd6" text-anchor="end">(2) 2440</text>
<text x="1365" y="1436.4" font-size="7.9" fill="#c9ccd6" stroke="#c9ccd6" text-anchor="middle">2</text>
<text x="1407.5" y="1436.4" font-size="7.9" fill="#c9ccd6" stroke="#c9ccd6">CASEMENT</text>
<text x="1259.4" y="1449.1" font-size="7.9" fill="#c9ccd6" stroke="#c9ccd6" text-anchor="middle">J</text>
<text x="1321" y="1449.1" font-size="7.9" fill="#c9ccd6" stroke="#c9ccd6" text-anchor="end">2440</text>
<text x="1365" y="1449.1" font-size="7.9" fill="#c9ccd6" stroke="#c9ccd6" text-anchor="middle">2</text>
<text x="1407.5" y="1449.1" font-size="7.9" fill="#c9ccd6" stroke="#c9ccd6">CASEMENT</text>
<text x="1259.4" y="1461.8" font-size="7.9" fill="#c9ccd6" stroke="#c9ccd6" text-anchor="middle">K</text>
<text x="1321" y="1461.8" font-size="7.9" fill="#c9ccd6" stroke="#c9ccd6" text-anchor="end">2866</text>
<text x="1365" y="1461.8" font-size="7.9" fill="#c9ccd6" stroke="#c9ccd6" text-anchor="middle">3</text>
<text x="1407.5" y="1461.8" font-size="7.9" fill="#c9ccd6" stroke="#c9ccd6">DH W/ 18" TRANSOM</text>
<text x="1259.4" y="1474.6" font-size="7.9" fill="#c9ccd6" stroke="#c9ccd6" text-anchor="middle">L</text>
<text x="1321" y="1474.6" font-size="7.9" fill="#c9ccd6" stroke="#c9ccd6" text-anchor="end">2650</text>
<text x="1365" y="1474.6" font-size="7.9" fill="#c9ccd6" stroke="#c9ccd6" text-anchor="middle">5</text>
<text x="1407.5" y="1474.6" font-size="7.9" fill="#c9ccd6" stroke="#c9ccd6">CASEMENT W/ 18" TRANSOM</text>
<text x="1259.4" y="1487.3" font-size="7.9" fill="#c9ccd6" stroke="#c9ccd6" text-anchor="middle">M</text>
<text x="1321" y="1487.3" font-size="7.9" fill="#c9ccd6" stroke="#c9ccd6" text-anchor="end">2040</text>
<text x="1365" y="1487.3" font-size="7.9" fill="#c9ccd6" stroke="#c9ccd6" text-anchor="middle">1</text>
<text x="1407.5" y="1487.3" font-size="7.9" fill="#c9ccd6" stroke="#c9ccd6">FIXED</text>
<text x="1259.4" y="1500" font-size="7.9" fill="#c9ccd6" stroke="#c9ccd6" text-anchor="middle">N</text>
<text x="1321" y="1500" font-size="7.9" fill="#c9ccd6" stroke="#c9ccd6" text-anchor="end">(3) 2846</text>
<text x="1365" y="1500" font-size="7.9" fill="#c9ccd6" stroke="#c9ccd6" text-anchor="middle">4</text>
<text x="1407.5" y="1500" font-size="7.9" fill="#c9ccd6" stroke="#c9ccd6">CASEMENT</text>
<text x="1259.4" y="1512.8" font-size="7.9" fill="#c9ccd6" stroke="#c9ccd6" text-anchor="middle">O</text>
<text x="1321" y="1512.8" font-size="7.9" fill="#c9ccd6" stroke="#c9ccd6" text-anchor="end">(2) 2846</text>
<text x="1365" y="1512.8" font-size="7.9" fill="#c9ccd6" stroke="#c9ccd6" text-anchor="middle">1</text>
<text x="1407.5" y="1512.8" font-size="7.9" fill="#c9ccd6" stroke="#c9ccd6">CASEMENT</text>
<text x="1259.4" y="1525.5" font-size="7.9" fill="#c9ccd6" stroke="#c9ccd6" text-anchor="middle">P</text>
<text x="1321" y="1525.5" font-size="7.9" fill="#c9ccd6" stroke="#c9ccd6" text-anchor="end">30" DIA</text>
<text x="1365" y="1525.5" font-size="7.9" fill="#c9ccd6" stroke="#c9ccd6" text-anchor="middle">2</text>
<text x="1407.5" y="1525.5" font-size="7.9" fill="#c9ccd6" stroke="#c9ccd6">FIXED</text>
<text x="1259.4" y="1538.2" font-size="7.9" fill="#c9ccd6" stroke="#c9ccd6" text-anchor="middle">Q</text>
<text x="1321" y="1538.2" font-size="7.9" fill="#c9ccd6" stroke="#c9ccd6" text-anchor="end">(3) 2840</text>
<text x="1365" y="1538.2" font-size="7.9" fill="#c9ccd6" stroke="#c9ccd6" text-anchor="middle">1</text>
<text x="1407.5" y="1538.2" font-size="7.9" fill="#c9ccd6" stroke="#c9ccd6">FIXED</text>
<text x="1259.4" y="1551" font-size="7.9" fill="#c9ccd6" stroke="#c9ccd6" text-anchor="middle">R</text>
<text x="1321" y="1551" font-size="7.9" fill="#c9ccd6" stroke="#c9ccd6" text-anchor="end">(2) 2850</text>
<text x="1365" y="1551" font-size="7.9" fill="#c9ccd6" stroke="#c9ccd6" text-anchor="middle">1</text>
<text x="1407.5" y="1551" font-size="7.9" fill="#c9ccd6" stroke="#c9ccd6">DH</text>
<text x="1259.4" y="1563.7" font-size="7.9" fill="#c9ccd6" stroke="#c9ccd6" text-anchor="middle">S</text>
<text x="1321" y="1563.7" font-size="7.9" fill="#c9ccd6" stroke="#c9ccd6" text-anchor="end">(2) 2040</text>
<text x="1365" y="1563.7" font-size="7.9" fill="#c9ccd6" stroke="#c9ccd6" text-anchor="middle">1</text>
<text x="1407.5" y="1563.7" font-size="7.9" fill="#c9ccd6" stroke="#c9ccd6">CASEMENT</text>
<text x="1259.4" y="1576.4" font-size="7.9" fill="#c9ccd6" stroke="#c9ccd6" text-anchor="middle">T</text>
<text x="1321" y="1576.4" font-size="7.9" fill="#c9ccd6" stroke="#c9ccd6" text-anchor="end">2040</text>
<text x="1365" y="1576.4" font-size="7.9" fill="#c9ccd6" stroke="#c9ccd6" text-anchor="middle">1</text>
<text x="1407.5" y="1576.4" font-size="7.9" fill="#c9ccd6" stroke="#c9ccd6">CASEMENT</text>
<text x="1259.4" y="1589.2" font-size="7.9" fill="#c9ccd6" stroke="#c9ccd6" text-anchor="middle">U</text>
<text x="1321" y="1589.2" font-size="7.9" fill="#c9ccd6" stroke="#c9ccd6" text-anchor="end">(3) 2846</text>
<text x="1365" y="1589.2" font-size="7.9" fill="#c9ccd6" stroke="#c9ccd6" text-anchor="middle">1</text>
<text x="1407.5" y="1589.2" font-size="7.9" fill="#c9ccd6" stroke="#c9ccd6">FIXED</text>
<text x="1755" y="1303" font-size="10" fill="#c9ccd6" stroke="#c9ccd6" text-anchor="middle" letter-spacing="3">DOOR SCHEDULE</text>
<text x="1657.5" y="1321.2" font-size="7.9" fill="#c9ccd6" stroke="#c9ccd6" text-anchor="middle">MARK</text>
<text x="1711.5" y="1321.2" font-size="7.9" fill="#c9ccd6" stroke="#c9ccd6" text-anchor="middle">SIZE</text>
<text x="1769" y="1321.2" font-size="7.9" fill="#c9ccd6" stroke="#c9ccd6" text-anchor="middle">QUANTITY</text>
<text x="1851.5" y="1321.2" font-size="7.9" fill="#c9ccd6" stroke="#c9ccd6" text-anchor="middle">DESCRIPTION</text>
<text x="1657.5" y="1334.5" font-size="7.9" fill="#c9ccd6" stroke="#c9ccd6" text-anchor="middle">1</text>
<text x="1709" y="1334.5" font-size="7.9" fill="#c9ccd6" stroke="#c9ccd6" text-anchor="middle">6080</text>
<text x="1764" y="1334.5" font-size="7.9" fill="#c9ccd6" stroke="#c9ccd6" text-anchor="middle">1</text>
<text x="1806" y="1334.5" font-size="7.9" fill="#c9ccd6" stroke="#c9ccd6">ENTRY DR W/ 24" SL's &amp; 24" TRANS</text>
<text x="1657.5" y="1347.2" font-size="7.9" fill="#c9ccd6" stroke="#c9ccd6" text-anchor="middle">2</text>
<text x="1709" y="1347.2" font-size="7.9" fill="#c9ccd6" stroke="#c9ccd6" text-anchor="middle">5480</text>
<text x="1764" y="1347.2" font-size="7.9" fill="#c9ccd6" stroke="#c9ccd6" text-anchor="middle">2</text>
<text x="1806" y="1347.2" font-size="7.9" fill="#c9ccd6" stroke="#c9ccd6">FRENCH</text>
<text x="1657.5" y="1360" font-size="7.9" fill="#c9ccd6" stroke="#c9ccd6" text-anchor="middle">3</text>
<text x="1709" y="1360" font-size="7.9" fill="#c9ccd6" stroke="#c9ccd6" text-anchor="middle">3080</text>
<text x="1764" y="1360" font-size="7.9" fill="#c9ccd6" stroke="#c9ccd6" text-anchor="middle">3</text>
<text x="1806" y="1360" font-size="7.9" fill="#c9ccd6" stroke="#c9ccd6">FRENCH</text>
<text x="1657.5" y="1372.7" font-size="7.9" fill="#c9ccd6" stroke="#c9ccd6" text-anchor="middle">4</text>
<text x="1709" y="1372.7" font-size="7.9" fill="#c9ccd6" stroke="#c9ccd6" text-anchor="middle">15'x8'</text>
<text x="1764" y="1372.7" font-size="7.9" fill="#c9ccd6" stroke="#c9ccd6" text-anchor="middle">1</text>
<text x="1806" y="1372.7" font-size="7.9" fill="#c9ccd6" stroke="#c9ccd6">FRENCH, W/ 18" TRANS</text>
<text x="1657.5" y="1385.4" font-size="7.9" fill="#c9ccd6" stroke="#c9ccd6" text-anchor="middle">5</text>
<text x="1709" y="1385.4" font-size="7.9" fill="#c9ccd6" stroke="#c9ccd6" text-anchor="middle">2880</text>
<text x="1764" y="1385.4" font-size="7.9" fill="#c9ccd6" stroke="#c9ccd6" text-anchor="middle">1</text>
<text x="1806" y="1385.4" font-size="7.9" fill="#c9ccd6" stroke="#c9ccd6">1/2 LITE</text>
<text x="1657.5" y="1398.2" font-size="7.9" fill="#c9ccd6" stroke="#c9ccd6" text-anchor="middle">6</text>
<text x="1709" y="1398.2" font-size="7.9" fill="#c9ccd6" stroke="#c9ccd6" text-anchor="middle">6070</text>
<text x="1764" y="1398.2" font-size="7.9" fill="#c9ccd6" stroke="#c9ccd6" text-anchor="middle">1</text>
<text x="1806" y="1398.2" font-size="7.9" fill="#c9ccd6" stroke="#c9ccd6">FRENCH</text>
<text x="1657.5" y="1410.9" font-size="7.9" fill="#c9ccd6" stroke="#c9ccd6" text-anchor="middle">7</text>
<text x="1709" y="1410.9" font-size="7.9" fill="#c9ccd6" stroke="#c9ccd6" text-anchor="middle">9080</text>
<text x="1764" y="1410.9" font-size="7.9" fill="#c9ccd6" stroke="#c9ccd6" text-anchor="middle">1</text>
<text x="1806" y="1410.9" font-size="7.9" fill="#c9ccd6" stroke="#c9ccd6">FRENCH, SLIDING GLASS DOOR</text>
<text x="1657.5" y="1423.6" font-size="7.9" fill="#c9ccd6" stroke="#c9ccd6" text-anchor="middle">8</text>
<text x="1709" y="1423.6" font-size="7.9" fill="#c9ccd6" stroke="#c9ccd6" text-anchor="middle">6080</text>
<text x="1764" y="1423.6" font-size="7.9" fill="#c9ccd6" stroke="#c9ccd6" text-anchor="middle">1</text>
<text x="1806" y="1423.6" font-size="7.9" fill="#c9ccd6" stroke="#c9ccd6">FRENCH</text>
<text x="1657.5" y="1436.4" font-size="7.9" fill="#c9ccd6" stroke="#c9ccd6" text-anchor="middle">9</text>
<text x="1657.5" y="1449.1" font-size="7.9" fill="#c9ccd6" stroke="#c9ccd6" text-anchor="middle">10</text>
<text x="1657.5" y="1461.8" font-size="7.9" fill="#c9ccd6" stroke="#c9ccd6" text-anchor="middle">11</text>
<text x="1657.5" y="1474.6" font-size="7.9" fill="#c9ccd6" stroke="#c9ccd6" text-anchor="middle">12</text>
<text x="1657.5" y="1487.3" font-size="7.9" fill="#c9ccd6" stroke="#c9ccd6" text-anchor="middle">13</text>
<text x="1657.5" y="1500" font-size="7.9" fill="#c9ccd6" stroke="#c9ccd6" text-anchor="middle">14</text>
<text x="1657.5" y="1512.8" font-size="7.9" fill="#c9ccd6" stroke="#c9ccd6" text-anchor="middle">15</text>
<text x="1657.5" y="1525.5" font-size="7.9" fill="#c9ccd6" stroke="#c9ccd6" text-anchor="middle">16</text>
<text x="1657.5" y="1538.2" font-size="7.9" fill="#c9ccd6" stroke="#c9ccd6" text-anchor="middle">17</text>
<text x="1657.5" y="1551" font-size="7.9" fill="#c9ccd6" stroke="#c9ccd6" text-anchor="middle">18</text>
<text x="1657.5" y="1563.7" font-size="7.9" fill="#c9ccd6" stroke="#c9ccd6" text-anchor="middle">19</text>
<text x="1657.5" y="1576.4" font-size="7.9" fill="#c9ccd6" stroke="#c9ccd6" text-anchor="middle">20</text>
<text x="1657.5" y="1589.2" font-size="7.9" fill="#c9ccd6" stroke="#c9ccd6" text-anchor="middle">21</text>
<text x="1657.5" y="1601.9" font-size="7.9" fill="#c9ccd6" stroke="#c9ccd6" text-anchor="middle">22</text>
<text x="2142" y="1299.5" font-size="10" fill="#e8141e" stroke="#e8141e" text-anchor="middle" font-weight="bold" letter-spacing="4.8">ABBREVIATIONS</text>
<text x="2048.2" y="1327.3" font-size="7.9" fill="#c9ccd6" stroke="#c9ccd6">AFF</text>
<text x="2134" y="1327.3" font-size="7.9" fill="#c9ccd6" stroke="#c9ccd6">ABOVE FINISHED FLOOR</text>
<text x="2048.2" y="1336.3" font-size="7.9" fill="#c9ccd6" stroke="#c9ccd6">AO</text>
<text x="2134" y="1336.3" font-size="7.9" fill="#c9ccd6" stroke="#c9ccd6">ARCHED OPENING</text>
<text x="2048.2" y="1345.2" font-size="7.9" fill="#c9ccd6" stroke="#c9ccd6">AHU</text>
<text x="2134" y="1345.2" font-size="7.9" fill="#c9ccd6" stroke="#c9ccd6">AIR HANDLING UNIT</text>
<text x="2048.2" y="1354.2" font-size="7.9" fill="#c9ccd6" stroke="#c9ccd6">CATH</text>
<text x="2134" y="1354.2" font-size="7.9" fill="#c9ccd6" stroke="#c9ccd6">CATHEDRAL</text>
<text x="2048.2" y="1363.2" font-size="7.9" fill="#c9ccd6" stroke="#c9ccd6">CLG</text>
<text x="2134" y="1363.2" font-size="7.9" fill="#c9ccd6" stroke="#c9ccd6">CEILING</text>
<text x="2048.2" y="1372.1" font-size="7.9" fill="#c9ccd6" stroke="#c9ccd6">CONT</text>
<text x="2134" y="1372.1" font-size="7.9" fill="#c9ccd6" stroke="#c9ccd6">CONTINUOUS</text>
<text x="2048.2" y="1381.1" font-size="7.9" fill="#c9ccd6" stroke="#c9ccd6">DIA</text>
<text x="2134" y="1381.1" font-size="7.9" fill="#c9ccd6" stroke="#c9ccd6">DIAMETER</text>
<text x="2048.2" y="1390.1" font-size="7.9" fill="#c9ccd6" stroke="#c9ccd6">DBL</text>
<text x="2134" y="1390.1" font-size="7.9" fill="#c9ccd6" stroke="#c9ccd6">DOUBLE</text>
<text x="2048.2" y="1399" font-size="7.9" fill="#c9ccd6" stroke="#c9ccd6">DO</text>
<text x="2134" y="1399" font-size="7.9" fill="#c9ccd6" stroke="#c9ccd6">DOUBLE OVEN</text>
<text x="2048.2" y="1408" font-size="7.9" fill="#c9ccd6" stroke="#c9ccd6">DW</text>
<text x="2134" y="1408" font-size="7.9" fill="#c9ccd6" stroke="#c9ccd6">DISHWASHER</text>
<text x="2048.2" y="1417" font-size="7.9" fill="#c9ccd6" stroke="#c9ccd6">ELEV</text>
<text x="2134" y="1417" font-size="7.9" fill="#c9ccd6" stroke="#c9ccd6">ELEVATOR</text>
<text x="2048.2" y="1425.9" font-size="7.9" fill="#c9ccd6" stroke="#c9ccd6">FR</text>
<text x="2134" y="1425.9" font-size="7.9" fill="#c9ccd6" stroke="#c9ccd6">FRENCH</text>
<text x="2048.2" y="1434.9" font-size="7.9" fill="#c9ccd6" stroke="#c9ccd6">GWB</text>
<text x="2134" y="1434.9" font-size="7.9" fill="#c9ccd6" stroke="#c9ccd6">GYPSUM WALL BOARD</text>
<text x="2048.2" y="1443.8" font-size="7.9" fill="#c9ccd6" stroke="#c9ccd6">HT</text>
<text x="2134" y="1443.8" font-size="7.9" fill="#c9ccd6" stroke="#c9ccd6">HEIGHT</text>
<text x="2048.2" y="1452.8" font-size="7.9" fill="#c9ccd6" stroke="#c9ccd6">JST</text>
<text x="2134" y="1452.8" font-size="7.9" fill="#c9ccd6" stroke="#c9ccd6">JOIST</text>
<text x="2048.2" y="1461.8" font-size="7.9" fill="#c9ccd6" stroke="#c9ccd6">MO</text>
<text x="2134" y="1461.8" font-size="7.9" fill="#c9ccd6" stroke="#c9ccd6">MASONRY OPENING</text>
<text x="2048.2" y="1470.7" font-size="7.9" fill="#c9ccd6" stroke="#c9ccd6">O/C</text>
<text x="2134" y="1470.7" font-size="7.9" fill="#c9ccd6" stroke="#c9ccd6">ON CENTER</text>
<text x="2048.2" y="1479.7" font-size="7.9" fill="#c9ccd6" stroke="#c9ccd6">PT</text>
<text x="2134" y="1479.7" font-size="7.9" fill="#c9ccd6" stroke="#c9ccd6">PRESSURE TREATED</text>
<text x="2048.2" y="1488.7" font-size="7.9" fill="#c9ccd6" stroke="#c9ccd6">PDS</text>
<text x="2134" y="1488.7" font-size="7.9" fill="#c9ccd6" stroke="#c9ccd6">PULL-DOWN STAIR</text>
<text x="2048.2" y="1497.6" font-size="7.9" fill="#c9ccd6" stroke="#c9ccd6">QTR</text>
<text x="2134" y="1497.6" font-size="7.9" fill="#c9ccd6" stroke="#c9ccd6">QUARTER</text>
<text x="2048.2" y="1506.6" font-size="7.9" fill="#c9ccd6" stroke="#c9ccd6">R</text>
<text x="2134" y="1506.6" font-size="7.9" fill="#c9ccd6" stroke="#c9ccd6">RISER</text>
<text x="2048.2" y="1515.6" font-size="7.9" fill="#c9ccd6" stroke="#c9ccd6">REF</text>
<text x="2134" y="1515.6" font-size="7.9" fill="#c9ccd6" stroke="#c9ccd6">REFRIGERATOR</text>
<text x="2048.2" y="1524.5" font-size="7.9" fill="#c9ccd6" stroke="#c9ccd6">RO</text>
<text x="2134" y="1524.5" font-size="7.9" fill="#c9ccd6" stroke="#c9ccd6">ROUGH OPENING</text>
<text x="2048.2" y="1533.5" font-size="7.9" fill="#c9ccd6" stroke="#c9ccd6">SQ</text>
<text x="2134" y="1533.5" font-size="7.9" fill="#c9ccd6" stroke="#c9ccd6">SQUARE</text>
<text x="2048.2" y="1542.5" font-size="7.9" fill="#c9ccd6" stroke="#c9ccd6">SHWR</text>
<text x="2134" y="1542.5" font-size="7.9" fill="#c9ccd6" stroke="#c9ccd6">SHOWER</text>
<text x="2048.2" y="1551.4" font-size="7.9" fill="#c9ccd6" stroke="#c9ccd6">T</text>
<text x="2134" y="1551.4" font-size="7.9" fill="#c9ccd6" stroke="#c9ccd6">TREAD</text>
<text x="2048.2" y="1560.4" font-size="7.9" fill="#c9ccd6" stroke="#c9ccd6">T&amp;G</text>
<text x="2134" y="1560.4" font-size="7.9" fill="#c9ccd6" stroke="#c9ccd6">TONGUE AND GROOVE</text>
<text x="2048.2" y="1569.4" font-size="7.9" fill="#c9ccd6" stroke="#c9ccd6">UNO</text>
<text x="2134" y="1569.4" font-size="7.9" fill="#c9ccd6" stroke="#c9ccd6">UNLESS NOTED OTHERWISE</text>
<text x="2048.2" y="1578.3" font-size="7.9" fill="#c9ccd6" stroke="#c9ccd6">W/</text>
<text x="2134" y="1578.3" font-size="7.9" fill="#c9ccd6" stroke="#c9ccd6">WITH</text>
<text x="2048.2" y="1587.3" font-size="7.9" fill="#c9ccd6" stroke="#c9ccd6">WWM</text>
<text x="2134" y="1587.3" font-size="7.9" fill="#c9ccd6" stroke="#c9ccd6">WELDED WIRE MESH</text>
<text x="2182.5" y="1196.3" font-size="7.2" fill="#c9ccd6" stroke="#c9ccd6" text-anchor="middle" font-weight="bold" textLength="134" lengthAdjust="spacingAndGlyphs">AREA CALCULATIONS</text>
<text x="2107.8" y="1205.7" font-size="6.3" fill="#c9ccd6" stroke="#c9ccd6">FIRST FLOOR HEATED</text>
<text x="2233" y="1205.7" font-size="6.3" fill="#c9ccd6" stroke="#c9ccd6">5370 SF</text>
<text x="2107.8" y="1213.7" font-size="6.3" fill="#c9ccd6" stroke="#c9ccd6">SECOND FLOOR HEATED</text>
<text x="2233" y="1213.7" font-size="6.3" fill="#c9ccd6" stroke="#c9ccd6">1740 SF</text>
<text x="2107.8" y="1221.8" font-size="6.3" fill="#c9ccd6" stroke="#c9ccd6">GUEST QUARTERS</text>
<text x="2233" y="1221.8" font-size="6.3" fill="#c9ccd6" stroke="#c9ccd6">951 SF</text>
<text x="2107.8" y="1236.8" font-size="6.3" fill="#c9ccd6" stroke="#c9ccd6">TOTAL HEATED AREA</text>
<text x="2233" y="1236.8" font-size="6.3" fill="#c9ccd6" stroke="#c9ccd6">8061 SF</text>
<text x="2107.8" y="1252.7" font-size="6.3" fill="#c9ccd6" stroke="#c9ccd6">GARAGE</text>
<text x="2233" y="1252.7" font-size="6.3" fill="#c9ccd6" stroke="#c9ccd6">1056 SF</text>
<text x="2107.8" y="1260.7" font-size="6.3" fill="#c9ccd6" stroke="#c9ccd6">COVERED PORCH</text>
<text x="2233" y="1260.7" font-size="6.3" fill="#c9ccd6" stroke="#c9ccd6">418 SF</text>
<text x="2107.8" y="1267.8" font-size="6.3" fill="#c9ccd6" stroke="#c9ccd6">TERRACE</text>
<text x="2233" y="1267.8" font-size="6.3" fill="#c9ccd6" stroke="#c9ccd6">175 SF</text>
<rect x="400" y="740" width="300" height="225" fill="#23283c"/>
<path d="M413.6 740L413.6 883.8M549.2 740L549.2 965M478 779.7L700 779.7M639.4 759L639.4 965M579.7 863.7L700 863.7M400 912.9L480 912.9M650.9 942.2L700 942.2" fill="none" stroke="#23c6cf" stroke-width="1.89"/>
<path d="M411.4 761.2L415.8 756.8M411.4 883.9L415.8 879.5M547 761.2L551.4 756.8M547 839.2L551.4 834.8M547 878.5L551.4 874.1M477.8 781.9L482.2 777.5M580.2 781.9L584.6 777.5M682.6 781.9L687 777.5M637.2 817.5L641.6 813.1M637.2 919.2L641.6 914.8M580.2 865.9L584.6 861.5M648.7 865.9L653.1 861.5M421.5 915.1L425.9 910.7M423.7 878.3L423.7 914.3M650.1 944.4L654.5 940" fill="none" stroke="#23c6cf" stroke-width="1.62"/>
<path d="M408.1 759L425.8 759M636.7 917L652.5 917" fill="none" stroke="#23c6cf" stroke-width="1.76"/>
<path d="M480 912.9L582.4 912.9M504.4 841L527.5 841" fill="none" stroke="#e8141e" stroke-width="1.76"/>
<path d="M480 877L480 913.6M582.4 901.4L582.4 913.6" fill="none" stroke="#e8141e" stroke-width="1.49"/>
<path d="M408.1 881.7L420.3 881.7" fill="none" stroke="#23c6cf" stroke-width="1.49"/>
<path d="M400 758.3L448.1 758.3M456.3 760.3L564.8 760.3M568.2 758.3L661.8 758.3M665.8 758.3L700 758.3" fill="none" stroke="#c9ccd6" stroke-width="1.62"/>
<path d="M447.5 740L447.5 760.3M456.3 740L456.3 760.3M564.8 740L564.8 760.3M568.2 740L568.2 760.3M661.8 740L661.8 760.3M665.8 740L665.8 760.3M424.4 765.1L424.4 797M427.8 795.6L427.8 765.1L480.7 765.1L480.7 871.6L427.8 871.6L427.8 834.9M424.4 836.3L424.4 875.6M578.3 769.8L578.3 763.1L484.1 763.1L484.1 837L578.3 837L578.3 808.5M497 763.1L497 824.1L578.3 824.1M578.3 769.2L582.4 769.2L582.4 763.1L679.4 763.1L679.4 769.2L683.5 769.2L683.5 763.1L700 763.1M579 808.5L582.4 808.5L582.4 815.3L679.4 815.3L679.4 808.5L684.1 808.5L684.1 815.3L700 815.3M582.4 898L582.4 822.1L651.6 822.1L651.6 917.7M655.7 820L705.2 820L705.2 917L655.7 917ZM700 921.7L657.7 921.7L657.7 965M652.3 917.7L652.3 965M484.1 841L578.3 841L578.3 871.6L484.1 871.6ZM500.4 876.3L500.4 897.3L582.4 897.3M432.5 875.6L513.2 875.6M570.2 875.6L582.4 875.6M424.4 875.6L424.4 882.4L432.5 882.4L432.5 875.6" fill="none" stroke="#c9ccd6" stroke-width="1.49"/>
<path d="M555.3 740L555.3 758.3M672.6 740L672.6 758.3M400 765.1L422.4 765.1" fill="none" stroke="#c9ccd6" stroke-width="1.35" stroke-dasharray="5.5 2.8"/>
<path d="M448.1 761.7L465.1 750.6L467.8 750.6M427.8 848.5L480.7 848.5M424.4 765.1L427.8 765.1M424.4 836.3L427.8 834.9M426.4 834.9L458.3 807.8M425.1 833.6L457 806.5M425.1 797Q450.2 798.3 459.7 814.3M451.5 866.8L455.6 866.8L455.6 870.2L451.5 870.2ZM579.7 770.5L550.5 796.3M581.1 771.9L551.9 797.6M546.5 791.5Q556 807.8 579 808.5M591.2 815.9L591.2 822.1M639.4 815.9L642.8 815.9L642.8 822.1L639.4 822.1ZM683.5 770.5L653.6 796.3M684.8 771.9L655 797.6M648.9 792.2Q657.7 807.8 679.4 808.5M655.7 820L707.2 917M655.7 917L707.2 820M679.4 868.2a2 2 0 1 0 4 0a2 2 0 1 0 -4 0M652.3 927.8L657.7 927.8M521.4 850.9L562.1 850.9M515.3 847.8L518 847.8L518 860.7L515.3 860.7ZM565.5 847.8L568.2 847.8L568.2 860.7L565.5 860.7ZM526.1 884.2L531.6 884.2L531.6 862.1M416.3 871.6L424.4 871.6M400 858L416.3 871.6M400 855.3L417.6 870.2M588.5 740L591.2 740L591.2 752.2L588.5 752.2ZM639.4 740L642.1 740L642.1 752.2L639.4 752.2Z" fill="none" stroke="#c9ccd6" stroke-width="1.35"/>
<path d="M442 765.8L465.8 765.8L465.8 775.3L442 775.3ZM513.2 845.1L570.2 845.1L570.2 875.6L513.2 875.6ZM586.5 734.6L644.1 734.6L644.1 754.2L586.5 754.2Z" fill="none" stroke="#c9ccd6" stroke-width="2.7"/>
<path d="M503.8 763.1L503.8 817.3L577.7 817.3M591.2 818L641.4 818M591.2 822.1L641.4 822.1" fill="none" stroke="#c9ccd6" stroke-width="1.62" stroke-dasharray="5.5 2.8"/>
<path d="M515.3 823.7L576.3 823.7" fill="none" stroke="#c9ccd6" stroke-width="1.35" stroke-dasharray="10 3 2 3"/>
<path d="M520.7 848.5L515.3 874.3M562.7 848.5L568.2 874.3M592.6 740L594.6 750.2M638 740L636 750.2" fill="none" stroke="#c9ccd6" stroke-width="1.76"/>
<path d="M520.7 848.5L562.7 848.5M594.6 750.2L636 750.2" fill="none" stroke="#c9ccd6" stroke-width="2.03"/>
<path d="M501 841L507.1 838.3L507.1 843.8Z" fill="#e8141e" stroke="#e8141e" stroke-width="1.35"/>
<path d="M424.4 882.4L424.4 965M432.5 882.4L432.5 965" fill="none" stroke="#c9ccd6" stroke-width="1.49" stroke-dasharray="5.5 2.8"/>
<ellipse cx="453.8" cy="787.5" rx="8.8" ry="12.9" fill="none" stroke="#c9ccd6" stroke-width="1.5"/>
<ellipse cx="453.8" cy="788.8" rx="6.5" ry="10.2" fill="none" stroke="#c9ccd6" stroke-width="1"/>
<ellipse cx="453.6" cy="861.4" rx="10.2" ry="8.8" fill="none" stroke="#c9ccd6" stroke-width="2"/>
<ellipse cx="453.6" cy="860.7" rx="7.5" ry="6.4" fill="none" stroke="#c9ccd6" stroke-width="1"/>
<text x="410.6" y="817.3" font-size="7.6" fill="#23c6cf" stroke="#23c6cf" text-anchor="middle" transform="rotate(-90 410.6 817.3)">9'-1"</text>
<text x="410.6" y="746.1" font-size="7.6" fill="#23c6cf" stroke="#23c6cf" text-anchor="middle" transform="rotate(-90 410.6 746.1)">1'-8"</text>
<text x="545.1" y="798.3" font-size="7.6" fill="#23c6cf" stroke="#23c6cf" text-anchor="middle" transform="rotate(-90 545.1 798.3)">6'-5"</text>
<text x="545.1" y="744.7" font-size="7.6" fill="#23c6cf" stroke="#23c6cf" text-anchor="middle" transform="rotate(-90 545.1 744.7)">3'-5"</text>
<text x="545.1" y="856.6" font-size="6.5" fill="#23c6cf" stroke="#23c6cf" text-anchor="middle" transform="rotate(-90 545.1 856.6)">1'-4"</text>
<text x="530.9" y="776.6" font-size="7.6" fill="#23c6cf" stroke="#23c6cf" text-anchor="middle">8'-0"</text>
<text x="621.7" y="776.6" font-size="7.6" fill="#23c6cf" stroke="#23c6cf" text-anchor="middle">7'-11"</text>
<text x="635.7" y="794.2" font-size="7.6" fill="#23c6cf" stroke="#23c6cf" text-anchor="middle" transform="rotate(-90 635.7 794.2)">4'-5"</text>
<text x="635.7" y="875.6" font-size="7.6" fill="#23c6cf" stroke="#23c6cf" text-anchor="middle" transform="rotate(-90 635.7 875.6)">7'-11"</text>
<text x="635.7" y="951.6" font-size="7.6" fill="#23c6cf" stroke="#23c6cf" text-anchor="middle" transform="rotate(-90 635.7 951.6)">5'-2"</text>
<text x="615.6" y="860.7" font-size="7.6" fill="#23c6cf" stroke="#23c6cf" text-anchor="middle">5'-5"</text>
<text x="665.1" y="860.7" font-size="7.6" fill="#23c6cf" stroke="#23c6cf" text-anchor="middle">4'-4"</text>
<text x="451.5" y="908.2" font-size="7.6" fill="#23c6cf" stroke="#23c6cf" text-anchor="middle">4'-5"</text>
<text x="531.6" y="908.2" font-size="7.6" fill="#e8141e" stroke="#e8141e" text-anchor="middle">5'-0"</text>
<text x="409.5" y="879" font-size="6" fill="#23c6cf" stroke="#23c6cf" text-anchor="middle" transform="rotate(-45 409.5 879)">5"</text>
<text x="468.5" y="752.5" font-size="7.8" fill="#c9ccd6" stroke="#c9ccd6">2x6 WALL</text>
<text x="435.9" y="820.3" font-size="6.8" fill="#c9ccd6" stroke="#c9ccd6" text-anchor="middle" transform="rotate(-42 435.9 820.3)">3080</text>
<text x="569.5" y="789.1" font-size="6.8" fill="#c9ccd6" stroke="#c9ccd6" text-anchor="middle" transform="rotate(-42 569.5 789.1)">3080</text>
<text x="616.3" y="828.2" font-size="7.8" fill="#c9ccd6" stroke="#c9ccd6" text-anchor="middle">4080 CO</text>
<text x="669.9" y="789.1" font-size="6.8" fill="#c9ccd6" stroke="#c9ccd6" text-anchor="middle" transform="rotate(-42 669.9 789.1)">3080</text>
<text x="670.6" y="827.5" font-size="7.8" fill="#c9ccd6" stroke="#c9ccd6">ZERO</text>
<text x="670.6" y="836.4" font-size="7.8" fill="#c9ccd6" stroke="#c9ccd6">ENTRY</text>
<text x="670.6" y="845.3" font-size="7.8" fill="#c9ccd6" stroke="#c9ccd6">TILED</text>
<text x="670.6" y="854.2" font-size="7.8" fill="#c9ccd6" stroke="#c9ccd6">SHWR</text>
<text x="647.9" y="951.6" font-size="7.8" fill="#c9ccd6" stroke="#c9ccd6" text-anchor="middle" transform="rotate(-90 647.9 951.6)">4080 CO</text>
<text x="509.2" y="887.2" font-size="7.8" fill="#c9ccd6" stroke="#c9ccd6" text-anchor="middle">48" FP W/</text>
<text x="494.3" y="895.7" font-size="7.8" fill="#c9ccd6" stroke="#c9ccd6" text-anchor="middle">RAISED HEARTH</text>
<text x="502.4" y="958.4" font-size="14.3775" fill="#e8141e" stroke="#e8141e" text-anchor="middle" font-weight="bold">MASTER</text>
<rect x="1133.8" y="1052.3" width="104.9" height="52.5" fill="#23283c"/>
<path d="M1140.1 1052.3L1140.1 1104.8M1229.3 1081.3L1229.3 1104.8" fill="none" stroke="#23c6cf" stroke-width="1.89"/>
<path d="M1133.8 1095.7L1135.6 1095.7M1235.1 1095.7L1238.7 1095.7" fill="none" stroke="#23c6cf" stroke-width="2.03"/>
<path d="M1229.3 1052.3L1229.3 1081.3M1140.1 1055L1156.4 1055M1214.3 1055L1229.3 1055M1143.8 1058.7L1226 1058.7L1226 1093L1143.8 1093ZM1229.3 1080.4L1238.7 1080.4M1229.3 1057.8L1238.7 1057.8" fill="none" stroke="#c9ccd6" stroke-width="1.49"/>
<path d="M1156.4 1055L1214.3 1055L1214.3 1084.9L1156.4 1084.9Z" fill="none" stroke="#c9ccd6" stroke-width="2.56"/>
<path d="M1159.1 1055.9L1165.5 1080.4M1211.6 1055.9L1205.2 1080.4M1133.8 1090.7L1135.6 1090.7M1235.1 1090.7L1238.7 1090.7M1135.6 1086.7L1140.1 1086.7L1140.1 1096.6L1229.7 1096.6L1229.7 1086.7L1235.1 1086.7L1235.1 1101.2L1135.6 1101.2Z" fill="none" stroke="#c9ccd6" stroke-width="1.62"/>
<path d="M1165.5 1079.5L1205.2 1079.5M1133.8 1086.7L1135.6 1086.7M1235.1 1086.7L1238.7 1086.7" fill="none" stroke="#c9ccd6" stroke-width="1.76"/>
<path d="M1162.7 1083.4L1208 1083.4M1158.2 1069.5L1161.8 1069.5L1161.8 1082.2L1158.2 1082.2ZM1208.9 1069.5L1212.5 1069.5L1212.5 1082.2L1208.9 1082.2ZM1136 1101.2L1138.2 1097M1137.8 1101.2L1140 1097M1139.6 1101.2L1141.8 1097M1141.4 1101.2L1143.6 1097M1143.2 1101.2L1145.4 1097M1145 1101.2L1147.2 1097M1146.8 1101.2L1149 1097M1148.6 1101.2L1150.8 1097M1150.5 1101.2L1152.6 1097M1152.3 1101.2L1154.4 1097M1154.1 1101.2L1156.2 1097M1155.9 1101.2L1158 1097M1157.7 1101.2L1159.9 1097M1159.5 1101.2L1161.7 1097M1161.3 1101.2L1163.5 1097M1163.1 1101.2L1165.3 1097M1164.9 1101.2L1167.1 1097M1166.7 1101.2L1168.9 1097M1168.5 1101.2L1170.7 1097M1170.3 1101.2L1172.5 1097M1172.2 1101.2L1174.3 1097M1174 1101.2L1176.1 1097M1175.8 1101.2L1177.9 1097M1177.6 1101.2L1179.7 1097M1179.4 1101.2L1181.6 1097M1181.2 1101.2L1183.4 1097M1183 1101.2L1185.2 1097M1184.8 1101.2L1187 1097M1186.6 1101.2L1188.8 1097M1188.4 1101.2L1190.6 1097M1190.2 1101.2L1192.4 1097M1192 1101.2L1194.2 1097M1193.9 1101.2L1196 1097M1195.7 1101.2L1197.8 1097M1197.5 1101.2L1199.6 1097M1199.3 1101.2L1201.4 1097M1201.1 1101.2L1203.3 1097M1202.9 1101.2L1205.1 1097M1204.7 1101.2L1206.9 1097M1206.5 1101.2L1208.7 1097M1208.3 1101.2L1210.5 1097M1210.1 1101.2L1212.3 1097M1211.9 1101.2L1214.1 1097M1213.7 1101.2L1215.9 1097M1215.6 1101.2L1217.7 1097M1217.4 1101.2L1219.5 1097M1219.2 1101.2L1221.3 1097M1221 1101.2L1223.1 1097M1222.8 1101.2L1225 1097M1224.6 1101.2L1226.8 1097M1226.4 1101.2L1228.6 1097M1228.2 1101.2L1230.4 1097M1230 1101.2L1232.2 1097M1231.8 1101.2L1234 1097M1233.6 1101.2L1235.8 1097M1235.4 1101.2L1237.6 1097M1135.6 1088.5L1140.1 1086.7M1229.7 1088.5L1235.1 1086.7M1135.6 1090.3L1140.1 1088.5M1229.7 1090.3L1235.1 1088.5M1135.6 1092.1L1140.1 1090.3M1229.7 1092.1L1235.1 1090.3M1135.6 1093.9L1140.1 1092.1M1229.7 1093.9L1235.1 1092.1M1135.6 1095.7L1140.1 1093.9M1229.7 1095.7L1235.1 1093.9M1184.8 1052.3L1184.8 1065M1183.9 1062.3L1184.8 1065.9L1185.7 1062.3" fill="none" stroke="#c9ccd6" stroke-width="1.35"/>
<path d="M1133.8 1067.3L1143.8 1067.3M1226 1067.3L1238.7 1067.3" fill="none" stroke="#c9ccd6" stroke-width="1.62" stroke-dasharray="5.5 2.8"/>
<path d="M1237.8 1052.3L1237.8 1080.4" fill="none" stroke="#c9ccd6" stroke-width="1.49" stroke-dasharray="5.5 2.8"/>
</svg></body></html>
